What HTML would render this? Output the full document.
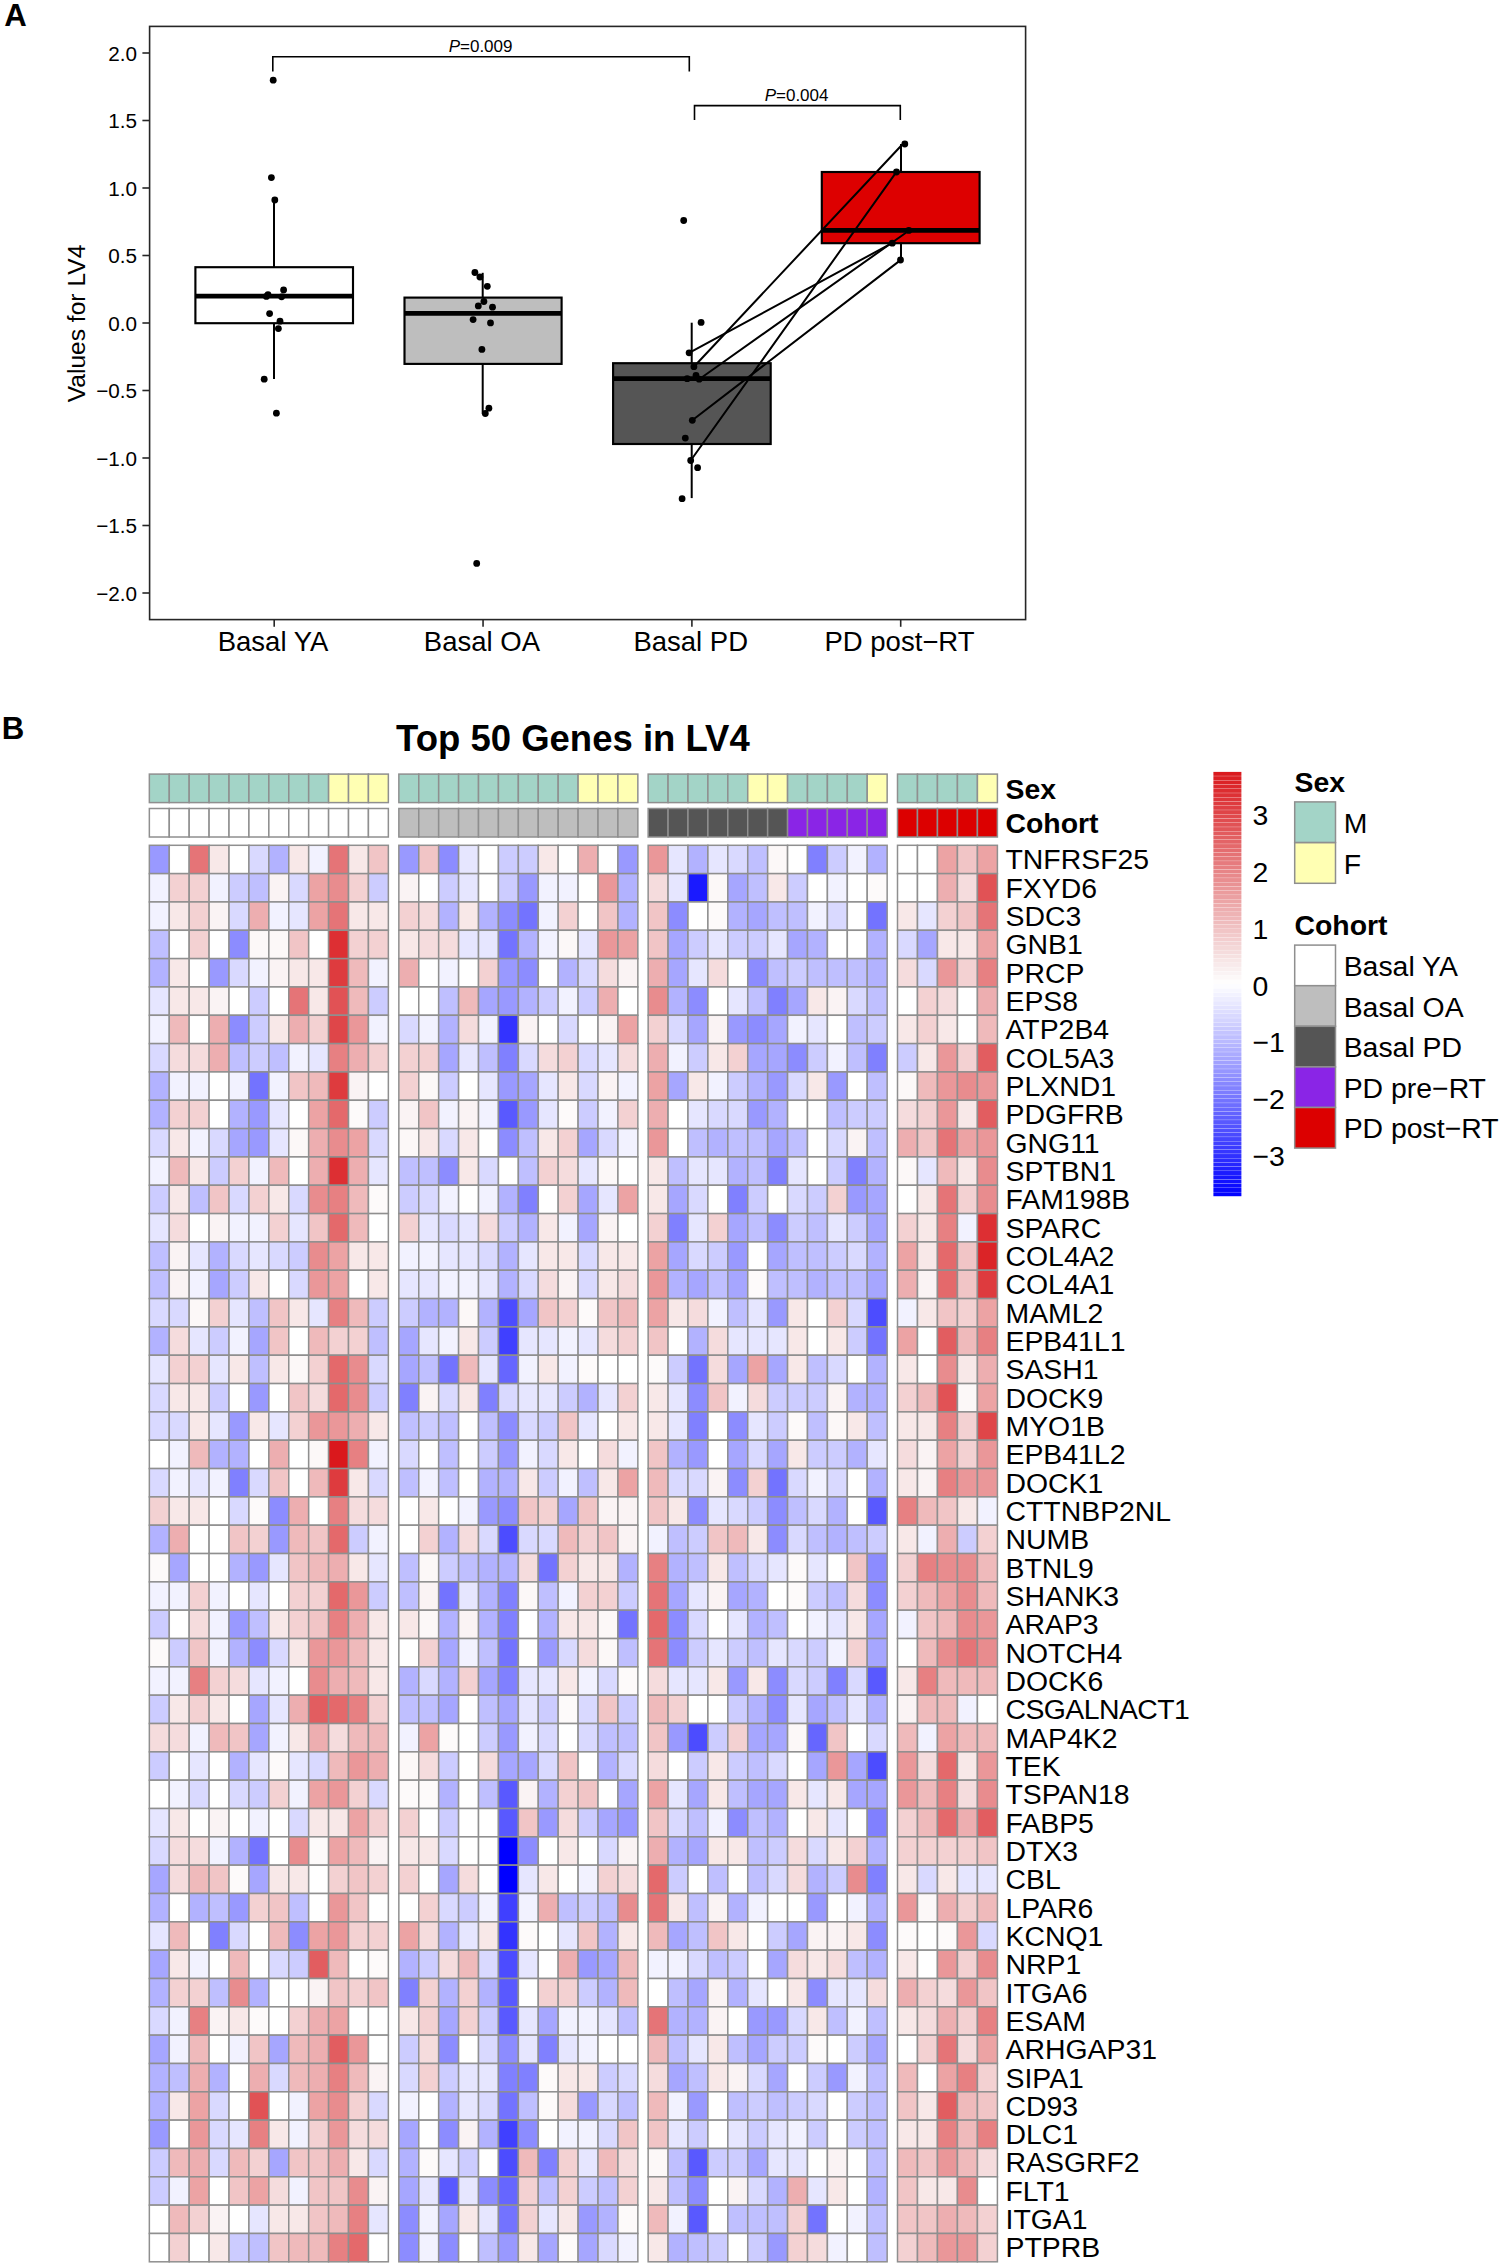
<!DOCTYPE html>
<html lang="en"><head><meta charset="utf-8"><title>Figure: LV4 values and top 50 genes</title>
<style>html,body{margin:0;padding:0;background:#fff}svg{display:block}text{font-family:"Liberation Sans",Arial,Helvetica,sans-serif;fill:#000}</style></head><body>
<svg width="1500" height="2266" viewBox="0 0 1500 2266">
<rect width="1500" height="2266" fill="#fff"/>
<g id="panelA">
<text x="4.3" y="26.2" font-size="31.2" font-weight="bold">A</text>
<line x1="142.4" x2="149.6" y1="53.0" y2="53.0" stroke="#262626" stroke-width="1.6"/>
<text x="137.1" y="60.6" font-size="20.7" text-anchor="end">2.0</text>
<line x1="142.4" x2="149.6" y1="120.5" y2="120.5" stroke="#262626" stroke-width="1.6"/>
<text x="137.1" y="128.1" font-size="20.7" text-anchor="end">1.5</text>
<line x1="142.4" x2="149.6" y1="188.0" y2="188.0" stroke="#262626" stroke-width="1.6"/>
<text x="137.1" y="195.6" font-size="20.7" text-anchor="end">1.0</text>
<line x1="142.4" x2="149.6" y1="255.5" y2="255.5" stroke="#262626" stroke-width="1.6"/>
<text x="137.1" y="263.1" font-size="20.7" text-anchor="end">0.5</text>
<line x1="142.4" x2="149.6" y1="323.0" y2="323.0" stroke="#262626" stroke-width="1.6"/>
<text x="137.1" y="330.6" font-size="20.7" text-anchor="end">0.0</text>
<line x1="142.4" x2="149.6" y1="390.5" y2="390.5" stroke="#262626" stroke-width="1.6"/>
<text x="137.1" y="398.1" font-size="20.7" text-anchor="end">−0.5</text>
<line x1="142.4" x2="149.6" y1="458.0" y2="458.0" stroke="#262626" stroke-width="1.6"/>
<text x="137.1" y="465.6" font-size="20.7" text-anchor="end">−1.0</text>
<line x1="142.4" x2="149.6" y1="525.5" y2="525.5" stroke="#262626" stroke-width="1.6"/>
<text x="137.1" y="533.1" font-size="20.7" text-anchor="end">−1.5</text>
<line x1="142.4" x2="149.6" y1="593.0" y2="593.0" stroke="#262626" stroke-width="1.6"/>
<text x="137.1" y="600.6" font-size="20.7" text-anchor="end">−2.0</text>
<line x1="274.2" x2="274.2" y1="619.6" y2="626.8000000000001" stroke="#262626" stroke-width="1.6"/>
<text x="273.0" y="651" font-size="27.5" text-anchor="middle">Basal YA</text>
<line x1="483.05" x2="483.05" y1="619.6" y2="626.8000000000001" stroke="#262626" stroke-width="1.6"/>
<text x="481.9" y="651" font-size="27.5" text-anchor="middle">Basal OA</text>
<line x1="691.9" x2="691.9" y1="619.6" y2="626.8000000000001" stroke="#262626" stroke-width="1.6"/>
<text x="690.7" y="651" font-size="27.5" text-anchor="middle">Basal PD</text>
<line x1="900.7" x2="900.7" y1="619.6" y2="626.8000000000001" stroke="#262626" stroke-width="1.6"/>
<text x="899.5" y="651" font-size="27.5" text-anchor="middle">PD post−RT</text>
<text transform="translate(85,323.5) rotate(-90)" font-size="24.6" text-anchor="middle">Values for LV4</text>
<line x1="274.0" x2="274.0" y1="200.0" y2="267.2" stroke="#000" stroke-width="2.0"/>
<line x1="274.0" x2="274.0" y1="323.2" y2="379.0" stroke="#000" stroke-width="2.0"/>
<rect x="195.4" y="267.2" width="157.6" height="56.0" fill="#ffffff" stroke="#000" stroke-width="2.15"/>
<line x1="195.4" x2="353.0" y1="296.2" y2="296.2" stroke="#000" stroke-width="4.8"/>
<line x1="482.7" x2="482.7" y1="272.8" y2="297.6" stroke="#000" stroke-width="2.0"/>
<line x1="482.7" x2="482.7" y1="363.9" y2="413.7" stroke="#000" stroke-width="2.0"/>
<rect x="404.5" y="297.6" width="157.1" height="66.3" fill="#bebebe" stroke="#000" stroke-width="2.15"/>
<line x1="404.5" x2="561.6" y1="313.3" y2="313.3" stroke="#000" stroke-width="4.8"/>
<line x1="691.7" x2="691.7" y1="322.7" y2="363.2" stroke="#000" stroke-width="2.0"/>
<line x1="691.7" x2="691.7" y1="444.0" y2="498.1" stroke="#000" stroke-width="2.0"/>
<rect x="613.1" y="363.2" width="157.6" height="80.8" fill="#555555" stroke="#000" stroke-width="2.15"/>
<line x1="613.1" x2="770.7" y1="378.7" y2="378.7" stroke="#000" stroke-width="4.8"/>
<line x1="901.0" x2="901.0" y1="144.0" y2="172.0" stroke="#000" stroke-width="2.0"/>
<line x1="901.0" x2="901.0" y1="243.2" y2="260.0" stroke="#000" stroke-width="2.0"/>
<rect x="821.8" y="172.0" width="157.8" height="71.2" fill="#dd0000" stroke="#000" stroke-width="2.15"/>
<line x1="821.8" x2="979.6" y1="230.4" y2="230.4" stroke="#000" stroke-width="4.8"/>
<line x1="693.9" y1="366.7" x2="900.9" y2="146.0" stroke="#000" stroke-width="2.0" stroke-linecap="round"/>
<line x1="690.7" y1="460.5" x2="896.3" y2="172.1" stroke="#000" stroke-width="2.0" stroke-linecap="round"/>
<line x1="699.2" y1="379.2" x2="909.1" y2="230.5" stroke="#000" stroke-width="2.0" stroke-linecap="round"/>
<line x1="689.1" y1="352.8" x2="892.0" y2="243.1" stroke="#000" stroke-width="2.0" stroke-linecap="round"/>
<line x1="692.3" y1="420.3" x2="900.5" y2="260.1" stroke="#000" stroke-width="2.0" stroke-linecap="round"/>
<circle cx="273.2" cy="80.2" r="3.4" fill="#000"/>
<circle cx="271.4" cy="177.6" r="3.4" fill="#000"/>
<circle cx="274.8" cy="200" r="3.4" fill="#000"/>
<circle cx="283.6" cy="290" r="3.4" fill="#000"/>
<circle cx="266.4" cy="296.4" r="3.4" fill="#000"/>
<circle cx="268.0" cy="294.6" r="3.4" fill="#000"/>
<circle cx="281.6" cy="296.8" r="3.4" fill="#000"/>
<circle cx="269.6" cy="313.6" r="3.4" fill="#000"/>
<circle cx="280" cy="321.2" r="3.4" fill="#000"/>
<circle cx="278.4" cy="328.6" r="3.4" fill="#000"/>
<circle cx="264.2" cy="379.2" r="3.4" fill="#000"/>
<circle cx="276.4" cy="413.2" r="3.4" fill="#000"/>
<circle cx="474.9" cy="272.5" r="3.4" fill="#000"/>
<circle cx="479.9" cy="277" r="3.4" fill="#000"/>
<circle cx="487.3" cy="286.3" r="3.4" fill="#000"/>
<circle cx="483.9" cy="301.5" r="3.4" fill="#000"/>
<circle cx="478.3" cy="305.9" r="3.4" fill="#000"/>
<circle cx="492.5" cy="307.2" r="3.4" fill="#000"/>
<circle cx="473.1" cy="319.6" r="3.4" fill="#000"/>
<circle cx="490.5" cy="322.9" r="3.4" fill="#000"/>
<circle cx="481.9" cy="349.4" r="3.4" fill="#000"/>
<circle cx="488.9" cy="408.2" r="3.4" fill="#000"/>
<circle cx="485.3" cy="413.5" r="3.4" fill="#000"/>
<circle cx="476.7" cy="563.4" r="3.4" fill="#000"/>
<circle cx="683.7" cy="220.5" r="3.4" fill="#000"/>
<circle cx="701.1" cy="322.4" r="3.4" fill="#000"/>
<circle cx="689.1" cy="352.8" r="3.4" fill="#000"/>
<circle cx="693.9" cy="366.7" r="3.4" fill="#000"/>
<circle cx="687.2" cy="378.7" r="3.4" fill="#000"/>
<circle cx="696" cy="375.5" r="3.4" fill="#000"/>
<circle cx="699.2" cy="379.2" r="3.4" fill="#000"/>
<circle cx="692.3" cy="420.3" r="3.4" fill="#000"/>
<circle cx="685.3" cy="438.1" r="3.4" fill="#000"/>
<circle cx="690.7" cy="460.5" r="3.4" fill="#000"/>
<circle cx="697.6" cy="467.7" r="3.4" fill="#000"/>
<circle cx="682.1" cy="498.7" r="3.4" fill="#000"/>
<circle cx="904.8" cy="144" r="3.4" fill="#000"/>
<circle cx="896.5" cy="172" r="3.4" fill="#000"/>
<circle cx="908.8" cy="230.4" r="3.4" fill="#000"/>
<circle cx="892.3" cy="243.2" r="3.4" fill="#000"/>
<circle cx="900.5" cy="260" r="3.4" fill="#000"/>
<path d="M272.8 71.6 V56.7 H689.3 V71.6" fill="none" stroke="#000" stroke-width="1.6"/>
<path d="M694.5 120 V105.6 H900.3 V120" fill="none" stroke="#000" stroke-width="1.6"/>
<text x="480.6" y="51.5" font-size="17" text-anchor="middle"><tspan font-style="italic">P</tspan>=0.009</text>
<text x="796.6" y="100.8" font-size="17" text-anchor="middle"><tspan font-style="italic">P</tspan>=0.004</text>
<rect x="149.6" y="26.4" width="876.0" height="593.2" fill="none" stroke="#262626" stroke-width="1.6"/>
</g>
<g id="panelB">
<text x="1.7" y="739" font-size="31.2" font-weight="bold">B</text>
<text x="572.9" y="751.3" font-size="36.5" font-weight="bold" text-anchor="middle">Top 50 Genes in LV4</text>
<g stroke="#8f8f8f" stroke-width="1.5">
<rect x="149.35" y="774.10" width="19.92" height="28.50" fill="#a3d4c7"/>
<rect x="169.27" y="774.10" width="19.92" height="28.50" fill="#a3d4c7"/>
<rect x="189.18" y="774.10" width="19.92" height="28.50" fill="#a3d4c7"/>
<rect x="209.10" y="774.10" width="19.92" height="28.50" fill="#a3d4c7"/>
<rect x="229.02" y="774.10" width="19.92" height="28.50" fill="#a3d4c7"/>
<rect x="248.93" y="774.10" width="19.92" height="28.50" fill="#a3d4c7"/>
<rect x="268.85" y="774.10" width="19.92" height="28.50" fill="#a3d4c7"/>
<rect x="288.77" y="774.10" width="19.92" height="28.50" fill="#a3d4c7"/>
<rect x="308.68" y="774.10" width="19.92" height="28.50" fill="#a3d4c7"/>
<rect x="328.60" y="774.10" width="19.92" height="28.50" fill="#ffffb3"/>
<rect x="348.52" y="774.10" width="19.92" height="28.50" fill="#ffffb3"/>
<rect x="368.43" y="774.10" width="19.92" height="28.50" fill="#ffffb3"/>
<rect x="398.85" y="774.10" width="19.92" height="28.50" fill="#a3d4c7"/>
<rect x="418.77" y="774.10" width="19.92" height="28.50" fill="#a3d4c7"/>
<rect x="438.68" y="774.10" width="19.92" height="28.50" fill="#a3d4c7"/>
<rect x="458.60" y="774.10" width="19.92" height="28.50" fill="#a3d4c7"/>
<rect x="478.52" y="774.10" width="19.92" height="28.50" fill="#a3d4c7"/>
<rect x="498.43" y="774.10" width="19.92" height="28.50" fill="#a3d4c7"/>
<rect x="518.35" y="774.10" width="19.92" height="28.50" fill="#a3d4c7"/>
<rect x="538.27" y="774.10" width="19.92" height="28.50" fill="#a3d4c7"/>
<rect x="558.18" y="774.10" width="19.92" height="28.50" fill="#a3d4c7"/>
<rect x="578.10" y="774.10" width="19.92" height="28.50" fill="#ffffb3"/>
<rect x="598.02" y="774.10" width="19.92" height="28.50" fill="#ffffb3"/>
<rect x="617.93" y="774.10" width="19.92" height="28.50" fill="#ffffb3"/>
<rect x="648.15" y="774.10" width="19.92" height="28.50" fill="#a3d4c7"/>
<rect x="668.07" y="774.10" width="19.92" height="28.50" fill="#a3d4c7"/>
<rect x="687.98" y="774.10" width="19.92" height="28.50" fill="#a3d4c7"/>
<rect x="707.90" y="774.10" width="19.92" height="28.50" fill="#a3d4c7"/>
<rect x="727.82" y="774.10" width="19.92" height="28.50" fill="#a3d4c7"/>
<rect x="747.73" y="774.10" width="19.92" height="28.50" fill="#ffffb3"/>
<rect x="767.65" y="774.10" width="19.92" height="28.50" fill="#ffffb3"/>
<rect x="787.57" y="774.10" width="19.92" height="28.50" fill="#a3d4c7"/>
<rect x="807.48" y="774.10" width="19.92" height="28.50" fill="#a3d4c7"/>
<rect x="827.40" y="774.10" width="19.92" height="28.50" fill="#a3d4c7"/>
<rect x="847.32" y="774.10" width="19.92" height="28.50" fill="#a3d4c7"/>
<rect x="867.23" y="774.10" width="19.92" height="28.50" fill="#ffffb3"/>
<rect x="897.50" y="774.10" width="19.98" height="28.50" fill="#a3d4c7"/>
<rect x="917.48" y="774.10" width="19.98" height="28.50" fill="#a3d4c7"/>
<rect x="937.46" y="774.10" width="19.98" height="28.50" fill="#a3d4c7"/>
<rect x="957.44" y="774.10" width="19.98" height="28.50" fill="#a3d4c7"/>
<rect x="977.42" y="774.10" width="19.98" height="28.50" fill="#ffffb3"/>
<rect x="149.35" y="808.50" width="19.92" height="28.50" fill="#ffffff"/>
<rect x="169.27" y="808.50" width="19.92" height="28.50" fill="#ffffff"/>
<rect x="189.18" y="808.50" width="19.92" height="28.50" fill="#ffffff"/>
<rect x="209.10" y="808.50" width="19.92" height="28.50" fill="#ffffff"/>
<rect x="229.02" y="808.50" width="19.92" height="28.50" fill="#ffffff"/>
<rect x="248.93" y="808.50" width="19.92" height="28.50" fill="#ffffff"/>
<rect x="268.85" y="808.50" width="19.92" height="28.50" fill="#ffffff"/>
<rect x="288.77" y="808.50" width="19.92" height="28.50" fill="#ffffff"/>
<rect x="308.68" y="808.50" width="19.92" height="28.50" fill="#ffffff"/>
<rect x="328.60" y="808.50" width="19.92" height="28.50" fill="#ffffff"/>
<rect x="348.52" y="808.50" width="19.92" height="28.50" fill="#ffffff"/>
<rect x="368.43" y="808.50" width="19.92" height="28.50" fill="#ffffff"/>
<rect x="398.85" y="808.50" width="19.92" height="28.50" fill="#bebebe"/>
<rect x="418.77" y="808.50" width="19.92" height="28.50" fill="#bebebe"/>
<rect x="438.68" y="808.50" width="19.92" height="28.50" fill="#bebebe"/>
<rect x="458.60" y="808.50" width="19.92" height="28.50" fill="#bebebe"/>
<rect x="478.52" y="808.50" width="19.92" height="28.50" fill="#bebebe"/>
<rect x="498.43" y="808.50" width="19.92" height="28.50" fill="#bebebe"/>
<rect x="518.35" y="808.50" width="19.92" height="28.50" fill="#bebebe"/>
<rect x="538.27" y="808.50" width="19.92" height="28.50" fill="#bebebe"/>
<rect x="558.18" y="808.50" width="19.92" height="28.50" fill="#bebebe"/>
<rect x="578.10" y="808.50" width="19.92" height="28.50" fill="#bebebe"/>
<rect x="598.02" y="808.50" width="19.92" height="28.50" fill="#bebebe"/>
<rect x="617.93" y="808.50" width="19.92" height="28.50" fill="#bebebe"/>
<rect x="648.15" y="808.50" width="19.92" height="28.50" fill="#555555"/>
<rect x="668.07" y="808.50" width="19.92" height="28.50" fill="#555555"/>
<rect x="687.98" y="808.50" width="19.92" height="28.50" fill="#555555"/>
<rect x="707.90" y="808.50" width="19.92" height="28.50" fill="#555555"/>
<rect x="727.82" y="808.50" width="19.92" height="28.50" fill="#555555"/>
<rect x="747.73" y="808.50" width="19.92" height="28.50" fill="#555555"/>
<rect x="767.65" y="808.50" width="19.92" height="28.50" fill="#555555"/>
<rect x="787.57" y="808.50" width="19.92" height="28.50" fill="#8a25e6"/>
<rect x="807.48" y="808.50" width="19.92" height="28.50" fill="#8a25e6"/>
<rect x="827.40" y="808.50" width="19.92" height="28.50" fill="#8a25e6"/>
<rect x="847.32" y="808.50" width="19.92" height="28.50" fill="#8a25e6"/>
<rect x="867.23" y="808.50" width="19.92" height="28.50" fill="#8a25e6"/>
<rect x="897.50" y="808.50" width="19.98" height="28.50" fill="#dc0000"/>
<rect x="917.48" y="808.50" width="19.98" height="28.50" fill="#dc0000"/>
<rect x="937.46" y="808.50" width="19.98" height="28.50" fill="#dc0000"/>
<rect x="957.44" y="808.50" width="19.98" height="28.50" fill="#dc0000"/>
<rect x="977.42" y="808.50" width="19.98" height="28.50" fill="#dc0000"/>
<rect x="149.35" y="845.30" width="19.92" height="28.33" fill="#9999ff"/>
<rect x="169.27" y="845.30" width="19.92" height="28.33" fill="#ffffff"/>
<rect x="189.18" y="845.30" width="19.92" height="28.33" fill="#e57477"/>
<rect x="209.10" y="845.30" width="19.92" height="28.33" fill="#f8e8e8"/>
<rect x="229.02" y="845.30" width="19.92" height="28.33" fill="#ffffff"/>
<rect x="248.93" y="845.30" width="19.92" height="28.33" fill="#d9d9ff"/>
<rect x="268.85" y="845.30" width="19.92" height="28.33" fill="#b2b2ff"/>
<rect x="288.77" y="845.30" width="19.92" height="28.33" fill="#f8e8e8"/>
<rect x="308.68" y="845.30" width="19.92" height="28.33" fill="#f2f2ff"/>
<rect x="328.60" y="845.30" width="19.92" height="28.33" fill="#e57477"/>
<rect x="348.52" y="845.30" width="19.92" height="28.33" fill="#f8e8e8"/>
<rect x="368.43" y="845.30" width="19.92" height="28.33" fill="#f1c5c6"/>
<rect x="398.85" y="845.30" width="19.92" height="28.33" fill="#9999ff"/>
<rect x="418.77" y="845.30" width="19.92" height="28.33" fill="#f1c5c6"/>
<rect x="438.68" y="845.30" width="19.92" height="28.33" fill="#8c8cff"/>
<rect x="458.60" y="845.30" width="19.92" height="28.33" fill="#e6e6ff"/>
<rect x="478.52" y="845.30" width="19.92" height="28.33" fill="#ffffff"/>
<rect x="498.43" y="845.30" width="19.92" height="28.33" fill="#ccccff"/>
<rect x="518.35" y="845.30" width="19.92" height="28.33" fill="#ccccff"/>
<rect x="538.27" y="845.30" width="19.92" height="28.33" fill="#f8e8e8"/>
<rect x="558.18" y="845.30" width="19.92" height="28.33" fill="#ffffff"/>
<rect x="578.10" y="845.30" width="19.92" height="28.33" fill="#edaeb0"/>
<rect x="598.02" y="845.30" width="19.92" height="28.33" fill="#ffffff"/>
<rect x="617.93" y="845.30" width="19.92" height="28.33" fill="#9999ff"/>
<rect x="648.15" y="845.30" width="19.92" height="28.33" fill="#ea9799"/>
<rect x="668.07" y="845.30" width="19.92" height="28.33" fill="#e6e6ff"/>
<rect x="687.98" y="845.30" width="19.92" height="28.33" fill="#b2b2ff"/>
<rect x="707.90" y="845.30" width="19.92" height="28.33" fill="#e6e6ff"/>
<rect x="727.82" y="845.30" width="19.92" height="28.33" fill="#d9d9ff"/>
<rect x="747.73" y="845.30" width="19.92" height="28.33" fill="#bfbfff"/>
<rect x="767.65" y="845.30" width="19.92" height="28.33" fill="#fcf8f8"/>
<rect x="787.57" y="845.30" width="19.92" height="28.33" fill="#ffffff"/>
<rect x="807.48" y="845.30" width="19.92" height="28.33" fill="#8080ff"/>
<rect x="827.40" y="845.30" width="19.92" height="28.33" fill="#ccccff"/>
<rect x="847.32" y="845.30" width="19.92" height="28.33" fill="#f2f2ff"/>
<rect x="867.23" y="845.30" width="19.92" height="28.33" fill="#b2b2ff"/>
<rect x="897.50" y="845.30" width="19.98" height="28.33" fill="#ffffff"/>
<rect x="917.48" y="845.30" width="19.98" height="28.33" fill="#ffffff"/>
<rect x="937.46" y="845.30" width="19.98" height="28.33" fill="#eca3a4"/>
<rect x="957.44" y="845.30" width="19.98" height="28.33" fill="#f1c5c6"/>
<rect x="977.42" y="845.30" width="19.98" height="28.33" fill="#eca3a4"/>
<rect x="149.35" y="873.63" width="19.92" height="28.33" fill="#f2f2ff"/>
<rect x="169.27" y="873.63" width="19.92" height="28.33" fill="#f3d1d2"/>
<rect x="189.18" y="873.63" width="19.92" height="28.33" fill="#f3d1d2"/>
<rect x="209.10" y="873.63" width="19.92" height="28.33" fill="#f2f2ff"/>
<rect x="229.02" y="873.63" width="19.92" height="28.33" fill="#ccccff"/>
<rect x="248.93" y="873.63" width="19.92" height="28.33" fill="#bfbfff"/>
<rect x="268.85" y="873.63" width="19.92" height="28.33" fill="#faf3f4"/>
<rect x="288.77" y="873.63" width="19.92" height="28.33" fill="#d9d9ff"/>
<rect x="308.68" y="873.63" width="19.92" height="28.33" fill="#eca3a4"/>
<rect x="328.60" y="873.63" width="19.92" height="28.33" fill="#e88c8e"/>
<rect x="348.52" y="873.63" width="19.92" height="28.33" fill="#f3d1d2"/>
<rect x="368.43" y="873.63" width="19.92" height="28.33" fill="#ccccff"/>
<rect x="398.85" y="873.63" width="19.92" height="28.33" fill="#faf3f4"/>
<rect x="418.77" y="873.63" width="19.92" height="28.33" fill="#ffffff"/>
<rect x="438.68" y="873.63" width="19.92" height="28.33" fill="#ccccff"/>
<rect x="458.60" y="873.63" width="19.92" height="28.33" fill="#e6e6ff"/>
<rect x="478.52" y="873.63" width="19.92" height="28.33" fill="#ffffff"/>
<rect x="498.43" y="873.63" width="19.92" height="28.33" fill="#ccccff"/>
<rect x="518.35" y="873.63" width="19.92" height="28.33" fill="#9999ff"/>
<rect x="538.27" y="873.63" width="19.92" height="28.33" fill="#f2f2ff"/>
<rect x="558.18" y="873.63" width="19.92" height="28.33" fill="#f2f2ff"/>
<rect x="578.10" y="873.63" width="19.92" height="28.33" fill="#ffffff"/>
<rect x="598.02" y="873.63" width="19.92" height="28.33" fill="#ea9799"/>
<rect x="617.93" y="873.63" width="19.92" height="28.33" fill="#b2b2ff"/>
<rect x="648.15" y="873.63" width="19.92" height="28.33" fill="#f5dcdd"/>
<rect x="668.07" y="873.63" width="19.92" height="28.33" fill="#e6e6ff"/>
<rect x="687.98" y="873.63" width="19.92" height="28.33" fill="#1a1aff"/>
<rect x="707.90" y="873.63" width="19.92" height="28.33" fill="#fcf8f8"/>
<rect x="727.82" y="873.63" width="19.92" height="28.33" fill="#a6a6ff"/>
<rect x="747.73" y="873.63" width="19.92" height="28.33" fill="#bfbfff"/>
<rect x="767.65" y="873.63" width="19.92" height="28.33" fill="#f8e8e8"/>
<rect x="787.57" y="873.63" width="19.92" height="28.33" fill="#ccccff"/>
<rect x="807.48" y="873.63" width="19.92" height="28.33" fill="#ffffff"/>
<rect x="827.40" y="873.63" width="19.92" height="28.33" fill="#f2f2ff"/>
<rect x="847.32" y="873.63" width="19.92" height="28.33" fill="#ffffff"/>
<rect x="867.23" y="873.63" width="19.92" height="28.33" fill="#fdfafa"/>
<rect x="897.50" y="873.63" width="19.98" height="28.33" fill="#ffffff"/>
<rect x="917.48" y="873.63" width="19.98" height="28.33" fill="#ffffff"/>
<rect x="937.46" y="873.63" width="19.98" height="28.33" fill="#edaeb0"/>
<rect x="957.44" y="873.63" width="19.98" height="28.33" fill="#f5dcdd"/>
<rect x="977.42" y="873.63" width="19.98" height="28.33" fill="#e15255"/>
<rect x="149.35" y="901.96" width="19.92" height="28.33" fill="#f2f2ff"/>
<rect x="169.27" y="901.96" width="19.92" height="28.33" fill="#f8e8e8"/>
<rect x="189.18" y="901.96" width="19.92" height="28.33" fill="#f3d1d2"/>
<rect x="209.10" y="901.96" width="19.92" height="28.33" fill="#faf3f4"/>
<rect x="229.02" y="901.96" width="19.92" height="28.33" fill="#d9d9ff"/>
<rect x="248.93" y="901.96" width="19.92" height="28.33" fill="#edaeb0"/>
<rect x="268.85" y="901.96" width="19.92" height="28.33" fill="#f2f2ff"/>
<rect x="288.77" y="901.96" width="19.92" height="28.33" fill="#e6e6ff"/>
<rect x="308.68" y="901.96" width="19.92" height="28.33" fill="#eca3a4"/>
<rect x="328.60" y="901.96" width="19.92" height="28.33" fill="#e57477"/>
<rect x="348.52" y="901.96" width="19.92" height="28.33" fill="#f8e8e8"/>
<rect x="368.43" y="901.96" width="19.92" height="28.33" fill="#f8e8e8"/>
<rect x="398.85" y="901.96" width="19.92" height="28.33" fill="#f3d1d2"/>
<rect x="418.77" y="901.96" width="19.92" height="28.33" fill="#f5dcdd"/>
<rect x="438.68" y="901.96" width="19.92" height="28.33" fill="#b2b2ff"/>
<rect x="458.60" y="901.96" width="19.92" height="28.33" fill="#f8e8e8"/>
<rect x="478.52" y="901.96" width="19.92" height="28.33" fill="#b2b2ff"/>
<rect x="498.43" y="901.96" width="19.92" height="28.33" fill="#8c8cff"/>
<rect x="518.35" y="901.96" width="19.92" height="28.33" fill="#7373ff"/>
<rect x="538.27" y="901.96" width="19.92" height="28.33" fill="#f2f2ff"/>
<rect x="558.18" y="901.96" width="19.92" height="28.33" fill="#f3d1d2"/>
<rect x="578.10" y="901.96" width="19.92" height="28.33" fill="#ffffff"/>
<rect x="598.02" y="901.96" width="19.92" height="28.33" fill="#f1c5c6"/>
<rect x="617.93" y="901.96" width="19.92" height="28.33" fill="#b2b2ff"/>
<rect x="648.15" y="901.96" width="19.92" height="28.33" fill="#f1c5c6"/>
<rect x="668.07" y="901.96" width="19.92" height="28.33" fill="#8c8cff"/>
<rect x="687.98" y="901.96" width="19.92" height="28.33" fill="#ffffff"/>
<rect x="707.90" y="901.96" width="19.92" height="28.33" fill="#fdfafa"/>
<rect x="727.82" y="901.96" width="19.92" height="28.33" fill="#b2b2ff"/>
<rect x="747.73" y="901.96" width="19.92" height="28.33" fill="#a6a6ff"/>
<rect x="767.65" y="901.96" width="19.92" height="28.33" fill="#bfbfff"/>
<rect x="787.57" y="901.96" width="19.92" height="28.33" fill="#bfbfff"/>
<rect x="807.48" y="901.96" width="19.92" height="28.33" fill="#f2f2ff"/>
<rect x="827.40" y="901.96" width="19.92" height="28.33" fill="#d9d9ff"/>
<rect x="847.32" y="901.96" width="19.92" height="28.33" fill="#ffffff"/>
<rect x="867.23" y="901.96" width="19.92" height="28.33" fill="#7373ff"/>
<rect x="897.50" y="901.96" width="19.98" height="28.33" fill="#f8e8e8"/>
<rect x="917.48" y="901.96" width="19.98" height="28.33" fill="#e6e6ff"/>
<rect x="937.46" y="901.96" width="19.98" height="28.33" fill="#f3d1d2"/>
<rect x="957.44" y="901.96" width="19.98" height="28.33" fill="#f1c5c6"/>
<rect x="977.42" y="901.96" width="19.98" height="28.33" fill="#e57477"/>
<rect x="149.35" y="930.29" width="19.92" height="28.33" fill="#bfbfff"/>
<rect x="169.27" y="930.29" width="19.92" height="28.33" fill="#ffffff"/>
<rect x="189.18" y="930.29" width="19.92" height="28.33" fill="#f3d1d2"/>
<rect x="209.10" y="930.29" width="19.92" height="28.33" fill="#ffffff"/>
<rect x="229.02" y="930.29" width="19.92" height="28.33" fill="#8c8cff"/>
<rect x="248.93" y="930.29" width="19.92" height="28.33" fill="#fcf8f8"/>
<rect x="268.85" y="930.29" width="19.92" height="28.33" fill="#fcf8f8"/>
<rect x="288.77" y="930.29" width="19.92" height="28.33" fill="#f1c5c6"/>
<rect x="308.68" y="930.29" width="19.92" height="28.33" fill="#ffffff"/>
<rect x="328.60" y="930.29" width="19.92" height="28.33" fill="#dd2f33"/>
<rect x="348.52" y="930.29" width="19.92" height="28.33" fill="#f3d1d2"/>
<rect x="368.43" y="930.29" width="19.92" height="28.33" fill="#f3d1d2"/>
<rect x="398.85" y="930.29" width="19.92" height="28.33" fill="#f8e8e8"/>
<rect x="418.77" y="930.29" width="19.92" height="28.33" fill="#f5dcdd"/>
<rect x="438.68" y="930.29" width="19.92" height="28.33" fill="#f5dcdd"/>
<rect x="458.60" y="930.29" width="19.92" height="28.33" fill="#e6e6ff"/>
<rect x="478.52" y="930.29" width="19.92" height="28.33" fill="#e6e6ff"/>
<rect x="498.43" y="930.29" width="19.92" height="28.33" fill="#7373ff"/>
<rect x="518.35" y="930.29" width="19.92" height="28.33" fill="#b2b2ff"/>
<rect x="538.27" y="930.29" width="19.92" height="28.33" fill="#f2f2ff"/>
<rect x="558.18" y="930.29" width="19.92" height="28.33" fill="#fcf8f8"/>
<rect x="578.10" y="930.29" width="19.92" height="28.33" fill="#e6e6ff"/>
<rect x="598.02" y="930.29" width="19.92" height="28.33" fill="#ea9799"/>
<rect x="617.93" y="930.29" width="19.92" height="28.33" fill="#eca3a4"/>
<rect x="648.15" y="930.29" width="19.92" height="28.33" fill="#f1c5c6"/>
<rect x="668.07" y="930.29" width="19.92" height="28.33" fill="#a6a6ff"/>
<rect x="687.98" y="930.29" width="19.92" height="28.33" fill="#ccccff"/>
<rect x="707.90" y="930.29" width="19.92" height="28.33" fill="#e6e6ff"/>
<rect x="727.82" y="930.29" width="19.92" height="28.33" fill="#ccccff"/>
<rect x="747.73" y="930.29" width="19.92" height="28.33" fill="#ccccff"/>
<rect x="767.65" y="930.29" width="19.92" height="28.33" fill="#e6e6ff"/>
<rect x="787.57" y="930.29" width="19.92" height="28.33" fill="#a6a6ff"/>
<rect x="807.48" y="930.29" width="19.92" height="28.33" fill="#b2b2ff"/>
<rect x="827.40" y="930.29" width="19.92" height="28.33" fill="#ffffff"/>
<rect x="847.32" y="930.29" width="19.92" height="28.33" fill="#ffffff"/>
<rect x="867.23" y="930.29" width="19.92" height="28.33" fill="#b2b2ff"/>
<rect x="897.50" y="930.29" width="19.98" height="28.33" fill="#d9d9ff"/>
<rect x="917.48" y="930.29" width="19.98" height="28.33" fill="#a6a6ff"/>
<rect x="937.46" y="930.29" width="19.98" height="28.33" fill="#f8e8e8"/>
<rect x="957.44" y="930.29" width="19.98" height="28.33" fill="#f8e8e8"/>
<rect x="977.42" y="930.29" width="19.98" height="28.33" fill="#eca3a4"/>
<rect x="149.35" y="958.62" width="19.92" height="28.33" fill="#b2b2ff"/>
<rect x="169.27" y="958.62" width="19.92" height="28.33" fill="#f8e8e8"/>
<rect x="189.18" y="958.62" width="19.92" height="28.33" fill="#ffffff"/>
<rect x="209.10" y="958.62" width="19.92" height="28.33" fill="#9999ff"/>
<rect x="229.02" y="958.62" width="19.92" height="28.33" fill="#d9d9ff"/>
<rect x="248.93" y="958.62" width="19.92" height="28.33" fill="#f2f2ff"/>
<rect x="268.85" y="958.62" width="19.92" height="28.33" fill="#faf3f4"/>
<rect x="288.77" y="958.62" width="19.92" height="28.33" fill="#f8e8e8"/>
<rect x="308.68" y="958.62" width="19.92" height="28.33" fill="#f8e8e8"/>
<rect x="328.60" y="958.62" width="19.92" height="28.33" fill="#de3b3e"/>
<rect x="348.52" y="958.62" width="19.92" height="28.33" fill="#efbabb"/>
<rect x="368.43" y="958.62" width="19.92" height="28.33" fill="#f2f2ff"/>
<rect x="398.85" y="958.62" width="19.92" height="28.33" fill="#edaeb0"/>
<rect x="418.77" y="958.62" width="19.92" height="28.33" fill="#ffffff"/>
<rect x="438.68" y="958.62" width="19.92" height="28.33" fill="#f2f2ff"/>
<rect x="458.60" y="958.62" width="19.92" height="28.33" fill="#ffffff"/>
<rect x="478.52" y="958.62" width="19.92" height="28.33" fill="#f3d1d2"/>
<rect x="498.43" y="958.62" width="19.92" height="28.33" fill="#9999ff"/>
<rect x="518.35" y="958.62" width="19.92" height="28.33" fill="#8c8cff"/>
<rect x="538.27" y="958.62" width="19.92" height="28.33" fill="#ffffff"/>
<rect x="558.18" y="958.62" width="19.92" height="28.33" fill="#b2b2ff"/>
<rect x="578.10" y="958.62" width="19.92" height="28.33" fill="#d9d9ff"/>
<rect x="598.02" y="958.62" width="19.92" height="28.33" fill="#f5dcdd"/>
<rect x="617.93" y="958.62" width="19.92" height="28.33" fill="#faf3f4"/>
<rect x="648.15" y="958.62" width="19.92" height="28.33" fill="#edaeb0"/>
<rect x="668.07" y="958.62" width="19.92" height="28.33" fill="#a6a6ff"/>
<rect x="687.98" y="958.62" width="19.92" height="28.33" fill="#e6e6ff"/>
<rect x="707.90" y="958.62" width="19.92" height="28.33" fill="#f5dcdd"/>
<rect x="727.82" y="958.62" width="19.92" height="28.33" fill="#ffffff"/>
<rect x="747.73" y="958.62" width="19.92" height="28.33" fill="#8c8cff"/>
<rect x="767.65" y="958.62" width="19.92" height="28.33" fill="#bfbfff"/>
<rect x="787.57" y="958.62" width="19.92" height="28.33" fill="#ccccff"/>
<rect x="807.48" y="958.62" width="19.92" height="28.33" fill="#bfbfff"/>
<rect x="827.40" y="958.62" width="19.92" height="28.33" fill="#bfbfff"/>
<rect x="847.32" y="958.62" width="19.92" height="28.33" fill="#bfbfff"/>
<rect x="867.23" y="958.62" width="19.92" height="28.33" fill="#b2b2ff"/>
<rect x="897.50" y="958.62" width="19.98" height="28.33" fill="#f5dcdd"/>
<rect x="917.48" y="958.62" width="19.98" height="28.33" fill="#d9d9ff"/>
<rect x="937.46" y="958.62" width="19.98" height="28.33" fill="#ea9799"/>
<rect x="957.44" y="958.62" width="19.98" height="28.33" fill="#f3d1d2"/>
<rect x="977.42" y="958.62" width="19.98" height="28.33" fill="#e78082"/>
<rect x="149.35" y="986.95" width="19.92" height="28.33" fill="#e6e6ff"/>
<rect x="169.27" y="986.95" width="19.92" height="28.33" fill="#f8e8e8"/>
<rect x="189.18" y="986.95" width="19.92" height="28.33" fill="#f8e8e8"/>
<rect x="209.10" y="986.95" width="19.92" height="28.33" fill="#faf3f4"/>
<rect x="229.02" y="986.95" width="19.92" height="28.33" fill="#ffffff"/>
<rect x="248.93" y="986.95" width="19.92" height="28.33" fill="#ccccff"/>
<rect x="268.85" y="986.95" width="19.92" height="28.33" fill="#ffffff"/>
<rect x="288.77" y="986.95" width="19.92" height="28.33" fill="#e57477"/>
<rect x="308.68" y="986.95" width="19.92" height="28.33" fill="#f8e8e8"/>
<rect x="328.60" y="986.95" width="19.92" height="28.33" fill="#e15255"/>
<rect x="348.52" y="986.95" width="19.92" height="28.33" fill="#efbabb"/>
<rect x="368.43" y="986.95" width="19.92" height="28.33" fill="#ccccff"/>
<rect x="398.85" y="986.95" width="19.92" height="28.33" fill="#ffffff"/>
<rect x="418.77" y="986.95" width="19.92" height="28.33" fill="#ffffff"/>
<rect x="438.68" y="986.95" width="19.92" height="28.33" fill="#bfbfff"/>
<rect x="458.60" y="986.95" width="19.92" height="28.33" fill="#efbabb"/>
<rect x="478.52" y="986.95" width="19.92" height="28.33" fill="#a6a6ff"/>
<rect x="498.43" y="986.95" width="19.92" height="28.33" fill="#9999ff"/>
<rect x="518.35" y="986.95" width="19.92" height="28.33" fill="#b2b2ff"/>
<rect x="538.27" y="986.95" width="19.92" height="28.33" fill="#ccccff"/>
<rect x="558.18" y="986.95" width="19.92" height="28.33" fill="#f2f2ff"/>
<rect x="578.10" y="986.95" width="19.92" height="28.33" fill="#ccccff"/>
<rect x="598.02" y="986.95" width="19.92" height="28.33" fill="#edaeb0"/>
<rect x="617.93" y="986.95" width="19.92" height="28.33" fill="#ffffff"/>
<rect x="648.15" y="986.95" width="19.92" height="28.33" fill="#e88c8e"/>
<rect x="668.07" y="986.95" width="19.92" height="28.33" fill="#b2b2ff"/>
<rect x="687.98" y="986.95" width="19.92" height="28.33" fill="#8c8cff"/>
<rect x="707.90" y="986.95" width="19.92" height="28.33" fill="#ffffff"/>
<rect x="727.82" y="986.95" width="19.92" height="28.33" fill="#e6e6ff"/>
<rect x="747.73" y="986.95" width="19.92" height="28.33" fill="#bfbfff"/>
<rect x="767.65" y="986.95" width="19.92" height="28.33" fill="#8080ff"/>
<rect x="787.57" y="986.95" width="19.92" height="28.33" fill="#a6a6ff"/>
<rect x="807.48" y="986.95" width="19.92" height="28.33" fill="#f8e8e8"/>
<rect x="827.40" y="986.95" width="19.92" height="28.33" fill="#faf3f4"/>
<rect x="847.32" y="986.95" width="19.92" height="28.33" fill="#d9d9ff"/>
<rect x="867.23" y="986.95" width="19.92" height="28.33" fill="#bfbfff"/>
<rect x="897.50" y="986.95" width="19.98" height="28.33" fill="#ffffff"/>
<rect x="917.48" y="986.95" width="19.98" height="28.33" fill="#f3d1d2"/>
<rect x="937.46" y="986.95" width="19.98" height="28.33" fill="#f5dcdd"/>
<rect x="957.44" y="986.95" width="19.98" height="28.33" fill="#ffffff"/>
<rect x="977.42" y="986.95" width="19.98" height="28.33" fill="#edaeb0"/>
<rect x="149.35" y="1015.28" width="19.92" height="28.33" fill="#f2f2ff"/>
<rect x="169.27" y="1015.28" width="19.92" height="28.33" fill="#efbabb"/>
<rect x="189.18" y="1015.28" width="19.92" height="28.33" fill="#ffffff"/>
<rect x="209.10" y="1015.28" width="19.92" height="28.33" fill="#edaeb0"/>
<rect x="229.02" y="1015.28" width="19.92" height="28.33" fill="#8c8cff"/>
<rect x="248.93" y="1015.28" width="19.92" height="28.33" fill="#ccccff"/>
<rect x="268.85" y="1015.28" width="19.92" height="28.33" fill="#f8e8e8"/>
<rect x="288.77" y="1015.28" width="19.92" height="28.33" fill="#edaeb0"/>
<rect x="308.68" y="1015.28" width="19.92" height="28.33" fill="#f3d1d2"/>
<rect x="328.60" y="1015.28" width="19.92" height="28.33" fill="#df4649"/>
<rect x="348.52" y="1015.28" width="19.92" height="28.33" fill="#ea9799"/>
<rect x="368.43" y="1015.28" width="19.92" height="28.33" fill="#f2f2ff"/>
<rect x="398.85" y="1015.28" width="19.92" height="28.33" fill="#d9d9ff"/>
<rect x="418.77" y="1015.28" width="19.92" height="28.33" fill="#f2f2ff"/>
<rect x="438.68" y="1015.28" width="19.92" height="28.33" fill="#b2b2ff"/>
<rect x="458.60" y="1015.28" width="19.92" height="28.33" fill="#f5dcdd"/>
<rect x="478.52" y="1015.28" width="19.92" height="28.33" fill="#f2f2ff"/>
<rect x="498.43" y="1015.28" width="19.92" height="28.33" fill="#3333ff"/>
<rect x="518.35" y="1015.28" width="19.92" height="28.33" fill="#faf3f4"/>
<rect x="538.27" y="1015.28" width="19.92" height="28.33" fill="#ffffff"/>
<rect x="558.18" y="1015.28" width="19.92" height="28.33" fill="#d9d9ff"/>
<rect x="578.10" y="1015.28" width="19.92" height="28.33" fill="#ffffff"/>
<rect x="598.02" y="1015.28" width="19.92" height="28.33" fill="#faf3f4"/>
<rect x="617.93" y="1015.28" width="19.92" height="28.33" fill="#eca3a4"/>
<rect x="648.15" y="1015.28" width="19.92" height="28.33" fill="#f3d1d2"/>
<rect x="668.07" y="1015.28" width="19.92" height="28.33" fill="#d9d9ff"/>
<rect x="687.98" y="1015.28" width="19.92" height="28.33" fill="#a6a6ff"/>
<rect x="707.90" y="1015.28" width="19.92" height="28.33" fill="#faf3f4"/>
<rect x="727.82" y="1015.28" width="19.92" height="28.33" fill="#9999ff"/>
<rect x="747.73" y="1015.28" width="19.92" height="28.33" fill="#8c8cff"/>
<rect x="767.65" y="1015.28" width="19.92" height="28.33" fill="#a6a6ff"/>
<rect x="787.57" y="1015.28" width="19.92" height="28.33" fill="#f2f2ff"/>
<rect x="807.48" y="1015.28" width="19.92" height="28.33" fill="#e6e6ff"/>
<rect x="827.40" y="1015.28" width="19.92" height="28.33" fill="#ffffff"/>
<rect x="847.32" y="1015.28" width="19.92" height="28.33" fill="#bfbfff"/>
<rect x="867.23" y="1015.28" width="19.92" height="28.33" fill="#ccccff"/>
<rect x="897.50" y="1015.28" width="19.98" height="28.33" fill="#f8e8e8"/>
<rect x="917.48" y="1015.28" width="19.98" height="28.33" fill="#f3d1d2"/>
<rect x="937.46" y="1015.28" width="19.98" height="28.33" fill="#f8e8e8"/>
<rect x="957.44" y="1015.28" width="19.98" height="28.33" fill="#ffffff"/>
<rect x="977.42" y="1015.28" width="19.98" height="28.33" fill="#efbabb"/>
<rect x="149.35" y="1043.61" width="19.92" height="28.33" fill="#d9d9ff"/>
<rect x="169.27" y="1043.61" width="19.92" height="28.33" fill="#f5dcdd"/>
<rect x="189.18" y="1043.61" width="19.92" height="28.33" fill="#f5dcdd"/>
<rect x="209.10" y="1043.61" width="19.92" height="28.33" fill="#edaeb0"/>
<rect x="229.02" y="1043.61" width="19.92" height="28.33" fill="#bfbfff"/>
<rect x="248.93" y="1043.61" width="19.92" height="28.33" fill="#ccccff"/>
<rect x="268.85" y="1043.61" width="19.92" height="28.33" fill="#bfbfff"/>
<rect x="288.77" y="1043.61" width="19.92" height="28.33" fill="#f2f2ff"/>
<rect x="308.68" y="1043.61" width="19.92" height="28.33" fill="#e6e6ff"/>
<rect x="328.60" y="1043.61" width="19.92" height="28.33" fill="#e78082"/>
<rect x="348.52" y="1043.61" width="19.92" height="28.33" fill="#edaeb0"/>
<rect x="368.43" y="1043.61" width="19.92" height="28.33" fill="#f3d1d2"/>
<rect x="398.85" y="1043.61" width="19.92" height="28.33" fill="#f3d1d2"/>
<rect x="418.77" y="1043.61" width="19.92" height="28.33" fill="#f3d1d2"/>
<rect x="438.68" y="1043.61" width="19.92" height="28.33" fill="#a6a6ff"/>
<rect x="458.60" y="1043.61" width="19.92" height="28.33" fill="#e6e6ff"/>
<rect x="478.52" y="1043.61" width="19.92" height="28.33" fill="#bfbfff"/>
<rect x="498.43" y="1043.61" width="19.92" height="28.33" fill="#8080ff"/>
<rect x="518.35" y="1043.61" width="19.92" height="28.33" fill="#d9d9ff"/>
<rect x="538.27" y="1043.61" width="19.92" height="28.33" fill="#f5dcdd"/>
<rect x="558.18" y="1043.61" width="19.92" height="28.33" fill="#f3d1d2"/>
<rect x="578.10" y="1043.61" width="19.92" height="28.33" fill="#d9d9ff"/>
<rect x="598.02" y="1043.61" width="19.92" height="28.33" fill="#e6e6ff"/>
<rect x="617.93" y="1043.61" width="19.92" height="28.33" fill="#f5dcdd"/>
<rect x="648.15" y="1043.61" width="19.92" height="28.33" fill="#edaeb0"/>
<rect x="668.07" y="1043.61" width="19.92" height="28.33" fill="#f2f2ff"/>
<rect x="687.98" y="1043.61" width="19.92" height="28.33" fill="#ccccff"/>
<rect x="707.90" y="1043.61" width="19.92" height="28.33" fill="#f8e8e8"/>
<rect x="727.82" y="1043.61" width="19.92" height="28.33" fill="#f3d1d2"/>
<rect x="747.73" y="1043.61" width="19.92" height="28.33" fill="#a6a6ff"/>
<rect x="767.65" y="1043.61" width="19.92" height="28.33" fill="#a6a6ff"/>
<rect x="787.57" y="1043.61" width="19.92" height="28.33" fill="#8c8cff"/>
<rect x="807.48" y="1043.61" width="19.92" height="28.33" fill="#ccccff"/>
<rect x="827.40" y="1043.61" width="19.92" height="28.33" fill="#f2f2ff"/>
<rect x="847.32" y="1043.61" width="19.92" height="28.33" fill="#bfbfff"/>
<rect x="867.23" y="1043.61" width="19.92" height="28.33" fill="#8080ff"/>
<rect x="897.50" y="1043.61" width="19.98" height="28.33" fill="#ccccff"/>
<rect x="917.48" y="1043.61" width="19.98" height="28.33" fill="#f8e8e8"/>
<rect x="937.46" y="1043.61" width="19.98" height="28.33" fill="#ea9799"/>
<rect x="957.44" y="1043.61" width="19.98" height="28.33" fill="#f3d1d2"/>
<rect x="977.42" y="1043.61" width="19.98" height="28.33" fill="#e25d60"/>
<rect x="149.35" y="1071.94" width="19.92" height="28.33" fill="#b2b2ff"/>
<rect x="169.27" y="1071.94" width="19.92" height="28.33" fill="#f2f2ff"/>
<rect x="189.18" y="1071.94" width="19.92" height="28.33" fill="#f2f2ff"/>
<rect x="209.10" y="1071.94" width="19.92" height="28.33" fill="#ffffff"/>
<rect x="229.02" y="1071.94" width="19.92" height="28.33" fill="#f2f2ff"/>
<rect x="248.93" y="1071.94" width="19.92" height="28.33" fill="#7373ff"/>
<rect x="268.85" y="1071.94" width="19.92" height="28.33" fill="#f2f2ff"/>
<rect x="288.77" y="1071.94" width="19.92" height="28.33" fill="#f1c5c6"/>
<rect x="308.68" y="1071.94" width="19.92" height="28.33" fill="#efbabb"/>
<rect x="328.60" y="1071.94" width="19.92" height="28.33" fill="#de3b3e"/>
<rect x="348.52" y="1071.94" width="19.92" height="28.33" fill="#faf3f4"/>
<rect x="368.43" y="1071.94" width="19.92" height="28.33" fill="#ffffff"/>
<rect x="398.85" y="1071.94" width="19.92" height="28.33" fill="#f3d1d2"/>
<rect x="418.77" y="1071.94" width="19.92" height="28.33" fill="#fcf8f8"/>
<rect x="438.68" y="1071.94" width="19.92" height="28.33" fill="#ccccff"/>
<rect x="458.60" y="1071.94" width="19.92" height="28.33" fill="#ffffff"/>
<rect x="478.52" y="1071.94" width="19.92" height="28.33" fill="#e6e6ff"/>
<rect x="498.43" y="1071.94" width="19.92" height="28.33" fill="#9999ff"/>
<rect x="518.35" y="1071.94" width="19.92" height="28.33" fill="#a6a6ff"/>
<rect x="538.27" y="1071.94" width="19.92" height="28.33" fill="#e6e6ff"/>
<rect x="558.18" y="1071.94" width="19.92" height="28.33" fill="#f8e8e8"/>
<rect x="578.10" y="1071.94" width="19.92" height="28.33" fill="#d9d9ff"/>
<rect x="598.02" y="1071.94" width="19.92" height="28.33" fill="#faf3f4"/>
<rect x="617.93" y="1071.94" width="19.92" height="28.33" fill="#f2f2ff"/>
<rect x="648.15" y="1071.94" width="19.92" height="28.33" fill="#eca3a4"/>
<rect x="668.07" y="1071.94" width="19.92" height="28.33" fill="#a6a6ff"/>
<rect x="687.98" y="1071.94" width="19.92" height="28.33" fill="#f8e8e8"/>
<rect x="707.90" y="1071.94" width="19.92" height="28.33" fill="#f2f2ff"/>
<rect x="727.82" y="1071.94" width="19.92" height="28.33" fill="#ccccff"/>
<rect x="747.73" y="1071.94" width="19.92" height="28.33" fill="#b2b2ff"/>
<rect x="767.65" y="1071.94" width="19.92" height="28.33" fill="#9999ff"/>
<rect x="787.57" y="1071.94" width="19.92" height="28.33" fill="#d9d9ff"/>
<rect x="807.48" y="1071.94" width="19.92" height="28.33" fill="#f8e8e8"/>
<rect x="827.40" y="1071.94" width="19.92" height="28.33" fill="#9999ff"/>
<rect x="847.32" y="1071.94" width="19.92" height="28.33" fill="#ffffff"/>
<rect x="867.23" y="1071.94" width="19.92" height="28.33" fill="#bfbfff"/>
<rect x="897.50" y="1071.94" width="19.98" height="28.33" fill="#fcf8f8"/>
<rect x="917.48" y="1071.94" width="19.98" height="28.33" fill="#efbabb"/>
<rect x="937.46" y="1071.94" width="19.98" height="28.33" fill="#ea9799"/>
<rect x="957.44" y="1071.94" width="19.98" height="28.33" fill="#e88c8e"/>
<rect x="977.42" y="1071.94" width="19.98" height="28.33" fill="#ea9799"/>
<rect x="149.35" y="1100.27" width="19.92" height="28.33" fill="#b2b2ff"/>
<rect x="169.27" y="1100.27" width="19.92" height="28.33" fill="#f3d1d2"/>
<rect x="189.18" y="1100.27" width="19.92" height="28.33" fill="#f3d1d2"/>
<rect x="209.10" y="1100.27" width="19.92" height="28.33" fill="#ffffff"/>
<rect x="229.02" y="1100.27" width="19.92" height="28.33" fill="#b2b2ff"/>
<rect x="248.93" y="1100.27" width="19.92" height="28.33" fill="#9999ff"/>
<rect x="268.85" y="1100.27" width="19.92" height="28.33" fill="#e6e6ff"/>
<rect x="288.77" y="1100.27" width="19.92" height="28.33" fill="#ffffff"/>
<rect x="308.68" y="1100.27" width="19.92" height="28.33" fill="#eca3a4"/>
<rect x="328.60" y="1100.27" width="19.92" height="28.33" fill="#e4696b"/>
<rect x="348.52" y="1100.27" width="19.92" height="28.33" fill="#fdfafa"/>
<rect x="368.43" y="1100.27" width="19.92" height="28.33" fill="#ccccff"/>
<rect x="398.85" y="1100.27" width="19.92" height="28.33" fill="#faf3f4"/>
<rect x="418.77" y="1100.27" width="19.92" height="28.33" fill="#f1c5c6"/>
<rect x="438.68" y="1100.27" width="19.92" height="28.33" fill="#f2f2ff"/>
<rect x="458.60" y="1100.27" width="19.92" height="28.33" fill="#faf3f4"/>
<rect x="478.52" y="1100.27" width="19.92" height="28.33" fill="#f2f2ff"/>
<rect x="498.43" y="1100.27" width="19.92" height="28.33" fill="#5959ff"/>
<rect x="518.35" y="1100.27" width="19.92" height="28.33" fill="#9999ff"/>
<rect x="538.27" y="1100.27" width="19.92" height="28.33" fill="#e6e6ff"/>
<rect x="558.18" y="1100.27" width="19.92" height="28.33" fill="#fdfafa"/>
<rect x="578.10" y="1100.27" width="19.92" height="28.33" fill="#ccccff"/>
<rect x="598.02" y="1100.27" width="19.92" height="28.33" fill="#f2f2ff"/>
<rect x="617.93" y="1100.27" width="19.92" height="28.33" fill="#f3d1d2"/>
<rect x="648.15" y="1100.27" width="19.92" height="28.33" fill="#edaeb0"/>
<rect x="668.07" y="1100.27" width="19.92" height="28.33" fill="#ffffff"/>
<rect x="687.98" y="1100.27" width="19.92" height="28.33" fill="#e6e6ff"/>
<rect x="707.90" y="1100.27" width="19.92" height="28.33" fill="#d9d9ff"/>
<rect x="727.82" y="1100.27" width="19.92" height="28.33" fill="#d9d9ff"/>
<rect x="747.73" y="1100.27" width="19.92" height="28.33" fill="#9999ff"/>
<rect x="767.65" y="1100.27" width="19.92" height="28.33" fill="#b2b2ff"/>
<rect x="787.57" y="1100.27" width="19.92" height="28.33" fill="#ffffff"/>
<rect x="807.48" y="1100.27" width="19.92" height="28.33" fill="#ffffff"/>
<rect x="827.40" y="1100.27" width="19.92" height="28.33" fill="#bfbfff"/>
<rect x="847.32" y="1100.27" width="19.92" height="28.33" fill="#ccccff"/>
<rect x="867.23" y="1100.27" width="19.92" height="28.33" fill="#ccccff"/>
<rect x="897.50" y="1100.27" width="19.98" height="28.33" fill="#f5dcdd"/>
<rect x="917.48" y="1100.27" width="19.98" height="28.33" fill="#f3d1d2"/>
<rect x="937.46" y="1100.27" width="19.98" height="28.33" fill="#ea9799"/>
<rect x="957.44" y="1100.27" width="19.98" height="28.33" fill="#f8e8e8"/>
<rect x="977.42" y="1100.27" width="19.98" height="28.33" fill="#e25d60"/>
<rect x="149.35" y="1128.60" width="19.92" height="28.33" fill="#d9d9ff"/>
<rect x="169.27" y="1128.60" width="19.92" height="28.33" fill="#f8e8e8"/>
<rect x="189.18" y="1128.60" width="19.92" height="28.33" fill="#f2f2ff"/>
<rect x="209.10" y="1128.60" width="19.92" height="28.33" fill="#d9d9ff"/>
<rect x="229.02" y="1128.60" width="19.92" height="28.33" fill="#a6a6ff"/>
<rect x="248.93" y="1128.60" width="19.92" height="28.33" fill="#9999ff"/>
<rect x="268.85" y="1128.60" width="19.92" height="28.33" fill="#e6e6ff"/>
<rect x="288.77" y="1128.60" width="19.92" height="28.33" fill="#fcf8f8"/>
<rect x="308.68" y="1128.60" width="19.92" height="28.33" fill="#edaeb0"/>
<rect x="328.60" y="1128.60" width="19.92" height="28.33" fill="#e88c8e"/>
<rect x="348.52" y="1128.60" width="19.92" height="28.33" fill="#eca3a4"/>
<rect x="368.43" y="1128.60" width="19.92" height="28.33" fill="#d9d9ff"/>
<rect x="398.85" y="1128.60" width="19.92" height="28.33" fill="#fcf8f8"/>
<rect x="418.77" y="1128.60" width="19.92" height="28.33" fill="#f8e8e8"/>
<rect x="438.68" y="1128.60" width="19.92" height="28.33" fill="#d9d9ff"/>
<rect x="458.60" y="1128.60" width="19.92" height="28.33" fill="#f8e8e8"/>
<rect x="478.52" y="1128.60" width="19.92" height="28.33" fill="#ffffff"/>
<rect x="498.43" y="1128.60" width="19.92" height="28.33" fill="#8c8cff"/>
<rect x="518.35" y="1128.60" width="19.92" height="28.33" fill="#bfbfff"/>
<rect x="538.27" y="1128.60" width="19.92" height="28.33" fill="#f8e8e8"/>
<rect x="558.18" y="1128.60" width="19.92" height="28.33" fill="#f3d1d2"/>
<rect x="578.10" y="1128.60" width="19.92" height="28.33" fill="#a6a6ff"/>
<rect x="598.02" y="1128.60" width="19.92" height="28.33" fill="#d9d9ff"/>
<rect x="617.93" y="1128.60" width="19.92" height="28.33" fill="#f2f2ff"/>
<rect x="648.15" y="1128.60" width="19.92" height="28.33" fill="#ea9799"/>
<rect x="668.07" y="1128.60" width="19.92" height="28.33" fill="#ffffff"/>
<rect x="687.98" y="1128.60" width="19.92" height="28.33" fill="#bfbfff"/>
<rect x="707.90" y="1128.60" width="19.92" height="28.33" fill="#b2b2ff"/>
<rect x="727.82" y="1128.60" width="19.92" height="28.33" fill="#bfbfff"/>
<rect x="747.73" y="1128.60" width="19.92" height="28.33" fill="#bfbfff"/>
<rect x="767.65" y="1128.60" width="19.92" height="28.33" fill="#a6a6ff"/>
<rect x="787.57" y="1128.60" width="19.92" height="28.33" fill="#bfbfff"/>
<rect x="807.48" y="1128.60" width="19.92" height="28.33" fill="#ffffff"/>
<rect x="827.40" y="1128.60" width="19.92" height="28.33" fill="#d9d9ff"/>
<rect x="847.32" y="1128.60" width="19.92" height="28.33" fill="#faf3f4"/>
<rect x="867.23" y="1128.60" width="19.92" height="28.33" fill="#bfbfff"/>
<rect x="897.50" y="1128.60" width="19.98" height="28.33" fill="#edaeb0"/>
<rect x="917.48" y="1128.60" width="19.98" height="28.33" fill="#f1c5c6"/>
<rect x="937.46" y="1128.60" width="19.98" height="28.33" fill="#e57477"/>
<rect x="957.44" y="1128.60" width="19.98" height="28.33" fill="#eca3a4"/>
<rect x="977.42" y="1128.60" width="19.98" height="28.33" fill="#ea9799"/>
<rect x="149.35" y="1156.93" width="19.92" height="28.33" fill="#f2f2ff"/>
<rect x="169.27" y="1156.93" width="19.92" height="28.33" fill="#efbabb"/>
<rect x="189.18" y="1156.93" width="19.92" height="28.33" fill="#f8e8e8"/>
<rect x="209.10" y="1156.93" width="19.92" height="28.33" fill="#ccccff"/>
<rect x="229.02" y="1156.93" width="19.92" height="28.33" fill="#f3d1d2"/>
<rect x="248.93" y="1156.93" width="19.92" height="28.33" fill="#f2f2ff"/>
<rect x="268.85" y="1156.93" width="19.92" height="28.33" fill="#efbabb"/>
<rect x="288.77" y="1156.93" width="19.92" height="28.33" fill="#ffffff"/>
<rect x="308.68" y="1156.93" width="19.92" height="28.33" fill="#edaeb0"/>
<rect x="328.60" y="1156.93" width="19.92" height="28.33" fill="#dd2f33"/>
<rect x="348.52" y="1156.93" width="19.92" height="28.33" fill="#edaeb0"/>
<rect x="368.43" y="1156.93" width="19.92" height="28.33" fill="#e6e6ff"/>
<rect x="398.85" y="1156.93" width="19.92" height="28.33" fill="#bfbfff"/>
<rect x="418.77" y="1156.93" width="19.92" height="28.33" fill="#bfbfff"/>
<rect x="438.68" y="1156.93" width="19.92" height="28.33" fill="#8c8cff"/>
<rect x="458.60" y="1156.93" width="19.92" height="28.33" fill="#f8e8e8"/>
<rect x="478.52" y="1156.93" width="19.92" height="28.33" fill="#d9d9ff"/>
<rect x="498.43" y="1156.93" width="19.92" height="28.33" fill="#ffffff"/>
<rect x="518.35" y="1156.93" width="19.92" height="28.33" fill="#bfbfff"/>
<rect x="538.27" y="1156.93" width="19.92" height="28.33" fill="#f3d1d2"/>
<rect x="558.18" y="1156.93" width="19.92" height="28.33" fill="#f5dcdd"/>
<rect x="578.10" y="1156.93" width="19.92" height="28.33" fill="#e6e6ff"/>
<rect x="598.02" y="1156.93" width="19.92" height="28.33" fill="#fcf8f8"/>
<rect x="617.93" y="1156.93" width="19.92" height="28.33" fill="#ffffff"/>
<rect x="648.15" y="1156.93" width="19.92" height="28.33" fill="#f8e8e8"/>
<rect x="668.07" y="1156.93" width="19.92" height="28.33" fill="#bfbfff"/>
<rect x="687.98" y="1156.93" width="19.92" height="28.33" fill="#e6e6ff"/>
<rect x="707.90" y="1156.93" width="19.92" height="28.33" fill="#e6e6ff"/>
<rect x="727.82" y="1156.93" width="19.92" height="28.33" fill="#b2b2ff"/>
<rect x="747.73" y="1156.93" width="19.92" height="28.33" fill="#bfbfff"/>
<rect x="767.65" y="1156.93" width="19.92" height="28.33" fill="#8080ff"/>
<rect x="787.57" y="1156.93" width="19.92" height="28.33" fill="#e6e6ff"/>
<rect x="807.48" y="1156.93" width="19.92" height="28.33" fill="#ffffff"/>
<rect x="827.40" y="1156.93" width="19.92" height="28.33" fill="#ccccff"/>
<rect x="847.32" y="1156.93" width="19.92" height="28.33" fill="#8080ff"/>
<rect x="867.23" y="1156.93" width="19.92" height="28.33" fill="#b2b2ff"/>
<rect x="897.50" y="1156.93" width="19.98" height="28.33" fill="#fcf8f8"/>
<rect x="917.48" y="1156.93" width="19.98" height="28.33" fill="#e6e6ff"/>
<rect x="937.46" y="1156.93" width="19.98" height="28.33" fill="#efbabb"/>
<rect x="957.44" y="1156.93" width="19.98" height="28.33" fill="#f8e8e8"/>
<rect x="977.42" y="1156.93" width="19.98" height="28.33" fill="#e88c8e"/>
<rect x="149.35" y="1185.26" width="19.92" height="28.33" fill="#ccccff"/>
<rect x="169.27" y="1185.26" width="19.92" height="28.33" fill="#f8e8e8"/>
<rect x="189.18" y="1185.26" width="19.92" height="28.33" fill="#bfbfff"/>
<rect x="209.10" y="1185.26" width="19.92" height="28.33" fill="#f1c5c6"/>
<rect x="229.02" y="1185.26" width="19.92" height="28.33" fill="#d9d9ff"/>
<rect x="248.93" y="1185.26" width="19.92" height="28.33" fill="#f3d1d2"/>
<rect x="268.85" y="1185.26" width="19.92" height="28.33" fill="#f8e8e8"/>
<rect x="288.77" y="1185.26" width="19.92" height="28.33" fill="#d9d9ff"/>
<rect x="308.68" y="1185.26" width="19.92" height="28.33" fill="#e88c8e"/>
<rect x="328.60" y="1185.26" width="19.92" height="28.33" fill="#e78082"/>
<rect x="348.52" y="1185.26" width="19.92" height="28.33" fill="#efbabb"/>
<rect x="368.43" y="1185.26" width="19.92" height="28.33" fill="#fdfafa"/>
<rect x="398.85" y="1185.26" width="19.92" height="28.33" fill="#ccccff"/>
<rect x="418.77" y="1185.26" width="19.92" height="28.33" fill="#d9d9ff"/>
<rect x="438.68" y="1185.26" width="19.92" height="28.33" fill="#f2f2ff"/>
<rect x="458.60" y="1185.26" width="19.92" height="28.33" fill="#ffffff"/>
<rect x="478.52" y="1185.26" width="19.92" height="28.33" fill="#f2f2ff"/>
<rect x="498.43" y="1185.26" width="19.92" height="28.33" fill="#b2b2ff"/>
<rect x="518.35" y="1185.26" width="19.92" height="28.33" fill="#8080ff"/>
<rect x="538.27" y="1185.26" width="19.92" height="28.33" fill="#ffffff"/>
<rect x="558.18" y="1185.26" width="19.92" height="28.33" fill="#f3d1d2"/>
<rect x="578.10" y="1185.26" width="19.92" height="28.33" fill="#a6a6ff"/>
<rect x="598.02" y="1185.26" width="19.92" height="28.33" fill="#e6e6ff"/>
<rect x="617.93" y="1185.26" width="19.92" height="28.33" fill="#eca3a4"/>
<rect x="648.15" y="1185.26" width="19.92" height="28.33" fill="#f8e8e8"/>
<rect x="668.07" y="1185.26" width="19.92" height="28.33" fill="#a6a6ff"/>
<rect x="687.98" y="1185.26" width="19.92" height="28.33" fill="#d9d9ff"/>
<rect x="707.90" y="1185.26" width="19.92" height="28.33" fill="#ffffff"/>
<rect x="727.82" y="1185.26" width="19.92" height="28.33" fill="#8080ff"/>
<rect x="747.73" y="1185.26" width="19.92" height="28.33" fill="#ccccff"/>
<rect x="767.65" y="1185.26" width="19.92" height="28.33" fill="#ffffff"/>
<rect x="787.57" y="1185.26" width="19.92" height="28.33" fill="#d9d9ff"/>
<rect x="807.48" y="1185.26" width="19.92" height="28.33" fill="#ccccff"/>
<rect x="827.40" y="1185.26" width="19.92" height="28.33" fill="#f3d1d2"/>
<rect x="847.32" y="1185.26" width="19.92" height="28.33" fill="#9999ff"/>
<rect x="867.23" y="1185.26" width="19.92" height="28.33" fill="#a6a6ff"/>
<rect x="897.50" y="1185.26" width="19.98" height="28.33" fill="#ffffff"/>
<rect x="917.48" y="1185.26" width="19.98" height="28.33" fill="#f8e8e8"/>
<rect x="937.46" y="1185.26" width="19.98" height="28.33" fill="#e57477"/>
<rect x="957.44" y="1185.26" width="19.98" height="28.33" fill="#f3d1d2"/>
<rect x="977.42" y="1185.26" width="19.98" height="28.33" fill="#e88c8e"/>
<rect x="149.35" y="1213.59" width="19.92" height="28.33" fill="#e6e6ff"/>
<rect x="169.27" y="1213.59" width="19.92" height="28.33" fill="#f5dcdd"/>
<rect x="189.18" y="1213.59" width="19.92" height="28.33" fill="#ffffff"/>
<rect x="209.10" y="1213.59" width="19.92" height="28.33" fill="#faf3f4"/>
<rect x="229.02" y="1213.59" width="19.92" height="28.33" fill="#f2f2ff"/>
<rect x="248.93" y="1213.59" width="19.92" height="28.33" fill="#f2f2ff"/>
<rect x="268.85" y="1213.59" width="19.92" height="28.33" fill="#f3d1d2"/>
<rect x="288.77" y="1213.59" width="19.92" height="28.33" fill="#e6e6ff"/>
<rect x="308.68" y="1213.59" width="19.92" height="28.33" fill="#f1c5c6"/>
<rect x="328.60" y="1213.59" width="19.92" height="28.33" fill="#e4696b"/>
<rect x="348.52" y="1213.59" width="19.92" height="28.33" fill="#efbabb"/>
<rect x="368.43" y="1213.59" width="19.92" height="28.33" fill="#ffffff"/>
<rect x="398.85" y="1213.59" width="19.92" height="28.33" fill="#f3d1d2"/>
<rect x="418.77" y="1213.59" width="19.92" height="28.33" fill="#e6e6ff"/>
<rect x="438.68" y="1213.59" width="19.92" height="28.33" fill="#d9d9ff"/>
<rect x="458.60" y="1213.59" width="19.92" height="28.33" fill="#e6e6ff"/>
<rect x="478.52" y="1213.59" width="19.92" height="28.33" fill="#f5dcdd"/>
<rect x="498.43" y="1213.59" width="19.92" height="28.33" fill="#ccccff"/>
<rect x="518.35" y="1213.59" width="19.92" height="28.33" fill="#b2b2ff"/>
<rect x="538.27" y="1213.59" width="19.92" height="28.33" fill="#f8e8e8"/>
<rect x="558.18" y="1213.59" width="19.92" height="28.33" fill="#f2f2ff"/>
<rect x="578.10" y="1213.59" width="19.92" height="28.33" fill="#a6a6ff"/>
<rect x="598.02" y="1213.59" width="19.92" height="28.33" fill="#faf3f4"/>
<rect x="617.93" y="1213.59" width="19.92" height="28.33" fill="#ffffff"/>
<rect x="648.15" y="1213.59" width="19.92" height="28.33" fill="#f3d1d2"/>
<rect x="668.07" y="1213.59" width="19.92" height="28.33" fill="#8080ff"/>
<rect x="687.98" y="1213.59" width="19.92" height="28.33" fill="#e6e6ff"/>
<rect x="707.90" y="1213.59" width="19.92" height="28.33" fill="#f3d1d2"/>
<rect x="727.82" y="1213.59" width="19.92" height="28.33" fill="#a6a6ff"/>
<rect x="747.73" y="1213.59" width="19.92" height="28.33" fill="#bfbfff"/>
<rect x="767.65" y="1213.59" width="19.92" height="28.33" fill="#8c8cff"/>
<rect x="787.57" y="1213.59" width="19.92" height="28.33" fill="#ccccff"/>
<rect x="807.48" y="1213.59" width="19.92" height="28.33" fill="#bfbfff"/>
<rect x="827.40" y="1213.59" width="19.92" height="28.33" fill="#e6e6ff"/>
<rect x="847.32" y="1213.59" width="19.92" height="28.33" fill="#ccccff"/>
<rect x="867.23" y="1213.59" width="19.92" height="28.33" fill="#a6a6ff"/>
<rect x="897.50" y="1213.59" width="19.98" height="28.33" fill="#f3d1d2"/>
<rect x="917.48" y="1213.59" width="19.98" height="28.33" fill="#f8e8e8"/>
<rect x="937.46" y="1213.59" width="19.98" height="28.33" fill="#e78082"/>
<rect x="957.44" y="1213.59" width="19.98" height="28.33" fill="#f2f2ff"/>
<rect x="977.42" y="1213.59" width="19.98" height="28.33" fill="#dd2f33"/>
<rect x="149.35" y="1241.92" width="19.92" height="28.33" fill="#bfbfff"/>
<rect x="169.27" y="1241.92" width="19.92" height="28.33" fill="#faf3f4"/>
<rect x="189.18" y="1241.92" width="19.92" height="28.33" fill="#e6e6ff"/>
<rect x="209.10" y="1241.92" width="19.92" height="28.33" fill="#b2b2ff"/>
<rect x="229.02" y="1241.92" width="19.92" height="28.33" fill="#d9d9ff"/>
<rect x="248.93" y="1241.92" width="19.92" height="28.33" fill="#e6e6ff"/>
<rect x="268.85" y="1241.92" width="19.92" height="28.33" fill="#d9d9ff"/>
<rect x="288.77" y="1241.92" width="19.92" height="28.33" fill="#ccccff"/>
<rect x="308.68" y="1241.92" width="19.92" height="28.33" fill="#e88c8e"/>
<rect x="328.60" y="1241.92" width="19.92" height="28.33" fill="#eca3a4"/>
<rect x="348.52" y="1241.92" width="19.92" height="28.33" fill="#f8e8e8"/>
<rect x="368.43" y="1241.92" width="19.92" height="28.33" fill="#f8e8e8"/>
<rect x="398.85" y="1241.92" width="19.92" height="28.33" fill="#f2f2ff"/>
<rect x="418.77" y="1241.92" width="19.92" height="28.33" fill="#f2f2ff"/>
<rect x="438.68" y="1241.92" width="19.92" height="28.33" fill="#e6e6ff"/>
<rect x="458.60" y="1241.92" width="19.92" height="28.33" fill="#e6e6ff"/>
<rect x="478.52" y="1241.92" width="19.92" height="28.33" fill="#d9d9ff"/>
<rect x="498.43" y="1241.92" width="19.92" height="28.33" fill="#b2b2ff"/>
<rect x="518.35" y="1241.92" width="19.92" height="28.33" fill="#e6e6ff"/>
<rect x="538.27" y="1241.92" width="19.92" height="28.33" fill="#f8e8e8"/>
<rect x="558.18" y="1241.92" width="19.92" height="28.33" fill="#f8e8e8"/>
<rect x="578.10" y="1241.92" width="19.92" height="28.33" fill="#d9d9ff"/>
<rect x="598.02" y="1241.92" width="19.92" height="28.33" fill="#f8e8e8"/>
<rect x="617.93" y="1241.92" width="19.92" height="28.33" fill="#f8e8e8"/>
<rect x="648.15" y="1241.92" width="19.92" height="28.33" fill="#eca3a4"/>
<rect x="668.07" y="1241.92" width="19.92" height="28.33" fill="#a6a6ff"/>
<rect x="687.98" y="1241.92" width="19.92" height="28.33" fill="#d9d9ff"/>
<rect x="707.90" y="1241.92" width="19.92" height="28.33" fill="#ccccff"/>
<rect x="727.82" y="1241.92" width="19.92" height="28.33" fill="#9999ff"/>
<rect x="747.73" y="1241.92" width="19.92" height="28.33" fill="#ffffff"/>
<rect x="767.65" y="1241.92" width="19.92" height="28.33" fill="#a6a6ff"/>
<rect x="787.57" y="1241.92" width="19.92" height="28.33" fill="#bfbfff"/>
<rect x="807.48" y="1241.92" width="19.92" height="28.33" fill="#bfbfff"/>
<rect x="827.40" y="1241.92" width="19.92" height="28.33" fill="#ccccff"/>
<rect x="847.32" y="1241.92" width="19.92" height="28.33" fill="#d9d9ff"/>
<rect x="867.23" y="1241.92" width="19.92" height="28.33" fill="#b2b2ff"/>
<rect x="897.50" y="1241.92" width="19.98" height="28.33" fill="#eca3a4"/>
<rect x="917.48" y="1241.92" width="19.98" height="28.33" fill="#f8e8e8"/>
<rect x="937.46" y="1241.92" width="19.98" height="28.33" fill="#e4696b"/>
<rect x="957.44" y="1241.92" width="19.98" height="28.33" fill="#f1c5c6"/>
<rect x="977.42" y="1241.92" width="19.98" height="28.33" fill="#db2427"/>
<rect x="149.35" y="1270.25" width="19.92" height="28.33" fill="#bfbfff"/>
<rect x="169.27" y="1270.25" width="19.92" height="28.33" fill="#faf3f4"/>
<rect x="189.18" y="1270.25" width="19.92" height="28.33" fill="#f2f2ff"/>
<rect x="209.10" y="1270.25" width="19.92" height="28.33" fill="#a6a6ff"/>
<rect x="229.02" y="1270.25" width="19.92" height="28.33" fill="#ccccff"/>
<rect x="248.93" y="1270.25" width="19.92" height="28.33" fill="#f8e8e8"/>
<rect x="268.85" y="1270.25" width="19.92" height="28.33" fill="#ffffff"/>
<rect x="288.77" y="1270.25" width="19.92" height="28.33" fill="#d9d9ff"/>
<rect x="308.68" y="1270.25" width="19.92" height="28.33" fill="#ea9799"/>
<rect x="328.60" y="1270.25" width="19.92" height="28.33" fill="#eca3a4"/>
<rect x="348.52" y="1270.25" width="19.92" height="28.33" fill="#ffffff"/>
<rect x="368.43" y="1270.25" width="19.92" height="28.33" fill="#f8e8e8"/>
<rect x="398.85" y="1270.25" width="19.92" height="28.33" fill="#e6e6ff"/>
<rect x="418.77" y="1270.25" width="19.92" height="28.33" fill="#e6e6ff"/>
<rect x="438.68" y="1270.25" width="19.92" height="28.33" fill="#f2f2ff"/>
<rect x="458.60" y="1270.25" width="19.92" height="28.33" fill="#f2f2ff"/>
<rect x="478.52" y="1270.25" width="19.92" height="28.33" fill="#e6e6ff"/>
<rect x="498.43" y="1270.25" width="19.92" height="28.33" fill="#b2b2ff"/>
<rect x="518.35" y="1270.25" width="19.92" height="28.33" fill="#d9d9ff"/>
<rect x="538.27" y="1270.25" width="19.92" height="28.33" fill="#f5dcdd"/>
<rect x="558.18" y="1270.25" width="19.92" height="28.33" fill="#faf3f4"/>
<rect x="578.10" y="1270.25" width="19.92" height="28.33" fill="#d9d9ff"/>
<rect x="598.02" y="1270.25" width="19.92" height="28.33" fill="#f8e8e8"/>
<rect x="617.93" y="1270.25" width="19.92" height="28.33" fill="#f5dcdd"/>
<rect x="648.15" y="1270.25" width="19.92" height="28.33" fill="#ea9799"/>
<rect x="668.07" y="1270.25" width="19.92" height="28.33" fill="#b2b2ff"/>
<rect x="687.98" y="1270.25" width="19.92" height="28.33" fill="#a6a6ff"/>
<rect x="707.90" y="1270.25" width="19.92" height="28.33" fill="#bfbfff"/>
<rect x="727.82" y="1270.25" width="19.92" height="28.33" fill="#a6a6ff"/>
<rect x="747.73" y="1270.25" width="19.92" height="28.33" fill="#fdfafa"/>
<rect x="767.65" y="1270.25" width="19.92" height="28.33" fill="#bfbfff"/>
<rect x="787.57" y="1270.25" width="19.92" height="28.33" fill="#bfbfff"/>
<rect x="807.48" y="1270.25" width="19.92" height="28.33" fill="#b2b2ff"/>
<rect x="827.40" y="1270.25" width="19.92" height="28.33" fill="#bfbfff"/>
<rect x="847.32" y="1270.25" width="19.92" height="28.33" fill="#bfbfff"/>
<rect x="867.23" y="1270.25" width="19.92" height="28.33" fill="#a6a6ff"/>
<rect x="897.50" y="1270.25" width="19.98" height="28.33" fill="#edaeb0"/>
<rect x="917.48" y="1270.25" width="19.98" height="28.33" fill="#faf3f4"/>
<rect x="937.46" y="1270.25" width="19.98" height="28.33" fill="#e4696b"/>
<rect x="957.44" y="1270.25" width="19.98" height="28.33" fill="#f1c5c6"/>
<rect x="977.42" y="1270.25" width="19.98" height="28.33" fill="#de3b3e"/>
<rect x="149.35" y="1298.58" width="19.92" height="28.33" fill="#d9d9ff"/>
<rect x="169.27" y="1298.58" width="19.92" height="28.33" fill="#d9d9ff"/>
<rect x="189.18" y="1298.58" width="19.92" height="28.33" fill="#fcf8f8"/>
<rect x="209.10" y="1298.58" width="19.92" height="28.33" fill="#f3d1d2"/>
<rect x="229.02" y="1298.58" width="19.92" height="28.33" fill="#e6e6ff"/>
<rect x="248.93" y="1298.58" width="19.92" height="28.33" fill="#bfbfff"/>
<rect x="268.85" y="1298.58" width="19.92" height="28.33" fill="#f1c5c6"/>
<rect x="288.77" y="1298.58" width="19.92" height="28.33" fill="#f8e8e8"/>
<rect x="308.68" y="1298.58" width="19.92" height="28.33" fill="#e6e6ff"/>
<rect x="328.60" y="1298.58" width="19.92" height="28.33" fill="#e78082"/>
<rect x="348.52" y="1298.58" width="19.92" height="28.33" fill="#efbabb"/>
<rect x="368.43" y="1298.58" width="19.92" height="28.33" fill="#ccccff"/>
<rect x="398.85" y="1298.58" width="19.92" height="28.33" fill="#ccccff"/>
<rect x="418.77" y="1298.58" width="19.92" height="28.33" fill="#b2b2ff"/>
<rect x="438.68" y="1298.58" width="19.92" height="28.33" fill="#b2b2ff"/>
<rect x="458.60" y="1298.58" width="19.92" height="28.33" fill="#fcf8f8"/>
<rect x="478.52" y="1298.58" width="19.92" height="28.33" fill="#b2b2ff"/>
<rect x="498.43" y="1298.58" width="19.92" height="28.33" fill="#4c4cff"/>
<rect x="518.35" y="1298.58" width="19.92" height="28.33" fill="#a6a6ff"/>
<rect x="538.27" y="1298.58" width="19.92" height="28.33" fill="#f1c5c6"/>
<rect x="558.18" y="1298.58" width="19.92" height="28.33" fill="#f3d1d2"/>
<rect x="578.10" y="1298.58" width="19.92" height="28.33" fill="#fdfafa"/>
<rect x="598.02" y="1298.58" width="19.92" height="28.33" fill="#f1c5c6"/>
<rect x="617.93" y="1298.58" width="19.92" height="28.33" fill="#efbabb"/>
<rect x="648.15" y="1298.58" width="19.92" height="28.33" fill="#eca3a4"/>
<rect x="668.07" y="1298.58" width="19.92" height="28.33" fill="#f8e8e8"/>
<rect x="687.98" y="1298.58" width="19.92" height="28.33" fill="#f5dcdd"/>
<rect x="707.90" y="1298.58" width="19.92" height="28.33" fill="#f2f2ff"/>
<rect x="727.82" y="1298.58" width="19.92" height="28.33" fill="#bfbfff"/>
<rect x="747.73" y="1298.58" width="19.92" height="28.33" fill="#e6e6ff"/>
<rect x="767.65" y="1298.58" width="19.92" height="28.33" fill="#9999ff"/>
<rect x="787.57" y="1298.58" width="19.92" height="28.33" fill="#f8e8e8"/>
<rect x="807.48" y="1298.58" width="19.92" height="28.33" fill="#ffffff"/>
<rect x="827.40" y="1298.58" width="19.92" height="28.33" fill="#f3d1d2"/>
<rect x="847.32" y="1298.58" width="19.92" height="28.33" fill="#d9d9ff"/>
<rect x="867.23" y="1298.58" width="19.92" height="28.33" fill="#4c4cff"/>
<rect x="897.50" y="1298.58" width="19.98" height="28.33" fill="#f2f2ff"/>
<rect x="917.48" y="1298.58" width="19.98" height="28.33" fill="#f8e8e8"/>
<rect x="937.46" y="1298.58" width="19.98" height="28.33" fill="#f1c5c6"/>
<rect x="957.44" y="1298.58" width="19.98" height="28.33" fill="#f3d1d2"/>
<rect x="977.42" y="1298.58" width="19.98" height="28.33" fill="#eca3a4"/>
<rect x="149.35" y="1326.91" width="19.92" height="28.33" fill="#b2b2ff"/>
<rect x="169.27" y="1326.91" width="19.92" height="28.33" fill="#f5dcdd"/>
<rect x="189.18" y="1326.91" width="19.92" height="28.33" fill="#e6e6ff"/>
<rect x="209.10" y="1326.91" width="19.92" height="28.33" fill="#ccccff"/>
<rect x="229.02" y="1326.91" width="19.92" height="28.33" fill="#f2f2ff"/>
<rect x="248.93" y="1326.91" width="19.92" height="28.33" fill="#a6a6ff"/>
<rect x="268.85" y="1326.91" width="19.92" height="28.33" fill="#f1c5c6"/>
<rect x="288.77" y="1326.91" width="19.92" height="28.33" fill="#ffffff"/>
<rect x="308.68" y="1326.91" width="19.92" height="28.33" fill="#efbabb"/>
<rect x="328.60" y="1326.91" width="19.92" height="28.33" fill="#f3d1d2"/>
<rect x="348.52" y="1326.91" width="19.92" height="28.33" fill="#f3d1d2"/>
<rect x="368.43" y="1326.91" width="19.92" height="28.33" fill="#bfbfff"/>
<rect x="398.85" y="1326.91" width="19.92" height="28.33" fill="#a6a6ff"/>
<rect x="418.77" y="1326.91" width="19.92" height="28.33" fill="#e6e6ff"/>
<rect x="438.68" y="1326.91" width="19.92" height="28.33" fill="#f2f2ff"/>
<rect x="458.60" y="1326.91" width="19.92" height="28.33" fill="#f8e8e8"/>
<rect x="478.52" y="1326.91" width="19.92" height="28.33" fill="#ccccff"/>
<rect x="498.43" y="1326.91" width="19.92" height="28.33" fill="#4040ff"/>
<rect x="518.35" y="1326.91" width="19.92" height="28.33" fill="#e6e6ff"/>
<rect x="538.27" y="1326.91" width="19.92" height="28.33" fill="#e6e6ff"/>
<rect x="558.18" y="1326.91" width="19.92" height="28.33" fill="#f2f2ff"/>
<rect x="578.10" y="1326.91" width="19.92" height="28.33" fill="#e6e6ff"/>
<rect x="598.02" y="1326.91" width="19.92" height="28.33" fill="#f5dcdd"/>
<rect x="617.93" y="1326.91" width="19.92" height="28.33" fill="#f3d1d2"/>
<rect x="648.15" y="1326.91" width="19.92" height="28.33" fill="#f1c5c6"/>
<rect x="668.07" y="1326.91" width="19.92" height="28.33" fill="#ffffff"/>
<rect x="687.98" y="1326.91" width="19.92" height="28.33" fill="#b2b2ff"/>
<rect x="707.90" y="1326.91" width="19.92" height="28.33" fill="#f5dcdd"/>
<rect x="727.82" y="1326.91" width="19.92" height="28.33" fill="#e6e6ff"/>
<rect x="747.73" y="1326.91" width="19.92" height="28.33" fill="#e6e6ff"/>
<rect x="767.65" y="1326.91" width="19.92" height="28.33" fill="#e6e6ff"/>
<rect x="787.57" y="1326.91" width="19.92" height="28.33" fill="#f8e8e8"/>
<rect x="807.48" y="1326.91" width="19.92" height="28.33" fill="#ffffff"/>
<rect x="827.40" y="1326.91" width="19.92" height="28.33" fill="#f8e8e8"/>
<rect x="847.32" y="1326.91" width="19.92" height="28.33" fill="#ccccff"/>
<rect x="867.23" y="1326.91" width="19.92" height="28.33" fill="#7373ff"/>
<rect x="897.50" y="1326.91" width="19.98" height="28.33" fill="#eca3a4"/>
<rect x="917.48" y="1326.91" width="19.98" height="28.33" fill="#ffffff"/>
<rect x="937.46" y="1326.91" width="19.98" height="28.33" fill="#e25d60"/>
<rect x="957.44" y="1326.91" width="19.98" height="28.33" fill="#efbabb"/>
<rect x="977.42" y="1326.91" width="19.98" height="28.33" fill="#e78082"/>
<rect x="149.35" y="1355.24" width="19.92" height="28.33" fill="#e6e6ff"/>
<rect x="169.27" y="1355.24" width="19.92" height="28.33" fill="#f3d1d2"/>
<rect x="189.18" y="1355.24" width="19.92" height="28.33" fill="#f3d1d2"/>
<rect x="209.10" y="1355.24" width="19.92" height="28.33" fill="#e6e6ff"/>
<rect x="229.02" y="1355.24" width="19.92" height="28.33" fill="#f8e8e8"/>
<rect x="248.93" y="1355.24" width="19.92" height="28.33" fill="#bfbfff"/>
<rect x="268.85" y="1355.24" width="19.92" height="28.33" fill="#f8e8e8"/>
<rect x="288.77" y="1355.24" width="19.92" height="28.33" fill="#fcf8f8"/>
<rect x="308.68" y="1355.24" width="19.92" height="28.33" fill="#f3d1d2"/>
<rect x="328.60" y="1355.24" width="19.92" height="28.33" fill="#e4696b"/>
<rect x="348.52" y="1355.24" width="19.92" height="28.33" fill="#e88c8e"/>
<rect x="368.43" y="1355.24" width="19.92" height="28.33" fill="#d9d9ff"/>
<rect x="398.85" y="1355.24" width="19.92" height="28.33" fill="#a6a6ff"/>
<rect x="418.77" y="1355.24" width="19.92" height="28.33" fill="#bfbfff"/>
<rect x="438.68" y="1355.24" width="19.92" height="28.33" fill="#7373ff"/>
<rect x="458.60" y="1355.24" width="19.92" height="28.33" fill="#efbabb"/>
<rect x="478.52" y="1355.24" width="19.92" height="28.33" fill="#e6e6ff"/>
<rect x="498.43" y="1355.24" width="19.92" height="28.33" fill="#6666ff"/>
<rect x="518.35" y="1355.24" width="19.92" height="28.33" fill="#f2f2ff"/>
<rect x="538.27" y="1355.24" width="19.92" height="28.33" fill="#f8e8e8"/>
<rect x="558.18" y="1355.24" width="19.92" height="28.33" fill="#f2f2ff"/>
<rect x="578.10" y="1355.24" width="19.92" height="28.33" fill="#fdfafa"/>
<rect x="598.02" y="1355.24" width="19.92" height="28.33" fill="#ffffff"/>
<rect x="617.93" y="1355.24" width="19.92" height="28.33" fill="#ffffff"/>
<rect x="648.15" y="1355.24" width="19.92" height="28.33" fill="#fdfafa"/>
<rect x="668.07" y="1355.24" width="19.92" height="28.33" fill="#ccccff"/>
<rect x="687.98" y="1355.24" width="19.92" height="28.33" fill="#7373ff"/>
<rect x="707.90" y="1355.24" width="19.92" height="28.33" fill="#f5dcdd"/>
<rect x="727.82" y="1355.24" width="19.92" height="28.33" fill="#a6a6ff"/>
<rect x="747.73" y="1355.24" width="19.92" height="28.33" fill="#eca3a4"/>
<rect x="767.65" y="1355.24" width="19.92" height="28.33" fill="#a6a6ff"/>
<rect x="787.57" y="1355.24" width="19.92" height="28.33" fill="#f8e8e8"/>
<rect x="807.48" y="1355.24" width="19.92" height="28.33" fill="#bfbfff"/>
<rect x="827.40" y="1355.24" width="19.92" height="28.33" fill="#d9d9ff"/>
<rect x="847.32" y="1355.24" width="19.92" height="28.33" fill="#ffffff"/>
<rect x="867.23" y="1355.24" width="19.92" height="28.33" fill="#b2b2ff"/>
<rect x="897.50" y="1355.24" width="19.98" height="28.33" fill="#f8e8e8"/>
<rect x="917.48" y="1355.24" width="19.98" height="28.33" fill="#ffffff"/>
<rect x="937.46" y="1355.24" width="19.98" height="28.33" fill="#e88c8e"/>
<rect x="957.44" y="1355.24" width="19.98" height="28.33" fill="#f8e8e8"/>
<rect x="977.42" y="1355.24" width="19.98" height="28.33" fill="#edaeb0"/>
<rect x="149.35" y="1383.57" width="19.92" height="28.33" fill="#d9d9ff"/>
<rect x="169.27" y="1383.57" width="19.92" height="28.33" fill="#f8e8e8"/>
<rect x="189.18" y="1383.57" width="19.92" height="28.33" fill="#f8e8e8"/>
<rect x="209.10" y="1383.57" width="19.92" height="28.33" fill="#ccccff"/>
<rect x="229.02" y="1383.57" width="19.92" height="28.33" fill="#ffffff"/>
<rect x="248.93" y="1383.57" width="19.92" height="28.33" fill="#9999ff"/>
<rect x="268.85" y="1383.57" width="19.92" height="28.33" fill="#ffffff"/>
<rect x="288.77" y="1383.57" width="19.92" height="28.33" fill="#f1c5c6"/>
<rect x="308.68" y="1383.57" width="19.92" height="28.33" fill="#f5dcdd"/>
<rect x="328.60" y="1383.57" width="19.92" height="28.33" fill="#e4696b"/>
<rect x="348.52" y="1383.57" width="19.92" height="28.33" fill="#e88c8e"/>
<rect x="368.43" y="1383.57" width="19.92" height="28.33" fill="#ccccff"/>
<rect x="398.85" y="1383.57" width="19.92" height="28.33" fill="#8080ff"/>
<rect x="418.77" y="1383.57" width="19.92" height="28.33" fill="#faf3f4"/>
<rect x="438.68" y="1383.57" width="19.92" height="28.33" fill="#d9d9ff"/>
<rect x="458.60" y="1383.57" width="19.92" height="28.33" fill="#f8e8e8"/>
<rect x="478.52" y="1383.57" width="19.92" height="28.33" fill="#8080ff"/>
<rect x="498.43" y="1383.57" width="19.92" height="28.33" fill="#d9d9ff"/>
<rect x="518.35" y="1383.57" width="19.92" height="28.33" fill="#e6e6ff"/>
<rect x="538.27" y="1383.57" width="19.92" height="28.33" fill="#e6e6ff"/>
<rect x="558.18" y="1383.57" width="19.92" height="28.33" fill="#ccccff"/>
<rect x="578.10" y="1383.57" width="19.92" height="28.33" fill="#b2b2ff"/>
<rect x="598.02" y="1383.57" width="19.92" height="28.33" fill="#e6e6ff"/>
<rect x="617.93" y="1383.57" width="19.92" height="28.33" fill="#f3d1d2"/>
<rect x="648.15" y="1383.57" width="19.92" height="28.33" fill="#f8e8e8"/>
<rect x="668.07" y="1383.57" width="19.92" height="28.33" fill="#e6e6ff"/>
<rect x="687.98" y="1383.57" width="19.92" height="28.33" fill="#8c8cff"/>
<rect x="707.90" y="1383.57" width="19.92" height="28.33" fill="#f1c5c6"/>
<rect x="727.82" y="1383.57" width="19.92" height="28.33" fill="#f2f2ff"/>
<rect x="747.73" y="1383.57" width="19.92" height="28.33" fill="#f5dcdd"/>
<rect x="767.65" y="1383.57" width="19.92" height="28.33" fill="#ccccff"/>
<rect x="787.57" y="1383.57" width="19.92" height="28.33" fill="#ccccff"/>
<rect x="807.48" y="1383.57" width="19.92" height="28.33" fill="#ccccff"/>
<rect x="827.40" y="1383.57" width="19.92" height="28.33" fill="#faf3f4"/>
<rect x="847.32" y="1383.57" width="19.92" height="28.33" fill="#b2b2ff"/>
<rect x="867.23" y="1383.57" width="19.92" height="28.33" fill="#b2b2ff"/>
<rect x="897.50" y="1383.57" width="19.98" height="28.33" fill="#f3d1d2"/>
<rect x="917.48" y="1383.57" width="19.98" height="28.33" fill="#efbabb"/>
<rect x="937.46" y="1383.57" width="19.98" height="28.33" fill="#e15255"/>
<rect x="957.44" y="1383.57" width="19.98" height="28.33" fill="#fcf8f8"/>
<rect x="977.42" y="1383.57" width="19.98" height="28.33" fill="#eca3a4"/>
<rect x="149.35" y="1411.90" width="19.92" height="28.33" fill="#d9d9ff"/>
<rect x="169.27" y="1411.90" width="19.92" height="28.33" fill="#d9d9ff"/>
<rect x="189.18" y="1411.90" width="19.92" height="28.33" fill="#f8e8e8"/>
<rect x="209.10" y="1411.90" width="19.92" height="28.33" fill="#e6e6ff"/>
<rect x="229.02" y="1411.90" width="19.92" height="28.33" fill="#9999ff"/>
<rect x="248.93" y="1411.90" width="19.92" height="28.33" fill="#f8e8e8"/>
<rect x="268.85" y="1411.90" width="19.92" height="28.33" fill="#e6e6ff"/>
<rect x="288.77" y="1411.90" width="19.92" height="28.33" fill="#f3d1d2"/>
<rect x="308.68" y="1411.90" width="19.92" height="28.33" fill="#ea9799"/>
<rect x="328.60" y="1411.90" width="19.92" height="28.33" fill="#ea9799"/>
<rect x="348.52" y="1411.90" width="19.92" height="28.33" fill="#edaeb0"/>
<rect x="368.43" y="1411.90" width="19.92" height="28.33" fill="#f8e8e8"/>
<rect x="398.85" y="1411.90" width="19.92" height="28.33" fill="#bfbfff"/>
<rect x="418.77" y="1411.90" width="19.92" height="28.33" fill="#ccccff"/>
<rect x="438.68" y="1411.90" width="19.92" height="28.33" fill="#bfbfff"/>
<rect x="458.60" y="1411.90" width="19.92" height="28.33" fill="#ffffff"/>
<rect x="478.52" y="1411.90" width="19.92" height="28.33" fill="#bfbfff"/>
<rect x="498.43" y="1411.90" width="19.92" height="28.33" fill="#8c8cff"/>
<rect x="518.35" y="1411.90" width="19.92" height="28.33" fill="#d9d9ff"/>
<rect x="538.27" y="1411.90" width="19.92" height="28.33" fill="#ccccff"/>
<rect x="558.18" y="1411.90" width="19.92" height="28.33" fill="#f1c5c6"/>
<rect x="578.10" y="1411.90" width="19.92" height="28.33" fill="#e6e6ff"/>
<rect x="598.02" y="1411.90" width="19.92" height="28.33" fill="#ffffff"/>
<rect x="617.93" y="1411.90" width="19.92" height="28.33" fill="#f8e8e8"/>
<rect x="648.15" y="1411.90" width="19.92" height="28.33" fill="#f8e8e8"/>
<rect x="668.07" y="1411.90" width="19.92" height="28.33" fill="#e6e6ff"/>
<rect x="687.98" y="1411.90" width="19.92" height="28.33" fill="#8080ff"/>
<rect x="707.90" y="1411.90" width="19.92" height="28.33" fill="#ffffff"/>
<rect x="727.82" y="1411.90" width="19.92" height="28.33" fill="#8c8cff"/>
<rect x="747.73" y="1411.90" width="19.92" height="28.33" fill="#e6e6ff"/>
<rect x="767.65" y="1411.90" width="19.92" height="28.33" fill="#ccccff"/>
<rect x="787.57" y="1411.90" width="19.92" height="28.33" fill="#fdfafa"/>
<rect x="807.48" y="1411.90" width="19.92" height="28.33" fill="#bfbfff"/>
<rect x="827.40" y="1411.90" width="19.92" height="28.33" fill="#fcf8f8"/>
<rect x="847.32" y="1411.90" width="19.92" height="28.33" fill="#f8e8e8"/>
<rect x="867.23" y="1411.90" width="19.92" height="28.33" fill="#bfbfff"/>
<rect x="897.50" y="1411.90" width="19.98" height="28.33" fill="#f8e8e8"/>
<rect x="917.48" y="1411.90" width="19.98" height="28.33" fill="#f8e8e8"/>
<rect x="937.46" y="1411.90" width="19.98" height="28.33" fill="#e78082"/>
<rect x="957.44" y="1411.90" width="19.98" height="28.33" fill="#f3d1d2"/>
<rect x="977.42" y="1411.90" width="19.98" height="28.33" fill="#df4649"/>
<rect x="149.35" y="1440.23" width="19.92" height="28.33" fill="#ffffff"/>
<rect x="169.27" y="1440.23" width="19.92" height="28.33" fill="#f2f2ff"/>
<rect x="189.18" y="1440.23" width="19.92" height="28.33" fill="#efbabb"/>
<rect x="209.10" y="1440.23" width="19.92" height="28.33" fill="#b2b2ff"/>
<rect x="229.02" y="1440.23" width="19.92" height="28.33" fill="#b2b2ff"/>
<rect x="248.93" y="1440.23" width="19.92" height="28.33" fill="#ffffff"/>
<rect x="268.85" y="1440.23" width="19.92" height="28.33" fill="#edaeb0"/>
<rect x="288.77" y="1440.23" width="19.92" height="28.33" fill="#ffffff"/>
<rect x="308.68" y="1440.23" width="19.92" height="28.33" fill="#fcf8f8"/>
<rect x="328.60" y="1440.23" width="19.92" height="28.33" fill="#da181c"/>
<rect x="348.52" y="1440.23" width="19.92" height="28.33" fill="#e78082"/>
<rect x="368.43" y="1440.23" width="19.92" height="28.33" fill="#f2f2ff"/>
<rect x="398.85" y="1440.23" width="19.92" height="28.33" fill="#d9d9ff"/>
<rect x="418.77" y="1440.23" width="19.92" height="28.33" fill="#ffffff"/>
<rect x="438.68" y="1440.23" width="19.92" height="28.33" fill="#bfbfff"/>
<rect x="458.60" y="1440.23" width="19.92" height="28.33" fill="#ffffff"/>
<rect x="478.52" y="1440.23" width="19.92" height="28.33" fill="#ccccff"/>
<rect x="498.43" y="1440.23" width="19.92" height="28.33" fill="#9999ff"/>
<rect x="518.35" y="1440.23" width="19.92" height="28.33" fill="#f2f2ff"/>
<rect x="538.27" y="1440.23" width="19.92" height="28.33" fill="#d9d9ff"/>
<rect x="558.18" y="1440.23" width="19.92" height="28.33" fill="#f8e8e8"/>
<rect x="578.10" y="1440.23" width="19.92" height="28.33" fill="#ffffff"/>
<rect x="598.02" y="1440.23" width="19.92" height="28.33" fill="#f5dcdd"/>
<rect x="617.93" y="1440.23" width="19.92" height="28.33" fill="#f2f2ff"/>
<rect x="648.15" y="1440.23" width="19.92" height="28.33" fill="#f1c5c6"/>
<rect x="668.07" y="1440.23" width="19.92" height="28.33" fill="#b2b2ff"/>
<rect x="687.98" y="1440.23" width="19.92" height="28.33" fill="#9999ff"/>
<rect x="707.90" y="1440.23" width="19.92" height="28.33" fill="#ffffff"/>
<rect x="727.82" y="1440.23" width="19.92" height="28.33" fill="#a6a6ff"/>
<rect x="747.73" y="1440.23" width="19.92" height="28.33" fill="#d9d9ff"/>
<rect x="767.65" y="1440.23" width="19.92" height="28.33" fill="#a6a6ff"/>
<rect x="787.57" y="1440.23" width="19.92" height="28.33" fill="#f8e8e8"/>
<rect x="807.48" y="1440.23" width="19.92" height="28.33" fill="#ccccff"/>
<rect x="827.40" y="1440.23" width="19.92" height="28.33" fill="#ccccff"/>
<rect x="847.32" y="1440.23" width="19.92" height="28.33" fill="#b2b2ff"/>
<rect x="867.23" y="1440.23" width="19.92" height="28.33" fill="#e6e6ff"/>
<rect x="897.50" y="1440.23" width="19.98" height="28.33" fill="#f5dcdd"/>
<rect x="917.48" y="1440.23" width="19.98" height="28.33" fill="#faf3f4"/>
<rect x="937.46" y="1440.23" width="19.98" height="28.33" fill="#eca3a4"/>
<rect x="957.44" y="1440.23" width="19.98" height="28.33" fill="#f3d1d2"/>
<rect x="977.42" y="1440.23" width="19.98" height="28.33" fill="#ea9799"/>
<rect x="149.35" y="1468.56" width="19.92" height="28.33" fill="#d9d9ff"/>
<rect x="169.27" y="1468.56" width="19.92" height="28.33" fill="#f2f2ff"/>
<rect x="189.18" y="1468.56" width="19.92" height="28.33" fill="#e6e6ff"/>
<rect x="209.10" y="1468.56" width="19.92" height="28.33" fill="#f2f2ff"/>
<rect x="229.02" y="1468.56" width="19.92" height="28.33" fill="#8080ff"/>
<rect x="248.93" y="1468.56" width="19.92" height="28.33" fill="#d9d9ff"/>
<rect x="268.85" y="1468.56" width="19.92" height="28.33" fill="#f1c5c6"/>
<rect x="288.77" y="1468.56" width="19.92" height="28.33" fill="#ffffff"/>
<rect x="308.68" y="1468.56" width="19.92" height="28.33" fill="#efbabb"/>
<rect x="328.60" y="1468.56" width="19.92" height="28.33" fill="#de3b3e"/>
<rect x="348.52" y="1468.56" width="19.92" height="28.33" fill="#f8e8e8"/>
<rect x="368.43" y="1468.56" width="19.92" height="28.33" fill="#d9d9ff"/>
<rect x="398.85" y="1468.56" width="19.92" height="28.33" fill="#bfbfff"/>
<rect x="418.77" y="1468.56" width="19.92" height="28.33" fill="#f2f2ff"/>
<rect x="438.68" y="1468.56" width="19.92" height="28.33" fill="#bfbfff"/>
<rect x="458.60" y="1468.56" width="19.92" height="28.33" fill="#ffffff"/>
<rect x="478.52" y="1468.56" width="19.92" height="28.33" fill="#b2b2ff"/>
<rect x="498.43" y="1468.56" width="19.92" height="28.33" fill="#b2b2ff"/>
<rect x="518.35" y="1468.56" width="19.92" height="28.33" fill="#f8e8e8"/>
<rect x="538.27" y="1468.56" width="19.92" height="28.33" fill="#ccccff"/>
<rect x="558.18" y="1468.56" width="19.92" height="28.33" fill="#f2f2ff"/>
<rect x="578.10" y="1468.56" width="19.92" height="28.33" fill="#bfbfff"/>
<rect x="598.02" y="1468.56" width="19.92" height="28.33" fill="#f8e8e8"/>
<rect x="617.93" y="1468.56" width="19.92" height="28.33" fill="#eca3a4"/>
<rect x="648.15" y="1468.56" width="19.92" height="28.33" fill="#efbabb"/>
<rect x="668.07" y="1468.56" width="19.92" height="28.33" fill="#d9d9ff"/>
<rect x="687.98" y="1468.56" width="19.92" height="28.33" fill="#d9d9ff"/>
<rect x="707.90" y="1468.56" width="19.92" height="28.33" fill="#faf3f4"/>
<rect x="727.82" y="1468.56" width="19.92" height="28.33" fill="#8c8cff"/>
<rect x="747.73" y="1468.56" width="19.92" height="28.33" fill="#f3d1d2"/>
<rect x="767.65" y="1468.56" width="19.92" height="28.33" fill="#7373ff"/>
<rect x="787.57" y="1468.56" width="19.92" height="28.33" fill="#d9d9ff"/>
<rect x="807.48" y="1468.56" width="19.92" height="28.33" fill="#f2f2ff"/>
<rect x="827.40" y="1468.56" width="19.92" height="28.33" fill="#d9d9ff"/>
<rect x="847.32" y="1468.56" width="19.92" height="28.33" fill="#ffffff"/>
<rect x="867.23" y="1468.56" width="19.92" height="28.33" fill="#b2b2ff"/>
<rect x="897.50" y="1468.56" width="19.98" height="28.33" fill="#f8e8e8"/>
<rect x="917.48" y="1468.56" width="19.98" height="28.33" fill="#faf3f4"/>
<rect x="937.46" y="1468.56" width="19.98" height="28.33" fill="#e78082"/>
<rect x="957.44" y="1468.56" width="19.98" height="28.33" fill="#ea9799"/>
<rect x="977.42" y="1468.56" width="19.98" height="28.33" fill="#ea9799"/>
<rect x="149.35" y="1496.89" width="19.92" height="28.33" fill="#f3d1d2"/>
<rect x="169.27" y="1496.89" width="19.92" height="28.33" fill="#f8e8e8"/>
<rect x="189.18" y="1496.89" width="19.92" height="28.33" fill="#f8e8e8"/>
<rect x="209.10" y="1496.89" width="19.92" height="28.33" fill="#ffffff"/>
<rect x="229.02" y="1496.89" width="19.92" height="28.33" fill="#d9d9ff"/>
<rect x="248.93" y="1496.89" width="19.92" height="28.33" fill="#fdfafa"/>
<rect x="268.85" y="1496.89" width="19.92" height="28.33" fill="#8c8cff"/>
<rect x="288.77" y="1496.89" width="19.92" height="28.33" fill="#edaeb0"/>
<rect x="308.68" y="1496.89" width="19.92" height="28.33" fill="#ffffff"/>
<rect x="328.60" y="1496.89" width="19.92" height="28.33" fill="#e78082"/>
<rect x="348.52" y="1496.89" width="19.92" height="28.33" fill="#f5dcdd"/>
<rect x="368.43" y="1496.89" width="19.92" height="28.33" fill="#f5dcdd"/>
<rect x="398.85" y="1496.89" width="19.92" height="28.33" fill="#ffffff"/>
<rect x="418.77" y="1496.89" width="19.92" height="28.33" fill="#f8e8e8"/>
<rect x="438.68" y="1496.89" width="19.92" height="28.33" fill="#ffffff"/>
<rect x="458.60" y="1496.89" width="19.92" height="28.33" fill="#f2f2ff"/>
<rect x="478.52" y="1496.89" width="19.92" height="28.33" fill="#9999ff"/>
<rect x="498.43" y="1496.89" width="19.92" height="28.33" fill="#8c8cff"/>
<rect x="518.35" y="1496.89" width="19.92" height="28.33" fill="#f1c5c6"/>
<rect x="538.27" y="1496.89" width="19.92" height="28.33" fill="#f3d1d2"/>
<rect x="558.18" y="1496.89" width="19.92" height="28.33" fill="#a6a6ff"/>
<rect x="578.10" y="1496.89" width="19.92" height="28.33" fill="#f1c5c6"/>
<rect x="598.02" y="1496.89" width="19.92" height="28.33" fill="#faf3f4"/>
<rect x="617.93" y="1496.89" width="19.92" height="28.33" fill="#faf3f4"/>
<rect x="648.15" y="1496.89" width="19.92" height="28.33" fill="#f1c5c6"/>
<rect x="668.07" y="1496.89" width="19.92" height="28.33" fill="#f8e8e8"/>
<rect x="687.98" y="1496.89" width="19.92" height="28.33" fill="#8c8cff"/>
<rect x="707.90" y="1496.89" width="19.92" height="28.33" fill="#e6e6ff"/>
<rect x="727.82" y="1496.89" width="19.92" height="28.33" fill="#d9d9ff"/>
<rect x="747.73" y="1496.89" width="19.92" height="28.33" fill="#ccccff"/>
<rect x="767.65" y="1496.89" width="19.92" height="28.33" fill="#8c8cff"/>
<rect x="787.57" y="1496.89" width="19.92" height="28.33" fill="#bfbfff"/>
<rect x="807.48" y="1496.89" width="19.92" height="28.33" fill="#d9d9ff"/>
<rect x="827.40" y="1496.89" width="19.92" height="28.33" fill="#b2b2ff"/>
<rect x="847.32" y="1496.89" width="19.92" height="28.33" fill="#ffffff"/>
<rect x="867.23" y="1496.89" width="19.92" height="28.33" fill="#5959ff"/>
<rect x="897.50" y="1496.89" width="19.98" height="28.33" fill="#e78082"/>
<rect x="917.48" y="1496.89" width="19.98" height="28.33" fill="#efbabb"/>
<rect x="937.46" y="1496.89" width="19.98" height="28.33" fill="#f1c5c6"/>
<rect x="957.44" y="1496.89" width="19.98" height="28.33" fill="#f8e8e8"/>
<rect x="977.42" y="1496.89" width="19.98" height="28.33" fill="#f2f2ff"/>
<rect x="149.35" y="1525.22" width="19.92" height="28.33" fill="#b2b2ff"/>
<rect x="169.27" y="1525.22" width="19.92" height="28.33" fill="#edaeb0"/>
<rect x="189.18" y="1525.22" width="19.92" height="28.33" fill="#ffffff"/>
<rect x="209.10" y="1525.22" width="19.92" height="28.33" fill="#ffffff"/>
<rect x="229.02" y="1525.22" width="19.92" height="28.33" fill="#f1c5c6"/>
<rect x="248.93" y="1525.22" width="19.92" height="28.33" fill="#f3d1d2"/>
<rect x="268.85" y="1525.22" width="19.92" height="28.33" fill="#9999ff"/>
<rect x="288.77" y="1525.22" width="19.92" height="28.33" fill="#efbabb"/>
<rect x="308.68" y="1525.22" width="19.92" height="28.33" fill="#f1c5c6"/>
<rect x="328.60" y="1525.22" width="19.92" height="28.33" fill="#e4696b"/>
<rect x="348.52" y="1525.22" width="19.92" height="28.33" fill="#ccccff"/>
<rect x="368.43" y="1525.22" width="19.92" height="28.33" fill="#f2f2ff"/>
<rect x="398.85" y="1525.22" width="19.92" height="28.33" fill="#ffffff"/>
<rect x="418.77" y="1525.22" width="19.92" height="28.33" fill="#f3d1d2"/>
<rect x="438.68" y="1525.22" width="19.92" height="28.33" fill="#b2b2ff"/>
<rect x="458.60" y="1525.22" width="19.92" height="28.33" fill="#f5dcdd"/>
<rect x="478.52" y="1525.22" width="19.92" height="28.33" fill="#d9d9ff"/>
<rect x="498.43" y="1525.22" width="19.92" height="28.33" fill="#4c4cff"/>
<rect x="518.35" y="1525.22" width="19.92" height="28.33" fill="#d9d9ff"/>
<rect x="538.27" y="1525.22" width="19.92" height="28.33" fill="#d9d9ff"/>
<rect x="558.18" y="1525.22" width="19.92" height="28.33" fill="#efbabb"/>
<rect x="578.10" y="1525.22" width="19.92" height="28.33" fill="#f3d1d2"/>
<rect x="598.02" y="1525.22" width="19.92" height="28.33" fill="#f1c5c6"/>
<rect x="617.93" y="1525.22" width="19.92" height="28.33" fill="#faf3f4"/>
<rect x="648.15" y="1525.22" width="19.92" height="28.33" fill="#f2f2ff"/>
<rect x="668.07" y="1525.22" width="19.92" height="28.33" fill="#bfbfff"/>
<rect x="687.98" y="1525.22" width="19.92" height="28.33" fill="#ccccff"/>
<rect x="707.90" y="1525.22" width="19.92" height="28.33" fill="#f1c5c6"/>
<rect x="727.82" y="1525.22" width="19.92" height="28.33" fill="#efbabb"/>
<rect x="747.73" y="1525.22" width="19.92" height="28.33" fill="#f8e8e8"/>
<rect x="767.65" y="1525.22" width="19.92" height="28.33" fill="#8c8cff"/>
<rect x="787.57" y="1525.22" width="19.92" height="28.33" fill="#d9d9ff"/>
<rect x="807.48" y="1525.22" width="19.92" height="28.33" fill="#bfbfff"/>
<rect x="827.40" y="1525.22" width="19.92" height="28.33" fill="#b2b2ff"/>
<rect x="847.32" y="1525.22" width="19.92" height="28.33" fill="#bfbfff"/>
<rect x="867.23" y="1525.22" width="19.92" height="28.33" fill="#ccccff"/>
<rect x="897.50" y="1525.22" width="19.98" height="28.33" fill="#f8e8e8"/>
<rect x="917.48" y="1525.22" width="19.98" height="28.33" fill="#f2f2ff"/>
<rect x="937.46" y="1525.22" width="19.98" height="28.33" fill="#edaeb0"/>
<rect x="957.44" y="1525.22" width="19.98" height="28.33" fill="#ccccff"/>
<rect x="977.42" y="1525.22" width="19.98" height="28.33" fill="#f3d1d2"/>
<rect x="149.35" y="1553.55" width="19.92" height="28.33" fill="#fdfafa"/>
<rect x="169.27" y="1553.55" width="19.92" height="28.33" fill="#a6a6ff"/>
<rect x="189.18" y="1553.55" width="19.92" height="28.33" fill="#ffffff"/>
<rect x="209.10" y="1553.55" width="19.92" height="28.33" fill="#ffffff"/>
<rect x="229.02" y="1553.55" width="19.92" height="28.33" fill="#b2b2ff"/>
<rect x="248.93" y="1553.55" width="19.92" height="28.33" fill="#9999ff"/>
<rect x="268.85" y="1553.55" width="19.92" height="28.33" fill="#e6e6ff"/>
<rect x="288.77" y="1553.55" width="19.92" height="28.33" fill="#f1c5c6"/>
<rect x="308.68" y="1553.55" width="19.92" height="28.33" fill="#efbabb"/>
<rect x="328.60" y="1553.55" width="19.92" height="28.33" fill="#edaeb0"/>
<rect x="348.52" y="1553.55" width="19.92" height="28.33" fill="#f8e8e8"/>
<rect x="368.43" y="1553.55" width="19.92" height="28.33" fill="#e6e6ff"/>
<rect x="398.85" y="1553.55" width="19.92" height="28.33" fill="#bfbfff"/>
<rect x="418.77" y="1553.55" width="19.92" height="28.33" fill="#fcf8f8"/>
<rect x="438.68" y="1553.55" width="19.92" height="28.33" fill="#ccccff"/>
<rect x="458.60" y="1553.55" width="19.92" height="28.33" fill="#bfbfff"/>
<rect x="478.52" y="1553.55" width="19.92" height="28.33" fill="#b2b2ff"/>
<rect x="498.43" y="1553.55" width="19.92" height="28.33" fill="#b2b2ff"/>
<rect x="518.35" y="1553.55" width="19.92" height="28.33" fill="#f5dcdd"/>
<rect x="538.27" y="1553.55" width="19.92" height="28.33" fill="#7373ff"/>
<rect x="558.18" y="1553.55" width="19.92" height="28.33" fill="#f3d1d2"/>
<rect x="578.10" y="1553.55" width="19.92" height="28.33" fill="#f8e8e8"/>
<rect x="598.02" y="1553.55" width="19.92" height="28.33" fill="#f8e8e8"/>
<rect x="617.93" y="1553.55" width="19.92" height="28.33" fill="#b2b2ff"/>
<rect x="648.15" y="1553.55" width="19.92" height="28.33" fill="#e78082"/>
<rect x="668.07" y="1553.55" width="19.92" height="28.33" fill="#b2b2ff"/>
<rect x="687.98" y="1553.55" width="19.92" height="28.33" fill="#bfbfff"/>
<rect x="707.90" y="1553.55" width="19.92" height="28.33" fill="#f8e8e8"/>
<rect x="727.82" y="1553.55" width="19.92" height="28.33" fill="#bfbfff"/>
<rect x="747.73" y="1553.55" width="19.92" height="28.33" fill="#d9d9ff"/>
<rect x="767.65" y="1553.55" width="19.92" height="28.33" fill="#e6e6ff"/>
<rect x="787.57" y="1553.55" width="19.92" height="28.33" fill="#fdfafa"/>
<rect x="807.48" y="1553.55" width="19.92" height="28.33" fill="#e6e6ff"/>
<rect x="827.40" y="1553.55" width="19.92" height="28.33" fill="#ffffff"/>
<rect x="847.32" y="1553.55" width="19.92" height="28.33" fill="#f1c5c6"/>
<rect x="867.23" y="1553.55" width="19.92" height="28.33" fill="#8c8cff"/>
<rect x="897.50" y="1553.55" width="19.98" height="28.33" fill="#f3d1d2"/>
<rect x="917.48" y="1553.55" width="19.98" height="28.33" fill="#e78082"/>
<rect x="937.46" y="1553.55" width="19.98" height="28.33" fill="#e88c8e"/>
<rect x="957.44" y="1553.55" width="19.98" height="28.33" fill="#e88c8e"/>
<rect x="977.42" y="1553.55" width="19.98" height="28.33" fill="#efbabb"/>
<rect x="149.35" y="1581.88" width="19.92" height="28.33" fill="#f2f2ff"/>
<rect x="169.27" y="1581.88" width="19.92" height="28.33" fill="#f2f2ff"/>
<rect x="189.18" y="1581.88" width="19.92" height="28.33" fill="#f3d1d2"/>
<rect x="209.10" y="1581.88" width="19.92" height="28.33" fill="#f2f2ff"/>
<rect x="229.02" y="1581.88" width="19.92" height="28.33" fill="#ffffff"/>
<rect x="248.93" y="1581.88" width="19.92" height="28.33" fill="#e6e6ff"/>
<rect x="268.85" y="1581.88" width="19.92" height="28.33" fill="#ffffff"/>
<rect x="288.77" y="1581.88" width="19.92" height="28.33" fill="#f3d1d2"/>
<rect x="308.68" y="1581.88" width="19.92" height="28.33" fill="#f3d1d2"/>
<rect x="328.60" y="1581.88" width="19.92" height="28.33" fill="#e4696b"/>
<rect x="348.52" y="1581.88" width="19.92" height="28.33" fill="#ea9799"/>
<rect x="368.43" y="1581.88" width="19.92" height="28.33" fill="#ccccff"/>
<rect x="398.85" y="1581.88" width="19.92" height="28.33" fill="#bfbfff"/>
<rect x="418.77" y="1581.88" width="19.92" height="28.33" fill="#faf3f4"/>
<rect x="438.68" y="1581.88" width="19.92" height="28.33" fill="#7373ff"/>
<rect x="458.60" y="1581.88" width="19.92" height="28.33" fill="#e6e6ff"/>
<rect x="478.52" y="1581.88" width="19.92" height="28.33" fill="#b2b2ff"/>
<rect x="498.43" y="1581.88" width="19.92" height="28.33" fill="#8080ff"/>
<rect x="518.35" y="1581.88" width="19.92" height="28.33" fill="#fcf8f8"/>
<rect x="538.27" y="1581.88" width="19.92" height="28.33" fill="#bfbfff"/>
<rect x="558.18" y="1581.88" width="19.92" height="28.33" fill="#f2f2ff"/>
<rect x="578.10" y="1581.88" width="19.92" height="28.33" fill="#f3d1d2"/>
<rect x="598.02" y="1581.88" width="19.92" height="28.33" fill="#f3d1d2"/>
<rect x="617.93" y="1581.88" width="19.92" height="28.33" fill="#ccccff"/>
<rect x="648.15" y="1581.88" width="19.92" height="28.33" fill="#e57477"/>
<rect x="668.07" y="1581.88" width="19.92" height="28.33" fill="#a6a6ff"/>
<rect x="687.98" y="1581.88" width="19.92" height="28.33" fill="#e6e6ff"/>
<rect x="707.90" y="1581.88" width="19.92" height="28.33" fill="#faf3f4"/>
<rect x="727.82" y="1581.88" width="19.92" height="28.33" fill="#a6a6ff"/>
<rect x="747.73" y="1581.88" width="19.92" height="28.33" fill="#b2b2ff"/>
<rect x="767.65" y="1581.88" width="19.92" height="28.33" fill="#ffffff"/>
<rect x="787.57" y="1581.88" width="19.92" height="28.33" fill="#fdfafa"/>
<rect x="807.48" y="1581.88" width="19.92" height="28.33" fill="#ccccff"/>
<rect x="827.40" y="1581.88" width="19.92" height="28.33" fill="#bfbfff"/>
<rect x="847.32" y="1581.88" width="19.92" height="28.33" fill="#f5dcdd"/>
<rect x="867.23" y="1581.88" width="19.92" height="28.33" fill="#8c8cff"/>
<rect x="897.50" y="1581.88" width="19.98" height="28.33" fill="#f3d1d2"/>
<rect x="917.48" y="1581.88" width="19.98" height="28.33" fill="#efbabb"/>
<rect x="937.46" y="1581.88" width="19.98" height="28.33" fill="#eca3a4"/>
<rect x="957.44" y="1581.88" width="19.98" height="28.33" fill="#e88c8e"/>
<rect x="977.42" y="1581.88" width="19.98" height="28.33" fill="#efbabb"/>
<rect x="149.35" y="1610.21" width="19.92" height="28.33" fill="#ccccff"/>
<rect x="169.27" y="1610.21" width="19.92" height="28.33" fill="#ffffff"/>
<rect x="189.18" y="1610.21" width="19.92" height="28.33" fill="#f5dcdd"/>
<rect x="209.10" y="1610.21" width="19.92" height="28.33" fill="#f2f2ff"/>
<rect x="229.02" y="1610.21" width="19.92" height="28.33" fill="#9999ff"/>
<rect x="248.93" y="1610.21" width="19.92" height="28.33" fill="#bfbfff"/>
<rect x="268.85" y="1610.21" width="19.92" height="28.33" fill="#f8e8e8"/>
<rect x="288.77" y="1610.21" width="19.92" height="28.33" fill="#f3d1d2"/>
<rect x="308.68" y="1610.21" width="19.92" height="28.33" fill="#f1c5c6"/>
<rect x="328.60" y="1610.21" width="19.92" height="28.33" fill="#e78082"/>
<rect x="348.52" y="1610.21" width="19.92" height="28.33" fill="#edaeb0"/>
<rect x="368.43" y="1610.21" width="19.92" height="28.33" fill="#f8e8e8"/>
<rect x="398.85" y="1610.21" width="19.92" height="28.33" fill="#f8e8e8"/>
<rect x="418.77" y="1610.21" width="19.92" height="28.33" fill="#fcf8f8"/>
<rect x="438.68" y="1610.21" width="19.92" height="28.33" fill="#b2b2ff"/>
<rect x="458.60" y="1610.21" width="19.92" height="28.33" fill="#faf3f4"/>
<rect x="478.52" y="1610.21" width="19.92" height="28.33" fill="#b2b2ff"/>
<rect x="498.43" y="1610.21" width="19.92" height="28.33" fill="#8080ff"/>
<rect x="518.35" y="1610.21" width="19.92" height="28.33" fill="#ffffff"/>
<rect x="538.27" y="1610.21" width="19.92" height="28.33" fill="#b2b2ff"/>
<rect x="558.18" y="1610.21" width="19.92" height="28.33" fill="#f8e8e8"/>
<rect x="578.10" y="1610.21" width="19.92" height="28.33" fill="#f8e8e8"/>
<rect x="598.02" y="1610.21" width="19.92" height="28.33" fill="#fcf8f8"/>
<rect x="617.93" y="1610.21" width="19.92" height="28.33" fill="#7373ff"/>
<rect x="648.15" y="1610.21" width="19.92" height="28.33" fill="#e4696b"/>
<rect x="668.07" y="1610.21" width="19.92" height="28.33" fill="#8c8cff"/>
<rect x="687.98" y="1610.21" width="19.92" height="28.33" fill="#d9d9ff"/>
<rect x="707.90" y="1610.21" width="19.92" height="28.33" fill="#ffffff"/>
<rect x="727.82" y="1610.21" width="19.92" height="28.33" fill="#e6e6ff"/>
<rect x="747.73" y="1610.21" width="19.92" height="28.33" fill="#b2b2ff"/>
<rect x="767.65" y="1610.21" width="19.92" height="28.33" fill="#bfbfff"/>
<rect x="787.57" y="1610.21" width="19.92" height="28.33" fill="#ffffff"/>
<rect x="807.48" y="1610.21" width="19.92" height="28.33" fill="#f2f2ff"/>
<rect x="827.40" y="1610.21" width="19.92" height="28.33" fill="#e6e6ff"/>
<rect x="847.32" y="1610.21" width="19.92" height="28.33" fill="#f8e8e8"/>
<rect x="867.23" y="1610.21" width="19.92" height="28.33" fill="#a6a6ff"/>
<rect x="897.50" y="1610.21" width="19.98" height="28.33" fill="#f2f2ff"/>
<rect x="917.48" y="1610.21" width="19.98" height="28.33" fill="#f1c5c6"/>
<rect x="937.46" y="1610.21" width="19.98" height="28.33" fill="#efbabb"/>
<rect x="957.44" y="1610.21" width="19.98" height="28.33" fill="#e88c8e"/>
<rect x="977.42" y="1610.21" width="19.98" height="28.33" fill="#ea9799"/>
<rect x="149.35" y="1638.54" width="19.92" height="28.33" fill="#fdfafa"/>
<rect x="169.27" y="1638.54" width="19.92" height="28.33" fill="#ccccff"/>
<rect x="189.18" y="1638.54" width="19.92" height="28.33" fill="#f1c5c6"/>
<rect x="209.10" y="1638.54" width="19.92" height="28.33" fill="#f2f2ff"/>
<rect x="229.02" y="1638.54" width="19.92" height="28.33" fill="#b2b2ff"/>
<rect x="248.93" y="1638.54" width="19.92" height="28.33" fill="#8c8cff"/>
<rect x="268.85" y="1638.54" width="19.92" height="28.33" fill="#d9d9ff"/>
<rect x="288.77" y="1638.54" width="19.92" height="28.33" fill="#f8e8e8"/>
<rect x="308.68" y="1638.54" width="19.92" height="28.33" fill="#ea9799"/>
<rect x="328.60" y="1638.54" width="19.92" height="28.33" fill="#ea9799"/>
<rect x="348.52" y="1638.54" width="19.92" height="28.33" fill="#efbabb"/>
<rect x="368.43" y="1638.54" width="19.92" height="28.33" fill="#f8e8e8"/>
<rect x="398.85" y="1638.54" width="19.92" height="28.33" fill="#ffffff"/>
<rect x="418.77" y="1638.54" width="19.92" height="28.33" fill="#f3d1d2"/>
<rect x="438.68" y="1638.54" width="19.92" height="28.33" fill="#a6a6ff"/>
<rect x="458.60" y="1638.54" width="19.92" height="28.33" fill="#f2f2ff"/>
<rect x="478.52" y="1638.54" width="19.92" height="28.33" fill="#bfbfff"/>
<rect x="498.43" y="1638.54" width="19.92" height="28.33" fill="#7373ff"/>
<rect x="518.35" y="1638.54" width="19.92" height="28.33" fill="#ffffff"/>
<rect x="538.27" y="1638.54" width="19.92" height="28.33" fill="#9999ff"/>
<rect x="558.18" y="1638.54" width="19.92" height="28.33" fill="#d9d9ff"/>
<rect x="578.10" y="1638.54" width="19.92" height="28.33" fill="#f5dcdd"/>
<rect x="598.02" y="1638.54" width="19.92" height="28.33" fill="#fcf8f8"/>
<rect x="617.93" y="1638.54" width="19.92" height="28.33" fill="#bfbfff"/>
<rect x="648.15" y="1638.54" width="19.92" height="28.33" fill="#e57477"/>
<rect x="668.07" y="1638.54" width="19.92" height="28.33" fill="#8c8cff"/>
<rect x="687.98" y="1638.54" width="19.92" height="28.33" fill="#ccccff"/>
<rect x="707.90" y="1638.54" width="19.92" height="28.33" fill="#e6e6ff"/>
<rect x="727.82" y="1638.54" width="19.92" height="28.33" fill="#ccccff"/>
<rect x="747.73" y="1638.54" width="19.92" height="28.33" fill="#bfbfff"/>
<rect x="767.65" y="1638.54" width="19.92" height="28.33" fill="#e6e6ff"/>
<rect x="787.57" y="1638.54" width="19.92" height="28.33" fill="#d9d9ff"/>
<rect x="807.48" y="1638.54" width="19.92" height="28.33" fill="#ccccff"/>
<rect x="827.40" y="1638.54" width="19.92" height="28.33" fill="#f2f2ff"/>
<rect x="847.32" y="1638.54" width="19.92" height="28.33" fill="#f3d1d2"/>
<rect x="867.23" y="1638.54" width="19.92" height="28.33" fill="#a6a6ff"/>
<rect x="897.50" y="1638.54" width="19.98" height="28.33" fill="#ffffff"/>
<rect x="917.48" y="1638.54" width="19.98" height="28.33" fill="#efbabb"/>
<rect x="937.46" y="1638.54" width="19.98" height="28.33" fill="#e88c8e"/>
<rect x="957.44" y="1638.54" width="19.98" height="28.33" fill="#e57477"/>
<rect x="977.42" y="1638.54" width="19.98" height="28.33" fill="#e88c8e"/>
<rect x="149.35" y="1666.87" width="19.92" height="28.33" fill="#f2f2ff"/>
<rect x="169.27" y="1666.87" width="19.92" height="28.33" fill="#f2f2ff"/>
<rect x="189.18" y="1666.87" width="19.92" height="28.33" fill="#e78082"/>
<rect x="209.10" y="1666.87" width="19.92" height="28.33" fill="#f3d1d2"/>
<rect x="229.02" y="1666.87" width="19.92" height="28.33" fill="#f5dcdd"/>
<rect x="248.93" y="1666.87" width="19.92" height="28.33" fill="#e6e6ff"/>
<rect x="268.85" y="1666.87" width="19.92" height="28.33" fill="#f2f2ff"/>
<rect x="288.77" y="1666.87" width="19.92" height="28.33" fill="#ffffff"/>
<rect x="308.68" y="1666.87" width="19.92" height="28.33" fill="#e88c8e"/>
<rect x="328.60" y="1666.87" width="19.92" height="28.33" fill="#edaeb0"/>
<rect x="348.52" y="1666.87" width="19.92" height="28.33" fill="#efbabb"/>
<rect x="368.43" y="1666.87" width="19.92" height="28.33" fill="#f8e8e8"/>
<rect x="398.85" y="1666.87" width="19.92" height="28.33" fill="#b2b2ff"/>
<rect x="418.77" y="1666.87" width="19.92" height="28.33" fill="#d9d9ff"/>
<rect x="438.68" y="1666.87" width="19.92" height="28.33" fill="#b2b2ff"/>
<rect x="458.60" y="1666.87" width="19.92" height="28.33" fill="#f3d1d2"/>
<rect x="478.52" y="1666.87" width="19.92" height="28.33" fill="#a6a6ff"/>
<rect x="498.43" y="1666.87" width="19.92" height="28.33" fill="#8080ff"/>
<rect x="518.35" y="1666.87" width="19.92" height="28.33" fill="#e6e6ff"/>
<rect x="538.27" y="1666.87" width="19.92" height="28.33" fill="#e6e6ff"/>
<rect x="558.18" y="1666.87" width="19.92" height="28.33" fill="#f8e8e8"/>
<rect x="578.10" y="1666.87" width="19.92" height="28.33" fill="#f2f2ff"/>
<rect x="598.02" y="1666.87" width="19.92" height="28.33" fill="#d9d9ff"/>
<rect x="617.93" y="1666.87" width="19.92" height="28.33" fill="#fdfafa"/>
<rect x="648.15" y="1666.87" width="19.92" height="28.33" fill="#f5dcdd"/>
<rect x="668.07" y="1666.87" width="19.92" height="28.33" fill="#e6e6ff"/>
<rect x="687.98" y="1666.87" width="19.92" height="28.33" fill="#e6e6ff"/>
<rect x="707.90" y="1666.87" width="19.92" height="28.33" fill="#f8e8e8"/>
<rect x="727.82" y="1666.87" width="19.92" height="28.33" fill="#9999ff"/>
<rect x="747.73" y="1666.87" width="19.92" height="28.33" fill="#f8e8e8"/>
<rect x="767.65" y="1666.87" width="19.92" height="28.33" fill="#8c8cff"/>
<rect x="787.57" y="1666.87" width="19.92" height="28.33" fill="#d9d9ff"/>
<rect x="807.48" y="1666.87" width="19.92" height="28.33" fill="#ccccff"/>
<rect x="827.40" y="1666.87" width="19.92" height="28.33" fill="#8080ff"/>
<rect x="847.32" y="1666.87" width="19.92" height="28.33" fill="#d9d9ff"/>
<rect x="867.23" y="1666.87" width="19.92" height="28.33" fill="#5959ff"/>
<rect x="897.50" y="1666.87" width="19.98" height="28.33" fill="#f8e8e8"/>
<rect x="917.48" y="1666.87" width="19.98" height="28.33" fill="#e78082"/>
<rect x="937.46" y="1666.87" width="19.98" height="28.33" fill="#efbabb"/>
<rect x="957.44" y="1666.87" width="19.98" height="28.33" fill="#efbabb"/>
<rect x="977.42" y="1666.87" width="19.98" height="28.33" fill="#efbabb"/>
<rect x="149.35" y="1695.20" width="19.92" height="28.33" fill="#ccccff"/>
<rect x="169.27" y="1695.20" width="19.92" height="28.33" fill="#f8e8e8"/>
<rect x="189.18" y="1695.20" width="19.92" height="28.33" fill="#f3d1d2"/>
<rect x="209.10" y="1695.20" width="19.92" height="28.33" fill="#f8e8e8"/>
<rect x="229.02" y="1695.20" width="19.92" height="28.33" fill="#ffffff"/>
<rect x="248.93" y="1695.20" width="19.92" height="28.33" fill="#a6a6ff"/>
<rect x="268.85" y="1695.20" width="19.92" height="28.33" fill="#e6e6ff"/>
<rect x="288.77" y="1695.20" width="19.92" height="28.33" fill="#edaeb0"/>
<rect x="308.68" y="1695.20" width="19.92" height="28.33" fill="#e25d60"/>
<rect x="328.60" y="1695.20" width="19.92" height="28.33" fill="#e4696b"/>
<rect x="348.52" y="1695.20" width="19.92" height="28.33" fill="#e78082"/>
<rect x="368.43" y="1695.20" width="19.92" height="28.33" fill="#f3d1d2"/>
<rect x="398.85" y="1695.20" width="19.92" height="28.33" fill="#bfbfff"/>
<rect x="418.77" y="1695.20" width="19.92" height="28.33" fill="#bfbfff"/>
<rect x="438.68" y="1695.20" width="19.92" height="28.33" fill="#a6a6ff"/>
<rect x="458.60" y="1695.20" width="19.92" height="28.33" fill="#ffffff"/>
<rect x="478.52" y="1695.20" width="19.92" height="28.33" fill="#bfbfff"/>
<rect x="498.43" y="1695.20" width="19.92" height="28.33" fill="#a6a6ff"/>
<rect x="518.35" y="1695.20" width="19.92" height="28.33" fill="#e6e6ff"/>
<rect x="538.27" y="1695.20" width="19.92" height="28.33" fill="#ccccff"/>
<rect x="558.18" y="1695.20" width="19.92" height="28.33" fill="#fdfafa"/>
<rect x="578.10" y="1695.20" width="19.92" height="28.33" fill="#d9d9ff"/>
<rect x="598.02" y="1695.20" width="19.92" height="28.33" fill="#f1c5c6"/>
<rect x="617.93" y="1695.20" width="19.92" height="28.33" fill="#ccccff"/>
<rect x="648.15" y="1695.20" width="19.92" height="28.33" fill="#efbabb"/>
<rect x="668.07" y="1695.20" width="19.92" height="28.33" fill="#f3d1d2"/>
<rect x="687.98" y="1695.20" width="19.92" height="28.33" fill="#ffffff"/>
<rect x="707.90" y="1695.20" width="19.92" height="28.33" fill="#ffffff"/>
<rect x="727.82" y="1695.20" width="19.92" height="28.33" fill="#ccccff"/>
<rect x="747.73" y="1695.20" width="19.92" height="28.33" fill="#b2b2ff"/>
<rect x="767.65" y="1695.20" width="19.92" height="28.33" fill="#8c8cff"/>
<rect x="787.57" y="1695.20" width="19.92" height="28.33" fill="#e6e6ff"/>
<rect x="807.48" y="1695.20" width="19.92" height="28.33" fill="#a6a6ff"/>
<rect x="827.40" y="1695.20" width="19.92" height="28.33" fill="#bfbfff"/>
<rect x="847.32" y="1695.20" width="19.92" height="28.33" fill="#e6e6ff"/>
<rect x="867.23" y="1695.20" width="19.92" height="28.33" fill="#b2b2ff"/>
<rect x="897.50" y="1695.20" width="19.98" height="28.33" fill="#faf3f4"/>
<rect x="917.48" y="1695.20" width="19.98" height="28.33" fill="#efbabb"/>
<rect x="937.46" y="1695.20" width="19.98" height="28.33" fill="#efbabb"/>
<rect x="957.44" y="1695.20" width="19.98" height="28.33" fill="#f2f2ff"/>
<rect x="977.42" y="1695.20" width="19.98" height="28.33" fill="#ffffff"/>
<rect x="149.35" y="1723.53" width="19.92" height="28.33" fill="#f5dcdd"/>
<rect x="169.27" y="1723.53" width="19.92" height="28.33" fill="#f5dcdd"/>
<rect x="189.18" y="1723.53" width="19.92" height="28.33" fill="#f2f2ff"/>
<rect x="209.10" y="1723.53" width="19.92" height="28.33" fill="#efbabb"/>
<rect x="229.02" y="1723.53" width="19.92" height="28.33" fill="#f1c5c6"/>
<rect x="248.93" y="1723.53" width="19.92" height="28.33" fill="#a6a6ff"/>
<rect x="268.85" y="1723.53" width="19.92" height="28.33" fill="#f2f2ff"/>
<rect x="288.77" y="1723.53" width="19.92" height="28.33" fill="#f8e8e8"/>
<rect x="308.68" y="1723.53" width="19.92" height="28.33" fill="#edaeb0"/>
<rect x="328.60" y="1723.53" width="19.92" height="28.33" fill="#f5dcdd"/>
<rect x="348.52" y="1723.53" width="19.92" height="28.33" fill="#efbabb"/>
<rect x="368.43" y="1723.53" width="19.92" height="28.33" fill="#efbabb"/>
<rect x="398.85" y="1723.53" width="19.92" height="28.33" fill="#f2f2ff"/>
<rect x="418.77" y="1723.53" width="19.92" height="28.33" fill="#eca3a4"/>
<rect x="438.68" y="1723.53" width="19.92" height="28.33" fill="#fdfafa"/>
<rect x="458.60" y="1723.53" width="19.92" height="28.33" fill="#ffffff"/>
<rect x="478.52" y="1723.53" width="19.92" height="28.33" fill="#ccccff"/>
<rect x="498.43" y="1723.53" width="19.92" height="28.33" fill="#9999ff"/>
<rect x="518.35" y="1723.53" width="19.92" height="28.33" fill="#f2f2ff"/>
<rect x="538.27" y="1723.53" width="19.92" height="28.33" fill="#d9d9ff"/>
<rect x="558.18" y="1723.53" width="19.92" height="28.33" fill="#ffffff"/>
<rect x="578.10" y="1723.53" width="19.92" height="28.33" fill="#d9d9ff"/>
<rect x="598.02" y="1723.53" width="19.92" height="28.33" fill="#bfbfff"/>
<rect x="617.93" y="1723.53" width="19.92" height="28.33" fill="#bfbfff"/>
<rect x="648.15" y="1723.53" width="19.92" height="28.33" fill="#f1c5c6"/>
<rect x="668.07" y="1723.53" width="19.92" height="28.33" fill="#9999ff"/>
<rect x="687.98" y="1723.53" width="19.92" height="28.33" fill="#4c4cff"/>
<rect x="707.90" y="1723.53" width="19.92" height="28.33" fill="#ccccff"/>
<rect x="727.82" y="1723.53" width="19.92" height="28.33" fill="#f3d1d2"/>
<rect x="747.73" y="1723.53" width="19.92" height="28.33" fill="#a6a6ff"/>
<rect x="767.65" y="1723.53" width="19.92" height="28.33" fill="#a6a6ff"/>
<rect x="787.57" y="1723.53" width="19.92" height="28.33" fill="#fcf8f8"/>
<rect x="807.48" y="1723.53" width="19.92" height="28.33" fill="#6666ff"/>
<rect x="827.40" y="1723.53" width="19.92" height="28.33" fill="#f1c5c6"/>
<rect x="847.32" y="1723.53" width="19.92" height="28.33" fill="#ffffff"/>
<rect x="867.23" y="1723.53" width="19.92" height="28.33" fill="#d9d9ff"/>
<rect x="897.50" y="1723.53" width="19.98" height="28.33" fill="#efbabb"/>
<rect x="917.48" y="1723.53" width="19.98" height="28.33" fill="#f2f2ff"/>
<rect x="937.46" y="1723.53" width="19.98" height="28.33" fill="#eca3a4"/>
<rect x="957.44" y="1723.53" width="19.98" height="28.33" fill="#efbabb"/>
<rect x="977.42" y="1723.53" width="19.98" height="28.33" fill="#efbabb"/>
<rect x="149.35" y="1751.86" width="19.92" height="28.33" fill="#ccccff"/>
<rect x="169.27" y="1751.86" width="19.92" height="28.33" fill="#ffffff"/>
<rect x="189.18" y="1751.86" width="19.92" height="28.33" fill="#e6e6ff"/>
<rect x="209.10" y="1751.86" width="19.92" height="28.33" fill="#ffffff"/>
<rect x="229.02" y="1751.86" width="19.92" height="28.33" fill="#b2b2ff"/>
<rect x="248.93" y="1751.86" width="19.92" height="28.33" fill="#e6e6ff"/>
<rect x="268.85" y="1751.86" width="19.92" height="28.33" fill="#fdfafa"/>
<rect x="288.77" y="1751.86" width="19.92" height="28.33" fill="#e6e6ff"/>
<rect x="308.68" y="1751.86" width="19.92" height="28.33" fill="#d9d9ff"/>
<rect x="328.60" y="1751.86" width="19.92" height="28.33" fill="#efbabb"/>
<rect x="348.52" y="1751.86" width="19.92" height="28.33" fill="#ea9799"/>
<rect x="368.43" y="1751.86" width="19.92" height="28.33" fill="#edaeb0"/>
<rect x="398.85" y="1751.86" width="19.92" height="28.33" fill="#fcf8f8"/>
<rect x="418.77" y="1751.86" width="19.92" height="28.33" fill="#f5dcdd"/>
<rect x="438.68" y="1751.86" width="19.92" height="28.33" fill="#ccccff"/>
<rect x="458.60" y="1751.86" width="19.92" height="28.33" fill="#ffffff"/>
<rect x="478.52" y="1751.86" width="19.92" height="28.33" fill="#f5dcdd"/>
<rect x="498.43" y="1751.86" width="19.92" height="28.33" fill="#a6a6ff"/>
<rect x="518.35" y="1751.86" width="19.92" height="28.33" fill="#a6a6ff"/>
<rect x="538.27" y="1751.86" width="19.92" height="28.33" fill="#d9d9ff"/>
<rect x="558.18" y="1751.86" width="19.92" height="28.33" fill="#f1c5c6"/>
<rect x="578.10" y="1751.86" width="19.92" height="28.33" fill="#ffffff"/>
<rect x="598.02" y="1751.86" width="19.92" height="28.33" fill="#b2b2ff"/>
<rect x="617.93" y="1751.86" width="19.92" height="28.33" fill="#d9d9ff"/>
<rect x="648.15" y="1751.86" width="19.92" height="28.33" fill="#f5dcdd"/>
<rect x="668.07" y="1751.86" width="19.92" height="28.33" fill="#ffffff"/>
<rect x="687.98" y="1751.86" width="19.92" height="28.33" fill="#ccccff"/>
<rect x="707.90" y="1751.86" width="19.92" height="28.33" fill="#f8e8e8"/>
<rect x="727.82" y="1751.86" width="19.92" height="28.33" fill="#ccccff"/>
<rect x="747.73" y="1751.86" width="19.92" height="28.33" fill="#bfbfff"/>
<rect x="767.65" y="1751.86" width="19.92" height="28.33" fill="#d9d9ff"/>
<rect x="787.57" y="1751.86" width="19.92" height="28.33" fill="#ffffff"/>
<rect x="807.48" y="1751.86" width="19.92" height="28.33" fill="#a6a6ff"/>
<rect x="827.40" y="1751.86" width="19.92" height="28.33" fill="#ea9799"/>
<rect x="847.32" y="1751.86" width="19.92" height="28.33" fill="#a6a6ff"/>
<rect x="867.23" y="1751.86" width="19.92" height="28.33" fill="#4c4cff"/>
<rect x="897.50" y="1751.86" width="19.98" height="28.33" fill="#ea9799"/>
<rect x="917.48" y="1751.86" width="19.98" height="28.33" fill="#f5dcdd"/>
<rect x="937.46" y="1751.86" width="19.98" height="28.33" fill="#e4696b"/>
<rect x="957.44" y="1751.86" width="19.98" height="28.33" fill="#f8e8e8"/>
<rect x="977.42" y="1751.86" width="19.98" height="28.33" fill="#ea9799"/>
<rect x="149.35" y="1780.19" width="19.92" height="28.33" fill="#ffffff"/>
<rect x="169.27" y="1780.19" width="19.92" height="28.33" fill="#f2f2ff"/>
<rect x="189.18" y="1780.19" width="19.92" height="28.33" fill="#d9d9ff"/>
<rect x="209.10" y="1780.19" width="19.92" height="28.33" fill="#ffffff"/>
<rect x="229.02" y="1780.19" width="19.92" height="28.33" fill="#d9d9ff"/>
<rect x="248.93" y="1780.19" width="19.92" height="28.33" fill="#ccccff"/>
<rect x="268.85" y="1780.19" width="19.92" height="28.33" fill="#f3d1d2"/>
<rect x="288.77" y="1780.19" width="19.92" height="28.33" fill="#f2f2ff"/>
<rect x="308.68" y="1780.19" width="19.92" height="28.33" fill="#eca3a4"/>
<rect x="328.60" y="1780.19" width="19.92" height="28.33" fill="#ea9799"/>
<rect x="348.52" y="1780.19" width="19.92" height="28.33" fill="#f3d1d2"/>
<rect x="368.43" y="1780.19" width="19.92" height="28.33" fill="#d9d9ff"/>
<rect x="398.85" y="1780.19" width="19.92" height="28.33" fill="#fdfafa"/>
<rect x="418.77" y="1780.19" width="19.92" height="28.33" fill="#fdfafa"/>
<rect x="438.68" y="1780.19" width="19.92" height="28.33" fill="#b2b2ff"/>
<rect x="458.60" y="1780.19" width="19.92" height="28.33" fill="#ffffff"/>
<rect x="478.52" y="1780.19" width="19.92" height="28.33" fill="#bfbfff"/>
<rect x="498.43" y="1780.19" width="19.92" height="28.33" fill="#5959ff"/>
<rect x="518.35" y="1780.19" width="19.92" height="28.33" fill="#faf3f4"/>
<rect x="538.27" y="1780.19" width="19.92" height="28.33" fill="#b2b2ff"/>
<rect x="558.18" y="1780.19" width="19.92" height="28.33" fill="#f3d1d2"/>
<rect x="578.10" y="1780.19" width="19.92" height="28.33" fill="#f1c5c6"/>
<rect x="598.02" y="1780.19" width="19.92" height="28.33" fill="#ffffff"/>
<rect x="617.93" y="1780.19" width="19.92" height="28.33" fill="#a6a6ff"/>
<rect x="648.15" y="1780.19" width="19.92" height="28.33" fill="#eca3a4"/>
<rect x="668.07" y="1780.19" width="19.92" height="28.33" fill="#e6e6ff"/>
<rect x="687.98" y="1780.19" width="19.92" height="28.33" fill="#a6a6ff"/>
<rect x="707.90" y="1780.19" width="19.92" height="28.33" fill="#f8e8e8"/>
<rect x="727.82" y="1780.19" width="19.92" height="28.33" fill="#bfbfff"/>
<rect x="747.73" y="1780.19" width="19.92" height="28.33" fill="#a6a6ff"/>
<rect x="767.65" y="1780.19" width="19.92" height="28.33" fill="#a6a6ff"/>
<rect x="787.57" y="1780.19" width="19.92" height="28.33" fill="#f8e8e8"/>
<rect x="807.48" y="1780.19" width="19.92" height="28.33" fill="#e6e6ff"/>
<rect x="827.40" y="1780.19" width="19.92" height="28.33" fill="#f8e8e8"/>
<rect x="847.32" y="1780.19" width="19.92" height="28.33" fill="#a6a6ff"/>
<rect x="867.23" y="1780.19" width="19.92" height="28.33" fill="#a6a6ff"/>
<rect x="897.50" y="1780.19" width="19.98" height="28.33" fill="#ea9799"/>
<rect x="917.48" y="1780.19" width="19.98" height="28.33" fill="#efbabb"/>
<rect x="937.46" y="1780.19" width="19.98" height="28.33" fill="#e78082"/>
<rect x="957.44" y="1780.19" width="19.98" height="28.33" fill="#f5dcdd"/>
<rect x="977.42" y="1780.19" width="19.98" height="28.33" fill="#e88c8e"/>
<rect x="149.35" y="1808.52" width="19.92" height="28.33" fill="#e6e6ff"/>
<rect x="169.27" y="1808.52" width="19.92" height="28.33" fill="#f8e8e8"/>
<rect x="189.18" y="1808.52" width="19.92" height="28.33" fill="#ffffff"/>
<rect x="209.10" y="1808.52" width="19.92" height="28.33" fill="#faf3f4"/>
<rect x="229.02" y="1808.52" width="19.92" height="28.33" fill="#ffffff"/>
<rect x="248.93" y="1808.52" width="19.92" height="28.33" fill="#f2f2ff"/>
<rect x="268.85" y="1808.52" width="19.92" height="28.33" fill="#ffffff"/>
<rect x="288.77" y="1808.52" width="19.92" height="28.33" fill="#d9d9ff"/>
<rect x="308.68" y="1808.52" width="19.92" height="28.33" fill="#f8e8e8"/>
<rect x="328.60" y="1808.52" width="19.92" height="28.33" fill="#f8e8e8"/>
<rect x="348.52" y="1808.52" width="19.92" height="28.33" fill="#eca3a4"/>
<rect x="368.43" y="1808.52" width="19.92" height="28.33" fill="#f3d1d2"/>
<rect x="398.85" y="1808.52" width="19.92" height="28.33" fill="#f3d1d2"/>
<rect x="418.77" y="1808.52" width="19.92" height="28.33" fill="#ffffff"/>
<rect x="438.68" y="1808.52" width="19.92" height="28.33" fill="#ccccff"/>
<rect x="458.60" y="1808.52" width="19.92" height="28.33" fill="#ffffff"/>
<rect x="478.52" y="1808.52" width="19.92" height="28.33" fill="#ffffff"/>
<rect x="498.43" y="1808.52" width="19.92" height="28.33" fill="#5959ff"/>
<rect x="518.35" y="1808.52" width="19.92" height="28.33" fill="#f1c5c6"/>
<rect x="538.27" y="1808.52" width="19.92" height="28.33" fill="#9999ff"/>
<rect x="558.18" y="1808.52" width="19.92" height="28.33" fill="#f5dcdd"/>
<rect x="578.10" y="1808.52" width="19.92" height="28.33" fill="#ccccff"/>
<rect x="598.02" y="1808.52" width="19.92" height="28.33" fill="#a6a6ff"/>
<rect x="617.93" y="1808.52" width="19.92" height="28.33" fill="#9999ff"/>
<rect x="648.15" y="1808.52" width="19.92" height="28.33" fill="#f1c5c6"/>
<rect x="668.07" y="1808.52" width="19.92" height="28.33" fill="#d9d9ff"/>
<rect x="687.98" y="1808.52" width="19.92" height="28.33" fill="#bfbfff"/>
<rect x="707.90" y="1808.52" width="19.92" height="28.33" fill="#f2f2ff"/>
<rect x="727.82" y="1808.52" width="19.92" height="28.33" fill="#8c8cff"/>
<rect x="747.73" y="1808.52" width="19.92" height="28.33" fill="#bfbfff"/>
<rect x="767.65" y="1808.52" width="19.92" height="28.33" fill="#b2b2ff"/>
<rect x="787.57" y="1808.52" width="19.92" height="28.33" fill="#ffffff"/>
<rect x="807.48" y="1808.52" width="19.92" height="28.33" fill="#f8e8e8"/>
<rect x="827.40" y="1808.52" width="19.92" height="28.33" fill="#e6e6ff"/>
<rect x="847.32" y="1808.52" width="19.92" height="28.33" fill="#ffffff"/>
<rect x="867.23" y="1808.52" width="19.92" height="28.33" fill="#8080ff"/>
<rect x="897.50" y="1808.52" width="19.98" height="28.33" fill="#f3d1d2"/>
<rect x="917.48" y="1808.52" width="19.98" height="28.33" fill="#efbabb"/>
<rect x="937.46" y="1808.52" width="19.98" height="28.33" fill="#e4696b"/>
<rect x="957.44" y="1808.52" width="19.98" height="28.33" fill="#edaeb0"/>
<rect x="977.42" y="1808.52" width="19.98" height="28.33" fill="#e25d60"/>
<rect x="149.35" y="1836.85" width="19.92" height="28.33" fill="#d9d9ff"/>
<rect x="169.27" y="1836.85" width="19.92" height="28.33" fill="#f5dcdd"/>
<rect x="189.18" y="1836.85" width="19.92" height="28.33" fill="#f5dcdd"/>
<rect x="209.10" y="1836.85" width="19.92" height="28.33" fill="#f2f2ff"/>
<rect x="229.02" y="1836.85" width="19.92" height="28.33" fill="#b2b2ff"/>
<rect x="248.93" y="1836.85" width="19.92" height="28.33" fill="#7373ff"/>
<rect x="268.85" y="1836.85" width="19.92" height="28.33" fill="#ffffff"/>
<rect x="288.77" y="1836.85" width="19.92" height="28.33" fill="#e88c8e"/>
<rect x="308.68" y="1836.85" width="19.92" height="28.33" fill="#fdfafa"/>
<rect x="328.60" y="1836.85" width="19.92" height="28.33" fill="#eca3a4"/>
<rect x="348.52" y="1836.85" width="19.92" height="28.33" fill="#efbabb"/>
<rect x="368.43" y="1836.85" width="19.92" height="28.33" fill="#faf3f4"/>
<rect x="398.85" y="1836.85" width="19.92" height="28.33" fill="#f8e8e8"/>
<rect x="418.77" y="1836.85" width="19.92" height="28.33" fill="#f8e8e8"/>
<rect x="438.68" y="1836.85" width="19.92" height="28.33" fill="#d9d9ff"/>
<rect x="458.60" y="1836.85" width="19.92" height="28.33" fill="#ffffff"/>
<rect x="478.52" y="1836.85" width="19.92" height="28.33" fill="#ffffff"/>
<rect x="498.43" y="1836.85" width="19.92" height="28.33" fill="#0000ff"/>
<rect x="518.35" y="1836.85" width="19.92" height="28.33" fill="#8c8cff"/>
<rect x="538.27" y="1836.85" width="19.92" height="28.33" fill="#ffffff"/>
<rect x="558.18" y="1836.85" width="19.92" height="28.33" fill="#f8e8e8"/>
<rect x="578.10" y="1836.85" width="19.92" height="28.33" fill="#ffffff"/>
<rect x="598.02" y="1836.85" width="19.92" height="28.33" fill="#d9d9ff"/>
<rect x="617.93" y="1836.85" width="19.92" height="28.33" fill="#faf3f4"/>
<rect x="648.15" y="1836.85" width="19.92" height="28.33" fill="#edaeb0"/>
<rect x="668.07" y="1836.85" width="19.92" height="28.33" fill="#b2b2ff"/>
<rect x="687.98" y="1836.85" width="19.92" height="28.33" fill="#a6a6ff"/>
<rect x="707.90" y="1836.85" width="19.92" height="28.33" fill="#f8e8e8"/>
<rect x="727.82" y="1836.85" width="19.92" height="28.33" fill="#f8e8e8"/>
<rect x="747.73" y="1836.85" width="19.92" height="28.33" fill="#bfbfff"/>
<rect x="767.65" y="1836.85" width="19.92" height="28.33" fill="#ccccff"/>
<rect x="787.57" y="1836.85" width="19.92" height="28.33" fill="#f5dcdd"/>
<rect x="807.48" y="1836.85" width="19.92" height="28.33" fill="#d9d9ff"/>
<rect x="827.40" y="1836.85" width="19.92" height="28.33" fill="#f8e8e8"/>
<rect x="847.32" y="1836.85" width="19.92" height="28.33" fill="#f3d1d2"/>
<rect x="867.23" y="1836.85" width="19.92" height="28.33" fill="#b2b2ff"/>
<rect x="897.50" y="1836.85" width="19.98" height="28.33" fill="#f3d1d2"/>
<rect x="917.48" y="1836.85" width="19.98" height="28.33" fill="#f3d1d2"/>
<rect x="937.46" y="1836.85" width="19.98" height="28.33" fill="#f3d1d2"/>
<rect x="957.44" y="1836.85" width="19.98" height="28.33" fill="#f3d1d2"/>
<rect x="977.42" y="1836.85" width="19.98" height="28.33" fill="#f1c5c6"/>
<rect x="149.35" y="1865.18" width="19.92" height="28.33" fill="#a6a6ff"/>
<rect x="169.27" y="1865.18" width="19.92" height="28.33" fill="#f5dcdd"/>
<rect x="189.18" y="1865.18" width="19.92" height="28.33" fill="#efbabb"/>
<rect x="209.10" y="1865.18" width="19.92" height="28.33" fill="#f1c5c6"/>
<rect x="229.02" y="1865.18" width="19.92" height="28.33" fill="#fdfafa"/>
<rect x="248.93" y="1865.18" width="19.92" height="28.33" fill="#a6a6ff"/>
<rect x="268.85" y="1865.18" width="19.92" height="28.33" fill="#f8e8e8"/>
<rect x="288.77" y="1865.18" width="19.92" height="28.33" fill="#f8e8e8"/>
<rect x="308.68" y="1865.18" width="19.92" height="28.33" fill="#ffffff"/>
<rect x="328.60" y="1865.18" width="19.92" height="28.33" fill="#f3d1d2"/>
<rect x="348.52" y="1865.18" width="19.92" height="28.33" fill="#f1c5c6"/>
<rect x="368.43" y="1865.18" width="19.92" height="28.33" fill="#f3d1d2"/>
<rect x="398.85" y="1865.18" width="19.92" height="28.33" fill="#f3d1d2"/>
<rect x="418.77" y="1865.18" width="19.92" height="28.33" fill="#ffffff"/>
<rect x="438.68" y="1865.18" width="19.92" height="28.33" fill="#a6a6ff"/>
<rect x="458.60" y="1865.18" width="19.92" height="28.33" fill="#f5dcdd"/>
<rect x="478.52" y="1865.18" width="19.92" height="28.33" fill="#ffffff"/>
<rect x="498.43" y="1865.18" width="19.92" height="28.33" fill="#0000ff"/>
<rect x="518.35" y="1865.18" width="19.92" height="28.33" fill="#e6e6ff"/>
<rect x="538.27" y="1865.18" width="19.92" height="28.33" fill="#f8e8e8"/>
<rect x="558.18" y="1865.18" width="19.92" height="28.33" fill="#ffffff"/>
<rect x="578.10" y="1865.18" width="19.92" height="28.33" fill="#f2f2ff"/>
<rect x="598.02" y="1865.18" width="19.92" height="28.33" fill="#f3d1d2"/>
<rect x="617.93" y="1865.18" width="19.92" height="28.33" fill="#f5dcdd"/>
<rect x="648.15" y="1865.18" width="19.92" height="28.33" fill="#e4696b"/>
<rect x="668.07" y="1865.18" width="19.92" height="28.33" fill="#ccccff"/>
<rect x="687.98" y="1865.18" width="19.92" height="28.33" fill="#ffffff"/>
<rect x="707.90" y="1865.18" width="19.92" height="28.33" fill="#bfbfff"/>
<rect x="727.82" y="1865.18" width="19.92" height="28.33" fill="#ffffff"/>
<rect x="747.73" y="1865.18" width="19.92" height="28.33" fill="#bfbfff"/>
<rect x="767.65" y="1865.18" width="19.92" height="28.33" fill="#d9d9ff"/>
<rect x="787.57" y="1865.18" width="19.92" height="28.33" fill="#f5dcdd"/>
<rect x="807.48" y="1865.18" width="19.92" height="28.33" fill="#b2b2ff"/>
<rect x="827.40" y="1865.18" width="19.92" height="28.33" fill="#ccccff"/>
<rect x="847.32" y="1865.18" width="19.92" height="28.33" fill="#e88c8e"/>
<rect x="867.23" y="1865.18" width="19.92" height="28.33" fill="#8080ff"/>
<rect x="897.50" y="1865.18" width="19.98" height="28.33" fill="#f8e8e8"/>
<rect x="917.48" y="1865.18" width="19.98" height="28.33" fill="#d9d9ff"/>
<rect x="937.46" y="1865.18" width="19.98" height="28.33" fill="#f8e8e8"/>
<rect x="957.44" y="1865.18" width="19.98" height="28.33" fill="#e6e6ff"/>
<rect x="977.42" y="1865.18" width="19.98" height="28.33" fill="#e6e6ff"/>
<rect x="149.35" y="1893.51" width="19.92" height="28.33" fill="#b2b2ff"/>
<rect x="169.27" y="1893.51" width="19.92" height="28.33" fill="#ffffff"/>
<rect x="189.18" y="1893.51" width="19.92" height="28.33" fill="#b2b2ff"/>
<rect x="209.10" y="1893.51" width="19.92" height="28.33" fill="#bfbfff"/>
<rect x="229.02" y="1893.51" width="19.92" height="28.33" fill="#9999ff"/>
<rect x="248.93" y="1893.51" width="19.92" height="28.33" fill="#f3d1d2"/>
<rect x="268.85" y="1893.51" width="19.92" height="28.33" fill="#f1c5c6"/>
<rect x="288.77" y="1893.51" width="19.92" height="28.33" fill="#bfbfff"/>
<rect x="308.68" y="1893.51" width="19.92" height="28.33" fill="#ffffff"/>
<rect x="328.60" y="1893.51" width="19.92" height="28.33" fill="#ea9799"/>
<rect x="348.52" y="1893.51" width="19.92" height="28.33" fill="#f1c5c6"/>
<rect x="368.43" y="1893.51" width="19.92" height="28.33" fill="#ffffff"/>
<rect x="398.85" y="1893.51" width="19.92" height="28.33" fill="#ffffff"/>
<rect x="418.77" y="1893.51" width="19.92" height="28.33" fill="#f3d1d2"/>
<rect x="438.68" y="1893.51" width="19.92" height="28.33" fill="#d9d9ff"/>
<rect x="458.60" y="1893.51" width="19.92" height="28.33" fill="#ccccff"/>
<rect x="478.52" y="1893.51" width="19.92" height="28.33" fill="#f2f2ff"/>
<rect x="498.43" y="1893.51" width="19.92" height="28.33" fill="#4040ff"/>
<rect x="518.35" y="1893.51" width="19.92" height="28.33" fill="#f2f2ff"/>
<rect x="538.27" y="1893.51" width="19.92" height="28.33" fill="#edaeb0"/>
<rect x="558.18" y="1893.51" width="19.92" height="28.33" fill="#bfbfff"/>
<rect x="578.10" y="1893.51" width="19.92" height="28.33" fill="#ccccff"/>
<rect x="598.02" y="1893.51" width="19.92" height="28.33" fill="#bfbfff"/>
<rect x="617.93" y="1893.51" width="19.92" height="28.33" fill="#e88c8e"/>
<rect x="648.15" y="1893.51" width="19.92" height="28.33" fill="#e57477"/>
<rect x="668.07" y="1893.51" width="19.92" height="28.33" fill="#f8e8e8"/>
<rect x="687.98" y="1893.51" width="19.92" height="28.33" fill="#bfbfff"/>
<rect x="707.90" y="1893.51" width="19.92" height="28.33" fill="#faf3f4"/>
<rect x="727.82" y="1893.51" width="19.92" height="28.33" fill="#b2b2ff"/>
<rect x="747.73" y="1893.51" width="19.92" height="28.33" fill="#f2f2ff"/>
<rect x="767.65" y="1893.51" width="19.92" height="28.33" fill="#ffffff"/>
<rect x="787.57" y="1893.51" width="19.92" height="28.33" fill="#ffffff"/>
<rect x="807.48" y="1893.51" width="19.92" height="28.33" fill="#9999ff"/>
<rect x="827.40" y="1893.51" width="19.92" height="28.33" fill="#ffffff"/>
<rect x="847.32" y="1893.51" width="19.92" height="28.33" fill="#f2f2ff"/>
<rect x="867.23" y="1893.51" width="19.92" height="28.33" fill="#b2b2ff"/>
<rect x="897.50" y="1893.51" width="19.98" height="28.33" fill="#ea9799"/>
<rect x="917.48" y="1893.51" width="19.98" height="28.33" fill="#fcf8f8"/>
<rect x="937.46" y="1893.51" width="19.98" height="28.33" fill="#edaeb0"/>
<rect x="957.44" y="1893.51" width="19.98" height="28.33" fill="#f3d1d2"/>
<rect x="977.42" y="1893.51" width="19.98" height="28.33" fill="#efbabb"/>
<rect x="149.35" y="1921.84" width="19.92" height="28.33" fill="#e6e6ff"/>
<rect x="169.27" y="1921.84" width="19.92" height="28.33" fill="#efbabb"/>
<rect x="189.18" y="1921.84" width="19.92" height="28.33" fill="#ffffff"/>
<rect x="209.10" y="1921.84" width="19.92" height="28.33" fill="#8080ff"/>
<rect x="229.02" y="1921.84" width="19.92" height="28.33" fill="#d9d9ff"/>
<rect x="248.93" y="1921.84" width="19.92" height="28.33" fill="#ffffff"/>
<rect x="268.85" y="1921.84" width="19.92" height="28.33" fill="#efbabb"/>
<rect x="288.77" y="1921.84" width="19.92" height="28.33" fill="#8c8cff"/>
<rect x="308.68" y="1921.84" width="19.92" height="28.33" fill="#eca3a4"/>
<rect x="328.60" y="1921.84" width="19.92" height="28.33" fill="#ea9799"/>
<rect x="348.52" y="1921.84" width="19.92" height="28.33" fill="#f3d1d2"/>
<rect x="368.43" y="1921.84" width="19.92" height="28.33" fill="#f3d1d2"/>
<rect x="398.85" y="1921.84" width="19.92" height="28.33" fill="#eca3a4"/>
<rect x="418.77" y="1921.84" width="19.92" height="28.33" fill="#f5dcdd"/>
<rect x="438.68" y="1921.84" width="19.92" height="28.33" fill="#b2b2ff"/>
<rect x="458.60" y="1921.84" width="19.92" height="28.33" fill="#e6e6ff"/>
<rect x="478.52" y="1921.84" width="19.92" height="28.33" fill="#f8e8e8"/>
<rect x="498.43" y="1921.84" width="19.92" height="28.33" fill="#3333ff"/>
<rect x="518.35" y="1921.84" width="19.92" height="28.33" fill="#fdfafa"/>
<rect x="538.27" y="1921.84" width="19.92" height="28.33" fill="#ffffff"/>
<rect x="558.18" y="1921.84" width="19.92" height="28.33" fill="#e6e6ff"/>
<rect x="578.10" y="1921.84" width="19.92" height="28.33" fill="#f1c5c6"/>
<rect x="598.02" y="1921.84" width="19.92" height="28.33" fill="#b2b2ff"/>
<rect x="617.93" y="1921.84" width="19.92" height="28.33" fill="#f8e8e8"/>
<rect x="648.15" y="1921.84" width="19.92" height="28.33" fill="#efbabb"/>
<rect x="668.07" y="1921.84" width="19.92" height="28.33" fill="#a6a6ff"/>
<rect x="687.98" y="1921.84" width="19.92" height="28.33" fill="#bfbfff"/>
<rect x="707.90" y="1921.84" width="19.92" height="28.33" fill="#f1c5c6"/>
<rect x="727.82" y="1921.84" width="19.92" height="28.33" fill="#f8e8e8"/>
<rect x="747.73" y="1921.84" width="19.92" height="28.33" fill="#ffffff"/>
<rect x="767.65" y="1921.84" width="19.92" height="28.33" fill="#ccccff"/>
<rect x="787.57" y="1921.84" width="19.92" height="28.33" fill="#a6a6ff"/>
<rect x="807.48" y="1921.84" width="19.92" height="28.33" fill="#faf3f4"/>
<rect x="827.40" y="1921.84" width="19.92" height="28.33" fill="#faf3f4"/>
<rect x="847.32" y="1921.84" width="19.92" height="28.33" fill="#f8e8e8"/>
<rect x="867.23" y="1921.84" width="19.92" height="28.33" fill="#8c8cff"/>
<rect x="897.50" y="1921.84" width="19.98" height="28.33" fill="#fdfafa"/>
<rect x="917.48" y="1921.84" width="19.98" height="28.33" fill="#ffffff"/>
<rect x="937.46" y="1921.84" width="19.98" height="28.33" fill="#fdfafa"/>
<rect x="957.44" y="1921.84" width="19.98" height="28.33" fill="#ea9799"/>
<rect x="977.42" y="1921.84" width="19.98" height="28.33" fill="#d9d9ff"/>
<rect x="149.35" y="1950.17" width="19.92" height="28.33" fill="#a6a6ff"/>
<rect x="169.27" y="1950.17" width="19.92" height="28.33" fill="#f8e8e8"/>
<rect x="189.18" y="1950.17" width="19.92" height="28.33" fill="#f2f2ff"/>
<rect x="209.10" y="1950.17" width="19.92" height="28.33" fill="#ffffff"/>
<rect x="229.02" y="1950.17" width="19.92" height="28.33" fill="#efbabb"/>
<rect x="248.93" y="1950.17" width="19.92" height="28.33" fill="#ffffff"/>
<rect x="268.85" y="1950.17" width="19.92" height="28.33" fill="#d9d9ff"/>
<rect x="288.77" y="1950.17" width="19.92" height="28.33" fill="#ccccff"/>
<rect x="308.68" y="1950.17" width="19.92" height="28.33" fill="#e25d60"/>
<rect x="328.60" y="1950.17" width="19.92" height="28.33" fill="#efbabb"/>
<rect x="348.52" y="1950.17" width="19.92" height="28.33" fill="#ffffff"/>
<rect x="368.43" y="1950.17" width="19.92" height="28.33" fill="#fdfafa"/>
<rect x="398.85" y="1950.17" width="19.92" height="28.33" fill="#b2b2ff"/>
<rect x="418.77" y="1950.17" width="19.92" height="28.33" fill="#ccccff"/>
<rect x="438.68" y="1950.17" width="19.92" height="28.33" fill="#f5dcdd"/>
<rect x="458.60" y="1950.17" width="19.92" height="28.33" fill="#efbabb"/>
<rect x="478.52" y="1950.17" width="19.92" height="28.33" fill="#d9d9ff"/>
<rect x="498.43" y="1950.17" width="19.92" height="28.33" fill="#4c4cff"/>
<rect x="518.35" y="1950.17" width="19.92" height="28.33" fill="#e6e6ff"/>
<rect x="538.27" y="1950.17" width="19.92" height="28.33" fill="#ffffff"/>
<rect x="558.18" y="1950.17" width="19.92" height="28.33" fill="#edaeb0"/>
<rect x="578.10" y="1950.17" width="19.92" height="28.33" fill="#9999ff"/>
<rect x="598.02" y="1950.17" width="19.92" height="28.33" fill="#a6a6ff"/>
<rect x="617.93" y="1950.17" width="19.92" height="28.33" fill="#efbabb"/>
<rect x="648.15" y="1950.17" width="19.92" height="28.33" fill="#f2f2ff"/>
<rect x="668.07" y="1950.17" width="19.92" height="28.33" fill="#f2f2ff"/>
<rect x="687.98" y="1950.17" width="19.92" height="28.33" fill="#d9d9ff"/>
<rect x="707.90" y="1950.17" width="19.92" height="28.33" fill="#bfbfff"/>
<rect x="727.82" y="1950.17" width="19.92" height="28.33" fill="#ccccff"/>
<rect x="747.73" y="1950.17" width="19.92" height="28.33" fill="#ffffff"/>
<rect x="767.65" y="1950.17" width="19.92" height="28.33" fill="#a6a6ff"/>
<rect x="787.57" y="1950.17" width="19.92" height="28.33" fill="#f5dcdd"/>
<rect x="807.48" y="1950.17" width="19.92" height="28.33" fill="#f8e8e8"/>
<rect x="827.40" y="1950.17" width="19.92" height="28.33" fill="#f5dcdd"/>
<rect x="847.32" y="1950.17" width="19.92" height="28.33" fill="#bfbfff"/>
<rect x="867.23" y="1950.17" width="19.92" height="28.33" fill="#b2b2ff"/>
<rect x="897.50" y="1950.17" width="19.98" height="28.33" fill="#f8e8e8"/>
<rect x="917.48" y="1950.17" width="19.98" height="28.33" fill="#ffffff"/>
<rect x="937.46" y="1950.17" width="19.98" height="28.33" fill="#ea9799"/>
<rect x="957.44" y="1950.17" width="19.98" height="28.33" fill="#f3d1d2"/>
<rect x="977.42" y="1950.17" width="19.98" height="28.33" fill="#e88c8e"/>
<rect x="149.35" y="1978.50" width="19.92" height="28.33" fill="#b2b2ff"/>
<rect x="169.27" y="1978.50" width="19.92" height="28.33" fill="#f3d1d2"/>
<rect x="189.18" y="1978.50" width="19.92" height="28.33" fill="#f3d1d2"/>
<rect x="209.10" y="1978.50" width="19.92" height="28.33" fill="#bfbfff"/>
<rect x="229.02" y="1978.50" width="19.92" height="28.33" fill="#e88c8e"/>
<rect x="248.93" y="1978.50" width="19.92" height="28.33" fill="#b2b2ff"/>
<rect x="268.85" y="1978.50" width="19.92" height="28.33" fill="#ffffff"/>
<rect x="288.77" y="1978.50" width="19.92" height="28.33" fill="#ffffff"/>
<rect x="308.68" y="1978.50" width="19.92" height="28.33" fill="#faf3f4"/>
<rect x="328.60" y="1978.50" width="19.92" height="28.33" fill="#f1c5c6"/>
<rect x="348.52" y="1978.50" width="19.92" height="28.33" fill="#f3d1d2"/>
<rect x="368.43" y="1978.50" width="19.92" height="28.33" fill="#f1c5c6"/>
<rect x="398.85" y="1978.50" width="19.92" height="28.33" fill="#8080ff"/>
<rect x="418.77" y="1978.50" width="19.92" height="28.33" fill="#f3d1d2"/>
<rect x="438.68" y="1978.50" width="19.92" height="28.33" fill="#b2b2ff"/>
<rect x="458.60" y="1978.50" width="19.92" height="28.33" fill="#f3d1d2"/>
<rect x="478.52" y="1978.50" width="19.92" height="28.33" fill="#b2b2ff"/>
<rect x="498.43" y="1978.50" width="19.92" height="28.33" fill="#5959ff"/>
<rect x="518.35" y="1978.50" width="19.92" height="28.33" fill="#ffffff"/>
<rect x="538.27" y="1978.50" width="19.92" height="28.33" fill="#f3d1d2"/>
<rect x="558.18" y="1978.50" width="19.92" height="28.33" fill="#f3d1d2"/>
<rect x="578.10" y="1978.50" width="19.92" height="28.33" fill="#ccccff"/>
<rect x="598.02" y="1978.50" width="19.92" height="28.33" fill="#b2b2ff"/>
<rect x="617.93" y="1978.50" width="19.92" height="28.33" fill="#efbabb"/>
<rect x="648.15" y="1978.50" width="19.92" height="28.33" fill="#ffffff"/>
<rect x="668.07" y="1978.50" width="19.92" height="28.33" fill="#bfbfff"/>
<rect x="687.98" y="1978.50" width="19.92" height="28.33" fill="#a6a6ff"/>
<rect x="707.90" y="1978.50" width="19.92" height="28.33" fill="#faf3f4"/>
<rect x="727.82" y="1978.50" width="19.92" height="28.33" fill="#b2b2ff"/>
<rect x="747.73" y="1978.50" width="19.92" height="28.33" fill="#e6e6ff"/>
<rect x="767.65" y="1978.50" width="19.92" height="28.33" fill="#ffffff"/>
<rect x="787.57" y="1978.50" width="19.92" height="28.33" fill="#f8e8e8"/>
<rect x="807.48" y="1978.50" width="19.92" height="28.33" fill="#8c8cff"/>
<rect x="827.40" y="1978.50" width="19.92" height="28.33" fill="#e6e6ff"/>
<rect x="847.32" y="1978.50" width="19.92" height="28.33" fill="#e6e6ff"/>
<rect x="867.23" y="1978.50" width="19.92" height="28.33" fill="#f5dcdd"/>
<rect x="897.50" y="1978.50" width="19.98" height="28.33" fill="#edaeb0"/>
<rect x="917.48" y="1978.50" width="19.98" height="28.33" fill="#f3d1d2"/>
<rect x="937.46" y="1978.50" width="19.98" height="28.33" fill="#f5dcdd"/>
<rect x="957.44" y="1978.50" width="19.98" height="28.33" fill="#ea9799"/>
<rect x="977.42" y="1978.50" width="19.98" height="28.33" fill="#f1c5c6"/>
<rect x="149.35" y="2006.83" width="19.92" height="28.33" fill="#d9d9ff"/>
<rect x="169.27" y="2006.83" width="19.92" height="28.33" fill="#f2f2ff"/>
<rect x="189.18" y="2006.83" width="19.92" height="28.33" fill="#e78082"/>
<rect x="209.10" y="2006.83" width="19.92" height="28.33" fill="#faf3f4"/>
<rect x="229.02" y="2006.83" width="19.92" height="28.33" fill="#f8e8e8"/>
<rect x="248.93" y="2006.83" width="19.92" height="28.33" fill="#fdfafa"/>
<rect x="268.85" y="2006.83" width="19.92" height="28.33" fill="#ffffff"/>
<rect x="288.77" y="2006.83" width="19.92" height="28.33" fill="#f3d1d2"/>
<rect x="308.68" y="2006.83" width="19.92" height="28.33" fill="#edaeb0"/>
<rect x="328.60" y="2006.83" width="19.92" height="28.33" fill="#eca3a4"/>
<rect x="348.52" y="2006.83" width="19.92" height="28.33" fill="#ffffff"/>
<rect x="368.43" y="2006.83" width="19.92" height="28.33" fill="#ffffff"/>
<rect x="398.85" y="2006.83" width="19.92" height="28.33" fill="#f8e8e8"/>
<rect x="418.77" y="2006.83" width="19.92" height="28.33" fill="#f3d1d2"/>
<rect x="438.68" y="2006.83" width="19.92" height="28.33" fill="#a6a6ff"/>
<rect x="458.60" y="2006.83" width="19.92" height="28.33" fill="#f3d1d2"/>
<rect x="478.52" y="2006.83" width="19.92" height="28.33" fill="#ccccff"/>
<rect x="498.43" y="2006.83" width="19.92" height="28.33" fill="#5959ff"/>
<rect x="518.35" y="2006.83" width="19.92" height="28.33" fill="#e6e6ff"/>
<rect x="538.27" y="2006.83" width="19.92" height="28.33" fill="#a6a6ff"/>
<rect x="558.18" y="2006.83" width="19.92" height="28.33" fill="#f2f2ff"/>
<rect x="578.10" y="2006.83" width="19.92" height="28.33" fill="#f2f2ff"/>
<rect x="598.02" y="2006.83" width="19.92" height="28.33" fill="#e6e6ff"/>
<rect x="617.93" y="2006.83" width="19.92" height="28.33" fill="#bfbfff"/>
<rect x="648.15" y="2006.83" width="19.92" height="28.33" fill="#e57477"/>
<rect x="668.07" y="2006.83" width="19.92" height="28.33" fill="#b2b2ff"/>
<rect x="687.98" y="2006.83" width="19.92" height="28.33" fill="#b2b2ff"/>
<rect x="707.90" y="2006.83" width="19.92" height="28.33" fill="#faf3f4"/>
<rect x="727.82" y="2006.83" width="19.92" height="28.33" fill="#ffffff"/>
<rect x="747.73" y="2006.83" width="19.92" height="28.33" fill="#9999ff"/>
<rect x="767.65" y="2006.83" width="19.92" height="28.33" fill="#9999ff"/>
<rect x="787.57" y="2006.83" width="19.92" height="28.33" fill="#d9d9ff"/>
<rect x="807.48" y="2006.83" width="19.92" height="28.33" fill="#f8e8e8"/>
<rect x="827.40" y="2006.83" width="19.92" height="28.33" fill="#bfbfff"/>
<rect x="847.32" y="2006.83" width="19.92" height="28.33" fill="#f2f2ff"/>
<rect x="867.23" y="2006.83" width="19.92" height="28.33" fill="#bfbfff"/>
<rect x="897.50" y="2006.83" width="19.98" height="28.33" fill="#f8e8e8"/>
<rect x="917.48" y="2006.83" width="19.98" height="28.33" fill="#f5dcdd"/>
<rect x="937.46" y="2006.83" width="19.98" height="28.33" fill="#edaeb0"/>
<rect x="957.44" y="2006.83" width="19.98" height="28.33" fill="#f3d1d2"/>
<rect x="977.42" y="2006.83" width="19.98" height="28.33" fill="#e78082"/>
<rect x="149.35" y="2035.16" width="19.92" height="28.33" fill="#a6a6ff"/>
<rect x="169.27" y="2035.16" width="19.92" height="28.33" fill="#f2f2ff"/>
<rect x="189.18" y="2035.16" width="19.92" height="28.33" fill="#efbabb"/>
<rect x="209.10" y="2035.16" width="19.92" height="28.33" fill="#ffffff"/>
<rect x="229.02" y="2035.16" width="19.92" height="28.33" fill="#f2f2ff"/>
<rect x="248.93" y="2035.16" width="19.92" height="28.33" fill="#f1c5c6"/>
<rect x="268.85" y="2035.16" width="19.92" height="28.33" fill="#a6a6ff"/>
<rect x="288.77" y="2035.16" width="19.92" height="28.33" fill="#efbabb"/>
<rect x="308.68" y="2035.16" width="19.92" height="28.33" fill="#edaeb0"/>
<rect x="328.60" y="2035.16" width="19.92" height="28.33" fill="#e25d60"/>
<rect x="348.52" y="2035.16" width="19.92" height="28.33" fill="#ea9799"/>
<rect x="368.43" y="2035.16" width="19.92" height="28.33" fill="#ffffff"/>
<rect x="398.85" y="2035.16" width="19.92" height="28.33" fill="#ccccff"/>
<rect x="418.77" y="2035.16" width="19.92" height="28.33" fill="#f5dcdd"/>
<rect x="438.68" y="2035.16" width="19.92" height="28.33" fill="#8c8cff"/>
<rect x="458.60" y="2035.16" width="19.92" height="28.33" fill="#ffffff"/>
<rect x="478.52" y="2035.16" width="19.92" height="28.33" fill="#d9d9ff"/>
<rect x="498.43" y="2035.16" width="19.92" height="28.33" fill="#8c8cff"/>
<rect x="518.35" y="2035.16" width="19.92" height="28.33" fill="#e6e6ff"/>
<rect x="538.27" y="2035.16" width="19.92" height="28.33" fill="#8080ff"/>
<rect x="558.18" y="2035.16" width="19.92" height="28.33" fill="#e6e6ff"/>
<rect x="578.10" y="2035.16" width="19.92" height="28.33" fill="#f2f2ff"/>
<rect x="598.02" y="2035.16" width="19.92" height="28.33" fill="#ffffff"/>
<rect x="617.93" y="2035.16" width="19.92" height="28.33" fill="#ffffff"/>
<rect x="648.15" y="2035.16" width="19.92" height="28.33" fill="#efbabb"/>
<rect x="668.07" y="2035.16" width="19.92" height="28.33" fill="#bfbfff"/>
<rect x="687.98" y="2035.16" width="19.92" height="28.33" fill="#e6e6ff"/>
<rect x="707.90" y="2035.16" width="19.92" height="28.33" fill="#f8e8e8"/>
<rect x="727.82" y="2035.16" width="19.92" height="28.33" fill="#bfbfff"/>
<rect x="747.73" y="2035.16" width="19.92" height="28.33" fill="#a6a6ff"/>
<rect x="767.65" y="2035.16" width="19.92" height="28.33" fill="#ccccff"/>
<rect x="787.57" y="2035.16" width="19.92" height="28.33" fill="#ccccff"/>
<rect x="807.48" y="2035.16" width="19.92" height="28.33" fill="#fdfafa"/>
<rect x="827.40" y="2035.16" width="19.92" height="28.33" fill="#ffffff"/>
<rect x="847.32" y="2035.16" width="19.92" height="28.33" fill="#ccccff"/>
<rect x="867.23" y="2035.16" width="19.92" height="28.33" fill="#a6a6ff"/>
<rect x="897.50" y="2035.16" width="19.98" height="28.33" fill="#ffffff"/>
<rect x="917.48" y="2035.16" width="19.98" height="28.33" fill="#f3d1d2"/>
<rect x="937.46" y="2035.16" width="19.98" height="28.33" fill="#e57477"/>
<rect x="957.44" y="2035.16" width="19.98" height="28.33" fill="#f5dcdd"/>
<rect x="977.42" y="2035.16" width="19.98" height="28.33" fill="#eca3a4"/>
<rect x="149.35" y="2063.49" width="19.92" height="28.33" fill="#b2b2ff"/>
<rect x="169.27" y="2063.49" width="19.92" height="28.33" fill="#bfbfff"/>
<rect x="189.18" y="2063.49" width="19.92" height="28.33" fill="#edaeb0"/>
<rect x="209.10" y="2063.49" width="19.92" height="28.33" fill="#b2b2ff"/>
<rect x="229.02" y="2063.49" width="19.92" height="28.33" fill="#ffffff"/>
<rect x="248.93" y="2063.49" width="19.92" height="28.33" fill="#edaeb0"/>
<rect x="268.85" y="2063.49" width="19.92" height="28.33" fill="#d9d9ff"/>
<rect x="288.77" y="2063.49" width="19.92" height="28.33" fill="#efbabb"/>
<rect x="308.68" y="2063.49" width="19.92" height="28.33" fill="#edaeb0"/>
<rect x="328.60" y="2063.49" width="19.92" height="28.33" fill="#e78082"/>
<rect x="348.52" y="2063.49" width="19.92" height="28.33" fill="#efbabb"/>
<rect x="368.43" y="2063.49" width="19.92" height="28.33" fill="#faf3f4"/>
<rect x="398.85" y="2063.49" width="19.92" height="28.33" fill="#d9d9ff"/>
<rect x="418.77" y="2063.49" width="19.92" height="28.33" fill="#f3d1d2"/>
<rect x="438.68" y="2063.49" width="19.92" height="28.33" fill="#ccccff"/>
<rect x="458.60" y="2063.49" width="19.92" height="28.33" fill="#e6e6ff"/>
<rect x="478.52" y="2063.49" width="19.92" height="28.33" fill="#e6e6ff"/>
<rect x="498.43" y="2063.49" width="19.92" height="28.33" fill="#8080ff"/>
<rect x="518.35" y="2063.49" width="19.92" height="28.33" fill="#8080ff"/>
<rect x="538.27" y="2063.49" width="19.92" height="28.33" fill="#fdfafa"/>
<rect x="558.18" y="2063.49" width="19.92" height="28.33" fill="#f8e8e8"/>
<rect x="578.10" y="2063.49" width="19.92" height="28.33" fill="#f8e8e8"/>
<rect x="598.02" y="2063.49" width="19.92" height="28.33" fill="#ccccff"/>
<rect x="617.93" y="2063.49" width="19.92" height="28.33" fill="#d9d9ff"/>
<rect x="648.15" y="2063.49" width="19.92" height="28.33" fill="#f5dcdd"/>
<rect x="668.07" y="2063.49" width="19.92" height="28.33" fill="#a6a6ff"/>
<rect x="687.98" y="2063.49" width="19.92" height="28.33" fill="#bfbfff"/>
<rect x="707.90" y="2063.49" width="19.92" height="28.33" fill="#f8e8e8"/>
<rect x="727.82" y="2063.49" width="19.92" height="28.33" fill="#faf3f4"/>
<rect x="747.73" y="2063.49" width="19.92" height="28.33" fill="#d9d9ff"/>
<rect x="767.65" y="2063.49" width="19.92" height="28.33" fill="#a6a6ff"/>
<rect x="787.57" y="2063.49" width="19.92" height="28.33" fill="#ffffff"/>
<rect x="807.48" y="2063.49" width="19.92" height="28.33" fill="#ccccff"/>
<rect x="827.40" y="2063.49" width="19.92" height="28.33" fill="#9999ff"/>
<rect x="847.32" y="2063.49" width="19.92" height="28.33" fill="#f2f2ff"/>
<rect x="867.23" y="2063.49" width="19.92" height="28.33" fill="#bfbfff"/>
<rect x="897.50" y="2063.49" width="19.98" height="28.33" fill="#efbabb"/>
<rect x="917.48" y="2063.49" width="19.98" height="28.33" fill="#ffffff"/>
<rect x="937.46" y="2063.49" width="19.98" height="28.33" fill="#eca3a4"/>
<rect x="957.44" y="2063.49" width="19.98" height="28.33" fill="#e78082"/>
<rect x="977.42" y="2063.49" width="19.98" height="28.33" fill="#f3d1d2"/>
<rect x="149.35" y="2091.82" width="19.92" height="28.33" fill="#b2b2ff"/>
<rect x="169.27" y="2091.82" width="19.92" height="28.33" fill="#f8e8e8"/>
<rect x="189.18" y="2091.82" width="19.92" height="28.33" fill="#eca3a4"/>
<rect x="209.10" y="2091.82" width="19.92" height="28.33" fill="#d9d9ff"/>
<rect x="229.02" y="2091.82" width="19.92" height="28.33" fill="#ffffff"/>
<rect x="248.93" y="2091.82" width="19.92" height="28.33" fill="#e15255"/>
<rect x="268.85" y="2091.82" width="19.92" height="28.33" fill="#ffffff"/>
<rect x="288.77" y="2091.82" width="19.92" height="28.33" fill="#f2f2ff"/>
<rect x="308.68" y="2091.82" width="19.92" height="28.33" fill="#eca3a4"/>
<rect x="328.60" y="2091.82" width="19.92" height="28.33" fill="#e88c8e"/>
<rect x="348.52" y="2091.82" width="19.92" height="28.33" fill="#f3d1d2"/>
<rect x="368.43" y="2091.82" width="19.92" height="28.33" fill="#d9d9ff"/>
<rect x="398.85" y="2091.82" width="19.92" height="28.33" fill="#f2f2ff"/>
<rect x="418.77" y="2091.82" width="19.92" height="28.33" fill="#ffffff"/>
<rect x="438.68" y="2091.82" width="19.92" height="28.33" fill="#b2b2ff"/>
<rect x="458.60" y="2091.82" width="19.92" height="28.33" fill="#e6e6ff"/>
<rect x="478.52" y="2091.82" width="19.92" height="28.33" fill="#d9d9ff"/>
<rect x="498.43" y="2091.82" width="19.92" height="28.33" fill="#7373ff"/>
<rect x="518.35" y="2091.82" width="19.92" height="28.33" fill="#bfbfff"/>
<rect x="538.27" y="2091.82" width="19.92" height="28.33" fill="#fdfafa"/>
<rect x="558.18" y="2091.82" width="19.92" height="28.33" fill="#f5dcdd"/>
<rect x="578.10" y="2091.82" width="19.92" height="28.33" fill="#9999ff"/>
<rect x="598.02" y="2091.82" width="19.92" height="28.33" fill="#d9d9ff"/>
<rect x="617.93" y="2091.82" width="19.92" height="28.33" fill="#bfbfff"/>
<rect x="648.15" y="2091.82" width="19.92" height="28.33" fill="#efbabb"/>
<rect x="668.07" y="2091.82" width="19.92" height="28.33" fill="#f2f2ff"/>
<rect x="687.98" y="2091.82" width="19.92" height="28.33" fill="#9999ff"/>
<rect x="707.90" y="2091.82" width="19.92" height="28.33" fill="#ffffff"/>
<rect x="727.82" y="2091.82" width="19.92" height="28.33" fill="#bfbfff"/>
<rect x="747.73" y="2091.82" width="19.92" height="28.33" fill="#ccccff"/>
<rect x="767.65" y="2091.82" width="19.92" height="28.33" fill="#bfbfff"/>
<rect x="787.57" y="2091.82" width="19.92" height="28.33" fill="#ccccff"/>
<rect x="807.48" y="2091.82" width="19.92" height="28.33" fill="#d9d9ff"/>
<rect x="827.40" y="2091.82" width="19.92" height="28.33" fill="#ffffff"/>
<rect x="847.32" y="2091.82" width="19.92" height="28.33" fill="#ccccff"/>
<rect x="867.23" y="2091.82" width="19.92" height="28.33" fill="#bfbfff"/>
<rect x="897.50" y="2091.82" width="19.98" height="28.33" fill="#f1c5c6"/>
<rect x="917.48" y="2091.82" width="19.98" height="28.33" fill="#f8e8e8"/>
<rect x="937.46" y="2091.82" width="19.98" height="28.33" fill="#e25d60"/>
<rect x="957.44" y="2091.82" width="19.98" height="28.33" fill="#efbabb"/>
<rect x="977.42" y="2091.82" width="19.98" height="28.33" fill="#f1c5c6"/>
<rect x="149.35" y="2120.15" width="19.92" height="28.33" fill="#9999ff"/>
<rect x="169.27" y="2120.15" width="19.92" height="28.33" fill="#ffffff"/>
<rect x="189.18" y="2120.15" width="19.92" height="28.33" fill="#ea9799"/>
<rect x="209.10" y="2120.15" width="19.92" height="28.33" fill="#d9d9ff"/>
<rect x="229.02" y="2120.15" width="19.92" height="28.33" fill="#e6e6ff"/>
<rect x="248.93" y="2120.15" width="19.92" height="28.33" fill="#e78082"/>
<rect x="268.85" y="2120.15" width="19.92" height="28.33" fill="#f8e8e8"/>
<rect x="288.77" y="2120.15" width="19.92" height="28.33" fill="#f2f2ff"/>
<rect x="308.68" y="2120.15" width="19.92" height="28.33" fill="#f3d1d2"/>
<rect x="328.60" y="2120.15" width="19.92" height="28.33" fill="#ea9799"/>
<rect x="348.52" y="2120.15" width="19.92" height="28.33" fill="#f5dcdd"/>
<rect x="368.43" y="2120.15" width="19.92" height="28.33" fill="#f5dcdd"/>
<rect x="398.85" y="2120.15" width="19.92" height="28.33" fill="#a6a6ff"/>
<rect x="418.77" y="2120.15" width="19.92" height="28.33" fill="#ffffff"/>
<rect x="438.68" y="2120.15" width="19.92" height="28.33" fill="#8c8cff"/>
<rect x="458.60" y="2120.15" width="19.92" height="28.33" fill="#faf3f4"/>
<rect x="478.52" y="2120.15" width="19.92" height="28.33" fill="#b2b2ff"/>
<rect x="498.43" y="2120.15" width="19.92" height="28.33" fill="#4040ff"/>
<rect x="518.35" y="2120.15" width="19.92" height="28.33" fill="#8c8cff"/>
<rect x="538.27" y="2120.15" width="19.92" height="28.33" fill="#ffffff"/>
<rect x="558.18" y="2120.15" width="19.92" height="28.33" fill="#f2f2ff"/>
<rect x="578.10" y="2120.15" width="19.92" height="28.33" fill="#f2f2ff"/>
<rect x="598.02" y="2120.15" width="19.92" height="28.33" fill="#d9d9ff"/>
<rect x="617.93" y="2120.15" width="19.92" height="28.33" fill="#f1c5c6"/>
<rect x="648.15" y="2120.15" width="19.92" height="28.33" fill="#f1c5c6"/>
<rect x="668.07" y="2120.15" width="19.92" height="28.33" fill="#e6e6ff"/>
<rect x="687.98" y="2120.15" width="19.92" height="28.33" fill="#ccccff"/>
<rect x="707.90" y="2120.15" width="19.92" height="28.33" fill="#ffffff"/>
<rect x="727.82" y="2120.15" width="19.92" height="28.33" fill="#e6e6ff"/>
<rect x="747.73" y="2120.15" width="19.92" height="28.33" fill="#ccccff"/>
<rect x="767.65" y="2120.15" width="19.92" height="28.33" fill="#e6e6ff"/>
<rect x="787.57" y="2120.15" width="19.92" height="28.33" fill="#f2f2ff"/>
<rect x="807.48" y="2120.15" width="19.92" height="28.33" fill="#ccccff"/>
<rect x="827.40" y="2120.15" width="19.92" height="28.33" fill="#ffffff"/>
<rect x="847.32" y="2120.15" width="19.92" height="28.33" fill="#ccccff"/>
<rect x="867.23" y="2120.15" width="19.92" height="28.33" fill="#bfbfff"/>
<rect x="897.50" y="2120.15" width="19.98" height="28.33" fill="#f8e8e8"/>
<rect x="917.48" y="2120.15" width="19.98" height="28.33" fill="#f8e8e8"/>
<rect x="937.46" y="2120.15" width="19.98" height="28.33" fill="#e78082"/>
<rect x="957.44" y="2120.15" width="19.98" height="28.33" fill="#efbabb"/>
<rect x="977.42" y="2120.15" width="19.98" height="28.33" fill="#e78082"/>
<rect x="149.35" y="2148.48" width="19.92" height="28.33" fill="#ccccff"/>
<rect x="169.27" y="2148.48" width="19.92" height="28.33" fill="#efbabb"/>
<rect x="189.18" y="2148.48" width="19.92" height="28.33" fill="#edaeb0"/>
<rect x="209.10" y="2148.48" width="19.92" height="28.33" fill="#d9d9ff"/>
<rect x="229.02" y="2148.48" width="19.92" height="28.33" fill="#efbabb"/>
<rect x="248.93" y="2148.48" width="19.92" height="28.33" fill="#f3d1d2"/>
<rect x="268.85" y="2148.48" width="19.92" height="28.33" fill="#a6a6ff"/>
<rect x="288.77" y="2148.48" width="19.92" height="28.33" fill="#f1c5c6"/>
<rect x="308.68" y="2148.48" width="19.92" height="28.33" fill="#f1c5c6"/>
<rect x="328.60" y="2148.48" width="19.92" height="28.33" fill="#edaeb0"/>
<rect x="348.52" y="2148.48" width="19.92" height="28.33" fill="#f8e8e8"/>
<rect x="368.43" y="2148.48" width="19.92" height="28.33" fill="#d9d9ff"/>
<rect x="398.85" y="2148.48" width="19.92" height="28.33" fill="#b2b2ff"/>
<rect x="418.77" y="2148.48" width="19.92" height="28.33" fill="#fdfafa"/>
<rect x="438.68" y="2148.48" width="19.92" height="28.33" fill="#e6e6ff"/>
<rect x="458.60" y="2148.48" width="19.92" height="28.33" fill="#ccccff"/>
<rect x="478.52" y="2148.48" width="19.92" height="28.33" fill="#ffffff"/>
<rect x="498.43" y="2148.48" width="19.92" height="28.33" fill="#4c4cff"/>
<rect x="518.35" y="2148.48" width="19.92" height="28.33" fill="#efbabb"/>
<rect x="538.27" y="2148.48" width="19.92" height="28.33" fill="#8080ff"/>
<rect x="558.18" y="2148.48" width="19.92" height="28.33" fill="#f3d1d2"/>
<rect x="578.10" y="2148.48" width="19.92" height="28.33" fill="#e6e6ff"/>
<rect x="598.02" y="2148.48" width="19.92" height="28.33" fill="#efbabb"/>
<rect x="617.93" y="2148.48" width="19.92" height="28.33" fill="#f5dcdd"/>
<rect x="648.15" y="2148.48" width="19.92" height="28.33" fill="#fcf8f8"/>
<rect x="668.07" y="2148.48" width="19.92" height="28.33" fill="#bfbfff"/>
<rect x="687.98" y="2148.48" width="19.92" height="28.33" fill="#5959ff"/>
<rect x="707.90" y="2148.48" width="19.92" height="28.33" fill="#ccccff"/>
<rect x="727.82" y="2148.48" width="19.92" height="28.33" fill="#ccccff"/>
<rect x="747.73" y="2148.48" width="19.92" height="28.33" fill="#a6a6ff"/>
<rect x="767.65" y="2148.48" width="19.92" height="28.33" fill="#e6e6ff"/>
<rect x="787.57" y="2148.48" width="19.92" height="28.33" fill="#e6e6ff"/>
<rect x="807.48" y="2148.48" width="19.92" height="28.33" fill="#ffffff"/>
<rect x="827.40" y="2148.48" width="19.92" height="28.33" fill="#faf3f4"/>
<rect x="847.32" y="2148.48" width="19.92" height="28.33" fill="#ffffff"/>
<rect x="867.23" y="2148.48" width="19.92" height="28.33" fill="#bfbfff"/>
<rect x="897.50" y="2148.48" width="19.98" height="28.33" fill="#efbabb"/>
<rect x="917.48" y="2148.48" width="19.98" height="28.33" fill="#f1c5c6"/>
<rect x="937.46" y="2148.48" width="19.98" height="28.33" fill="#ea9799"/>
<rect x="957.44" y="2148.48" width="19.98" height="28.33" fill="#efbabb"/>
<rect x="977.42" y="2148.48" width="19.98" height="28.33" fill="#f5dcdd"/>
<rect x="149.35" y="2176.81" width="19.92" height="28.33" fill="#ccccff"/>
<rect x="169.27" y="2176.81" width="19.92" height="28.33" fill="#f2f2ff"/>
<rect x="189.18" y="2176.81" width="19.92" height="28.33" fill="#eca3a4"/>
<rect x="209.10" y="2176.81" width="19.92" height="28.33" fill="#ffffff"/>
<rect x="229.02" y="2176.81" width="19.92" height="28.33" fill="#f1c5c6"/>
<rect x="248.93" y="2176.81" width="19.92" height="28.33" fill="#eca3a4"/>
<rect x="268.85" y="2176.81" width="19.92" height="28.33" fill="#f5dcdd"/>
<rect x="288.77" y="2176.81" width="19.92" height="28.33" fill="#f2f2ff"/>
<rect x="308.68" y="2176.81" width="19.92" height="28.33" fill="#f1c5c6"/>
<rect x="328.60" y="2176.81" width="19.92" height="28.33" fill="#f1c5c6"/>
<rect x="348.52" y="2176.81" width="19.92" height="28.33" fill="#e88c8e"/>
<rect x="368.43" y="2176.81" width="19.92" height="28.33" fill="#faf3f4"/>
<rect x="398.85" y="2176.81" width="19.92" height="28.33" fill="#a6a6ff"/>
<rect x="418.77" y="2176.81" width="19.92" height="28.33" fill="#e6e6ff"/>
<rect x="438.68" y="2176.81" width="19.92" height="28.33" fill="#5959ff"/>
<rect x="458.60" y="2176.81" width="19.92" height="28.33" fill="#e6e6ff"/>
<rect x="478.52" y="2176.81" width="19.92" height="28.33" fill="#8c8cff"/>
<rect x="498.43" y="2176.81" width="19.92" height="28.33" fill="#6666ff"/>
<rect x="518.35" y="2176.81" width="19.92" height="28.33" fill="#f3d1d2"/>
<rect x="538.27" y="2176.81" width="19.92" height="28.33" fill="#bfbfff"/>
<rect x="558.18" y="2176.81" width="19.92" height="28.33" fill="#f3d1d2"/>
<rect x="578.10" y="2176.81" width="19.92" height="28.33" fill="#ccccff"/>
<rect x="598.02" y="2176.81" width="19.92" height="28.33" fill="#bfbfff"/>
<rect x="617.93" y="2176.81" width="19.92" height="28.33" fill="#f3d1d2"/>
<rect x="648.15" y="2176.81" width="19.92" height="28.33" fill="#f8e8e8"/>
<rect x="668.07" y="2176.81" width="19.92" height="28.33" fill="#bfbfff"/>
<rect x="687.98" y="2176.81" width="19.92" height="28.33" fill="#8c8cff"/>
<rect x="707.90" y="2176.81" width="19.92" height="28.33" fill="#ffffff"/>
<rect x="727.82" y="2176.81" width="19.92" height="28.33" fill="#faf3f4"/>
<rect x="747.73" y="2176.81" width="19.92" height="28.33" fill="#d9d9ff"/>
<rect x="767.65" y="2176.81" width="19.92" height="28.33" fill="#b2b2ff"/>
<rect x="787.57" y="2176.81" width="19.92" height="28.33" fill="#edaeb0"/>
<rect x="807.48" y="2176.81" width="19.92" height="28.33" fill="#e6e6ff"/>
<rect x="827.40" y="2176.81" width="19.92" height="28.33" fill="#f8e8e8"/>
<rect x="847.32" y="2176.81" width="19.92" height="28.33" fill="#ffffff"/>
<rect x="867.23" y="2176.81" width="19.92" height="28.33" fill="#b2b2ff"/>
<rect x="897.50" y="2176.81" width="19.98" height="28.33" fill="#f1c5c6"/>
<rect x="917.48" y="2176.81" width="19.98" height="28.33" fill="#f8e8e8"/>
<rect x="937.46" y="2176.81" width="19.98" height="28.33" fill="#f8e8e8"/>
<rect x="957.44" y="2176.81" width="19.98" height="28.33" fill="#e88c8e"/>
<rect x="977.42" y="2176.81" width="19.98" height="28.33" fill="#ffffff"/>
<rect x="149.35" y="2205.14" width="19.92" height="28.33" fill="#ffffff"/>
<rect x="169.27" y="2205.14" width="19.92" height="28.33" fill="#efbabb"/>
<rect x="189.18" y="2205.14" width="19.92" height="28.33" fill="#f3d1d2"/>
<rect x="209.10" y="2205.14" width="19.92" height="28.33" fill="#faf3f4"/>
<rect x="229.02" y="2205.14" width="19.92" height="28.33" fill="#ffffff"/>
<rect x="248.93" y="2205.14" width="19.92" height="28.33" fill="#e6e6ff"/>
<rect x="268.85" y="2205.14" width="19.92" height="28.33" fill="#f8e8e8"/>
<rect x="288.77" y="2205.14" width="19.92" height="28.33" fill="#f8e8e8"/>
<rect x="308.68" y="2205.14" width="19.92" height="28.33" fill="#f1c5c6"/>
<rect x="328.60" y="2205.14" width="19.92" height="28.33" fill="#efbabb"/>
<rect x="348.52" y="2205.14" width="19.92" height="28.33" fill="#e78082"/>
<rect x="368.43" y="2205.14" width="19.92" height="28.33" fill="#e6e6ff"/>
<rect x="398.85" y="2205.14" width="19.92" height="28.33" fill="#8c8cff"/>
<rect x="418.77" y="2205.14" width="19.92" height="28.33" fill="#f2f2ff"/>
<rect x="438.68" y="2205.14" width="19.92" height="28.33" fill="#a6a6ff"/>
<rect x="458.60" y="2205.14" width="19.92" height="28.33" fill="#f8e8e8"/>
<rect x="478.52" y="2205.14" width="19.92" height="28.33" fill="#e6e6ff"/>
<rect x="498.43" y="2205.14" width="19.92" height="28.33" fill="#7373ff"/>
<rect x="518.35" y="2205.14" width="19.92" height="28.33" fill="#f3d1d2"/>
<rect x="538.27" y="2205.14" width="19.92" height="28.33" fill="#e6e6ff"/>
<rect x="558.18" y="2205.14" width="19.92" height="28.33" fill="#f8e8e8"/>
<rect x="578.10" y="2205.14" width="19.92" height="28.33" fill="#9999ff"/>
<rect x="598.02" y="2205.14" width="19.92" height="28.33" fill="#b2b2ff"/>
<rect x="617.93" y="2205.14" width="19.92" height="28.33" fill="#fdfafa"/>
<rect x="648.15" y="2205.14" width="19.92" height="28.33" fill="#efbabb"/>
<rect x="668.07" y="2205.14" width="19.92" height="28.33" fill="#f2f2ff"/>
<rect x="687.98" y="2205.14" width="19.92" height="28.33" fill="#5959ff"/>
<rect x="707.90" y="2205.14" width="19.92" height="28.33" fill="#ffffff"/>
<rect x="727.82" y="2205.14" width="19.92" height="28.33" fill="#bfbfff"/>
<rect x="747.73" y="2205.14" width="19.92" height="28.33" fill="#bfbfff"/>
<rect x="767.65" y="2205.14" width="19.92" height="28.33" fill="#bfbfff"/>
<rect x="787.57" y="2205.14" width="19.92" height="28.33" fill="#f3d1d2"/>
<rect x="807.48" y="2205.14" width="19.92" height="28.33" fill="#7373ff"/>
<rect x="827.40" y="2205.14" width="19.92" height="28.33" fill="#ffffff"/>
<rect x="847.32" y="2205.14" width="19.92" height="28.33" fill="#f2f2ff"/>
<rect x="867.23" y="2205.14" width="19.92" height="28.33" fill="#bfbfff"/>
<rect x="897.50" y="2205.14" width="19.98" height="28.33" fill="#f1c5c6"/>
<rect x="917.48" y="2205.14" width="19.98" height="28.33" fill="#f1c5c6"/>
<rect x="937.46" y="2205.14" width="19.98" height="28.33" fill="#edaeb0"/>
<rect x="957.44" y="2205.14" width="19.98" height="28.33" fill="#efbabb"/>
<rect x="977.42" y="2205.14" width="19.98" height="28.33" fill="#f3d1d2"/>
<rect x="149.35" y="2233.47" width="19.92" height="28.33" fill="#ffffff"/>
<rect x="169.27" y="2233.47" width="19.92" height="28.33" fill="#f3d1d2"/>
<rect x="189.18" y="2233.47" width="19.92" height="28.33" fill="#ffffff"/>
<rect x="209.10" y="2233.47" width="19.92" height="28.33" fill="#f8e8e8"/>
<rect x="229.02" y="2233.47" width="19.92" height="28.33" fill="#ccccff"/>
<rect x="248.93" y="2233.47" width="19.92" height="28.33" fill="#bfbfff"/>
<rect x="268.85" y="2233.47" width="19.92" height="28.33" fill="#f1c5c6"/>
<rect x="288.77" y="2233.47" width="19.92" height="28.33" fill="#efbabb"/>
<rect x="308.68" y="2233.47" width="19.92" height="28.33" fill="#efbabb"/>
<rect x="328.60" y="2233.47" width="19.92" height="28.33" fill="#e78082"/>
<rect x="348.52" y="2233.47" width="19.92" height="28.33" fill="#e4696b"/>
<rect x="368.43" y="2233.47" width="19.92" height="28.33" fill="#ffffff"/>
<rect x="398.85" y="2233.47" width="19.92" height="28.33" fill="#8c8cff"/>
<rect x="418.77" y="2233.47" width="19.92" height="28.33" fill="#f2f2ff"/>
<rect x="438.68" y="2233.47" width="19.92" height="28.33" fill="#8c8cff"/>
<rect x="458.60" y="2233.47" width="19.92" height="28.33" fill="#ffffff"/>
<rect x="478.52" y="2233.47" width="19.92" height="28.33" fill="#bfbfff"/>
<rect x="498.43" y="2233.47" width="19.92" height="28.33" fill="#9999ff"/>
<rect x="518.35" y="2233.47" width="19.92" height="28.33" fill="#f8e8e8"/>
<rect x="538.27" y="2233.47" width="19.92" height="28.33" fill="#a6a6ff"/>
<rect x="558.18" y="2233.47" width="19.92" height="28.33" fill="#fdfafa"/>
<rect x="578.10" y="2233.47" width="19.92" height="28.33" fill="#a6a6ff"/>
<rect x="598.02" y="2233.47" width="19.92" height="28.33" fill="#d9d9ff"/>
<rect x="617.93" y="2233.47" width="19.92" height="28.33" fill="#f2f2ff"/>
<rect x="648.15" y="2233.47" width="19.92" height="28.33" fill="#f8e8e8"/>
<rect x="668.07" y="2233.47" width="19.92" height="28.33" fill="#b2b2ff"/>
<rect x="687.98" y="2233.47" width="19.92" height="28.33" fill="#bfbfff"/>
<rect x="707.90" y="2233.47" width="19.92" height="28.33" fill="#ccccff"/>
<rect x="727.82" y="2233.47" width="19.92" height="28.33" fill="#ffffff"/>
<rect x="747.73" y="2233.47" width="19.92" height="28.33" fill="#ccccff"/>
<rect x="767.65" y="2233.47" width="19.92" height="28.33" fill="#9999ff"/>
<rect x="787.57" y="2233.47" width="19.92" height="28.33" fill="#f3d1d2"/>
<rect x="807.48" y="2233.47" width="19.92" height="28.33" fill="#f5dcdd"/>
<rect x="827.40" y="2233.47" width="19.92" height="28.33" fill="#f2f2ff"/>
<rect x="847.32" y="2233.47" width="19.92" height="28.33" fill="#ffffff"/>
<rect x="867.23" y="2233.47" width="19.92" height="28.33" fill="#bfbfff"/>
<rect x="897.50" y="2233.47" width="19.98" height="28.33" fill="#f3d1d2"/>
<rect x="917.48" y="2233.47" width="19.98" height="28.33" fill="#efbabb"/>
<rect x="937.46" y="2233.47" width="19.98" height="28.33" fill="#ea9799"/>
<rect x="957.44" y="2233.47" width="19.98" height="28.33" fill="#ea9799"/>
<rect x="977.42" y="2233.47" width="19.98" height="28.33" fill="#f3d1d2"/>
</g>
<text x="1005.5" y="798.5" font-size="28.4" font-weight="bold">Sex</text>
<text x="1005.5" y="833" font-size="28.4" font-weight="bold">Cohort</text>
<g font-size="28.4">
<text x="1005.5" y="869.3">TNFRSF25</text>
<text x="1005.5" y="897.6">FXYD6</text>
<text x="1005.5" y="925.9">SDC3</text>
<text x="1005.5" y="954.3">GNB1</text>
<text x="1005.5" y="982.6">PRCP</text>
<text x="1005.5" y="1010.9">EPS8</text>
<text x="1005.5" y="1039.2">ATP2B4</text>
<text x="1005.5" y="1067.6">COL5A3</text>
<text x="1005.5" y="1095.9">PLXND1</text>
<text x="1005.5" y="1124.2">PDGFRB</text>
<text x="1005.5" y="1152.6">GNG11</text>
<text x="1005.5" y="1180.9">SPTBN1</text>
<text x="1005.5" y="1209.2">FAM198B</text>
<text x="1005.5" y="1237.6">SPARC</text>
<text x="1005.5" y="1265.9">COL4A2</text>
<text x="1005.5" y="1294.2">COL4A1</text>
<text x="1005.5" y="1322.5">MAML2</text>
<text x="1005.5" y="1350.9">EPB41L1</text>
<text x="1005.5" y="1379.2">SASH1</text>
<text x="1005.5" y="1407.5">DOCK9</text>
<text x="1005.5" y="1435.9">MYO1B</text>
<text x="1005.5" y="1464.2">EPB41L2</text>
<text x="1005.5" y="1492.5">DOCK1</text>
<text x="1005.5" y="1520.9">CTTNBP2NL</text>
<text x="1005.5" y="1549.2">NUMB</text>
<text x="1005.5" y="1577.5">BTNL9</text>
<text x="1005.5" y="1605.8">SHANK3</text>
<text x="1005.5" y="1634.2">ARAP3</text>
<text x="1005.5" y="1662.5">NOTCH4</text>
<text x="1005.5" y="1690.8">DOCK6</text>
<text x="1005.5" y="1719.2" textLength="184.3" lengthAdjust="spacing">CSGALNACT1</text>
<text x="1005.5" y="1747.5">MAP4K2</text>
<text x="1005.5" y="1775.8">TEK</text>
<text x="1005.5" y="1804.2">TSPAN18</text>
<text x="1005.5" y="1832.5">FABP5</text>
<text x="1005.5" y="1860.8">DTX3</text>
<text x="1005.5" y="1889.1">CBL</text>
<text x="1005.5" y="1917.5">LPAR6</text>
<text x="1005.5" y="1945.8">KCNQ1</text>
<text x="1005.5" y="1974.1">NRP1</text>
<text x="1005.5" y="2002.5">ITGA6</text>
<text x="1005.5" y="2030.8">ESAM</text>
<text x="1005.5" y="2059.1">ARHGAP31</text>
<text x="1005.5" y="2087.5">SIPA1</text>
<text x="1005.5" y="2115.8">CD93</text>
<text x="1005.5" y="2144.1">DLC1</text>
<text x="1005.5" y="2172.4">RASGRF2</text>
<text x="1005.5" y="2200.8">FLT1</text>
<text x="1005.5" y="2229.1">ITGA1</text>
<text x="1005.5" y="2257.4">PTPRB</text>
</g>
<g>
<rect x="1213.4" y="771.90" width="28.0" height="3.97" fill="#da1a1e"/>
<rect x="1213.4" y="776.15" width="28.0" height="3.97" fill="#db1f23"/>
<rect x="1213.4" y="780.39" width="28.0" height="3.97" fill="#db2427"/>
<rect x="1213.4" y="784.64" width="28.0" height="3.97" fill="#dc282c"/>
<rect x="1213.4" y="788.88" width="28.0" height="3.97" fill="#dc2d30"/>
<rect x="1213.4" y="793.13" width="28.0" height="3.97" fill="#dd3135"/>
<rect x="1213.4" y="797.38" width="28.0" height="3.97" fill="#dd363a"/>
<rect x="1213.4" y="801.62" width="28.0" height="3.97" fill="#de3b3e"/>
<rect x="1213.4" y="805.87" width="28.0" height="3.97" fill="#df3f43"/>
<rect x="1213.4" y="810.11" width="28.0" height="3.97" fill="#df4447"/>
<rect x="1213.4" y="814.36" width="28.0" height="3.97" fill="#e0494c"/>
<rect x="1213.4" y="818.61" width="28.0" height="3.97" fill="#e04d50"/>
<rect x="1213.4" y="822.85" width="28.0" height="3.97" fill="#e15255"/>
<rect x="1213.4" y="827.10" width="28.0" height="3.97" fill="#e15659"/>
<rect x="1213.4" y="831.34" width="28.0" height="3.97" fill="#e25b5e"/>
<rect x="1213.4" y="835.59" width="28.0" height="3.97" fill="#e26062"/>
<rect x="1213.4" y="839.84" width="28.0" height="3.97" fill="#e36467"/>
<rect x="1213.4" y="844.08" width="28.0" height="3.97" fill="#e4696b"/>
<rect x="1213.4" y="848.33" width="28.0" height="3.97" fill="#e46d70"/>
<rect x="1213.4" y="852.57" width="28.0" height="3.97" fill="#e57275"/>
<rect x="1213.4" y="856.82" width="28.0" height="3.97" fill="#e57779"/>
<rect x="1213.4" y="861.07" width="28.0" height="3.97" fill="#e67b7e"/>
<rect x="1213.4" y="865.31" width="28.0" height="3.97" fill="#e78082"/>
<rect x="1213.4" y="869.56" width="28.0" height="3.97" fill="#e78587"/>
<rect x="1213.4" y="873.80" width="28.0" height="3.97" fill="#e8898b"/>
<rect x="1213.4" y="878.05" width="28.0" height="3.97" fill="#e98e90"/>
<rect x="1213.4" y="882.30" width="28.0" height="3.97" fill="#e99294"/>
<rect x="1213.4" y="886.54" width="28.0" height="3.97" fill="#ea9799"/>
<rect x="1213.4" y="890.79" width="28.0" height="3.97" fill="#eb9c9d"/>
<rect x="1213.4" y="895.03" width="28.0" height="3.97" fill="#eba0a2"/>
<rect x="1213.4" y="899.28" width="28.0" height="3.97" fill="#eca5a6"/>
<rect x="1213.4" y="903.53" width="28.0" height="3.97" fill="#edaaab"/>
<rect x="1213.4" y="907.77" width="28.0" height="3.97" fill="#edaeb0"/>
<rect x="1213.4" y="912.02" width="28.0" height="3.97" fill="#eeb3b4"/>
<rect x="1213.4" y="916.26" width="28.0" height="3.97" fill="#efb7b9"/>
<rect x="1213.4" y="920.51" width="28.0" height="3.97" fill="#efbcbd"/>
<rect x="1213.4" y="924.76" width="28.0" height="3.97" fill="#f0c1c2"/>
<rect x="1213.4" y="929.00" width="28.0" height="3.97" fill="#f1c5c6"/>
<rect x="1213.4" y="933.25" width="28.0" height="3.97" fill="#f2cacb"/>
<rect x="1213.4" y="937.49" width="28.0" height="3.97" fill="#f3cecf"/>
<rect x="1213.4" y="941.74" width="28.0" height="3.97" fill="#f3d3d4"/>
<rect x="1213.4" y="945.99" width="28.0" height="3.97" fill="#f4d8d8"/>
<rect x="1213.4" y="950.23" width="28.0" height="3.97" fill="#f5dcdd"/>
<rect x="1213.4" y="954.48" width="28.0" height="3.97" fill="#f6e1e1"/>
<rect x="1213.4" y="958.72" width="28.0" height="3.97" fill="#f7e6e6"/>
<rect x="1213.4" y="962.97" width="28.0" height="3.97" fill="#f8eaeb"/>
<rect x="1213.4" y="967.22" width="28.0" height="3.97" fill="#f9efef"/>
<rect x="1213.4" y="971.46" width="28.0" height="3.97" fill="#faf3f4"/>
<rect x="1213.4" y="975.71" width="28.0" height="3.97" fill="#fcf8f8"/>
<rect x="1213.4" y="979.95" width="28.0" height="3.97" fill="#fefdfd"/>
<rect x="1213.4" y="984.20" width="28.0" height="3.97" fill="#fcfcff"/>
<rect x="1213.4" y="988.45" width="28.0" height="3.97" fill="#f7f7ff"/>
<rect x="1213.4" y="992.69" width="28.0" height="3.97" fill="#f2f2ff"/>
<rect x="1213.4" y="996.94" width="28.0" height="3.97" fill="#ededff"/>
<rect x="1213.4" y="1001.18" width="28.0" height="3.97" fill="#e8e8ff"/>
<rect x="1213.4" y="1005.43" width="28.0" height="3.97" fill="#e3e3ff"/>
<rect x="1213.4" y="1009.68" width="28.0" height="3.97" fill="#dedeff"/>
<rect x="1213.4" y="1013.92" width="28.0" height="3.97" fill="#d9d9ff"/>
<rect x="1213.4" y="1018.17" width="28.0" height="3.97" fill="#d4d4ff"/>
<rect x="1213.4" y="1022.41" width="28.0" height="3.97" fill="#cfcfff"/>
<rect x="1213.4" y="1026.66" width="28.0" height="3.97" fill="#c9c9ff"/>
<rect x="1213.4" y="1030.91" width="28.0" height="3.97" fill="#c4c4ff"/>
<rect x="1213.4" y="1035.15" width="28.0" height="3.97" fill="#bfbfff"/>
<rect x="1213.4" y="1039.40" width="28.0" height="3.97" fill="#babaff"/>
<rect x="1213.4" y="1043.64" width="28.0" height="3.97" fill="#b5b5ff"/>
<rect x="1213.4" y="1047.89" width="28.0" height="3.97" fill="#b0b0ff"/>
<rect x="1213.4" y="1052.14" width="28.0" height="3.97" fill="#ababff"/>
<rect x="1213.4" y="1056.38" width="28.0" height="3.97" fill="#a6a6ff"/>
<rect x="1213.4" y="1060.63" width="28.0" height="3.97" fill="#a1a1ff"/>
<rect x="1213.4" y="1064.87" width="28.0" height="3.97" fill="#9c9cff"/>
<rect x="1213.4" y="1069.12" width="28.0" height="3.97" fill="#9696ff"/>
<rect x="1213.4" y="1073.37" width="28.0" height="3.97" fill="#9191ff"/>
<rect x="1213.4" y="1077.61" width="28.0" height="3.97" fill="#8c8cff"/>
<rect x="1213.4" y="1081.86" width="28.0" height="3.97" fill="#8787ff"/>
<rect x="1213.4" y="1086.10" width="28.0" height="3.97" fill="#8282ff"/>
<rect x="1213.4" y="1090.35" width="28.0" height="3.97" fill="#7d7dff"/>
<rect x="1213.4" y="1094.60" width="28.0" height="3.97" fill="#7878ff"/>
<rect x="1213.4" y="1098.84" width="28.0" height="3.97" fill="#7373ff"/>
<rect x="1213.4" y="1103.09" width="28.0" height="3.97" fill="#6e6eff"/>
<rect x="1213.4" y="1107.33" width="28.0" height="3.97" fill="#6969ff"/>
<rect x="1213.4" y="1111.58" width="28.0" height="3.97" fill="#6363ff"/>
<rect x="1213.4" y="1115.83" width="28.0" height="3.97" fill="#5e5eff"/>
<rect x="1213.4" y="1120.07" width="28.0" height="3.97" fill="#5959ff"/>
<rect x="1213.4" y="1124.32" width="28.0" height="3.97" fill="#5454ff"/>
<rect x="1213.4" y="1128.56" width="28.0" height="3.97" fill="#4f4fff"/>
<rect x="1213.4" y="1132.81" width="28.0" height="3.97" fill="#4a4aff"/>
<rect x="1213.4" y="1137.06" width="28.0" height="3.97" fill="#4545ff"/>
<rect x="1213.4" y="1141.30" width="28.0" height="3.97" fill="#4040ff"/>
<rect x="1213.4" y="1145.55" width="28.0" height="3.97" fill="#3b3bff"/>
<rect x="1213.4" y="1149.79" width="28.0" height="3.97" fill="#3636ff"/>
<rect x="1213.4" y="1154.04" width="28.0" height="3.97" fill="#3030ff"/>
<rect x="1213.4" y="1158.29" width="28.0" height="3.97" fill="#2b2bff"/>
<rect x="1213.4" y="1162.53" width="28.0" height="3.97" fill="#2626ff"/>
<rect x="1213.4" y="1166.78" width="28.0" height="3.97" fill="#2121ff"/>
<rect x="1213.4" y="1171.02" width="28.0" height="3.97" fill="#1c1cff"/>
<rect x="1213.4" y="1175.27" width="28.0" height="3.97" fill="#1717ff"/>
<rect x="1213.4" y="1179.52" width="28.0" height="3.97" fill="#1212ff"/>
<rect x="1213.4" y="1183.76" width="28.0" height="3.97" fill="#0d0dff"/>
<rect x="1213.4" y="1188.01" width="28.0" height="3.97" fill="#0808ff"/>
<rect x="1213.4" y="1192.25" width="28.0" height="3.97" fill="#0303ff"/>
</g>
<g font-size="28.4">
<text x="1252.5" y="824.9">3</text>
<text x="1252.5" y="881.8">2</text>
<text x="1252.5" y="938.6">1</text>
<text x="1252.5" y="995.5">0</text>
<text x="1252.5" y="1052.4">−1</text>
<text x="1252.5" y="1109.2">−2</text>
<text x="1252.5" y="1166.1">−3</text>
</g>
<text x="1294.5" y="792" font-size="28.4" font-weight="bold">Sex</text>
<text x="1294.5" y="934.8" font-size="28.4" font-weight="bold">Cohort</text>
<rect x="1294.7" y="801.9" width="40.8" height="40.6" fill="#a3d4c7" stroke="#8f8f8f" stroke-width="1.5"/>
<text x="1343.7" y="833.1" font-size="28.4">M</text>
<rect x="1294.7" y="842.7" width="40.8" height="40.6" fill="#ffffb3" stroke="#8f8f8f" stroke-width="1.5"/>
<text x="1343.7" y="873.9" font-size="28.4">F</text>
<rect x="1294.7" y="945.1" width="40.8" height="40.6" fill="#ffffff" stroke="#8f8f8f" stroke-width="1.5"/>
<text x="1343.7" y="975.9" font-size="28.4">Basal YA</text>
<rect x="1294.7" y="985.7" width="40.8" height="40.6" fill="#bebebe" stroke="#8f8f8f" stroke-width="1.5"/>
<text x="1343.7" y="1016.5" font-size="28.4">Basal OA</text>
<rect x="1294.7" y="1026.3" width="40.8" height="40.6" fill="#555555" stroke="#8f8f8f" stroke-width="1.5"/>
<text x="1343.7" y="1057.1" font-size="28.4">Basal PD</text>
<rect x="1294.7" y="1066.9" width="40.8" height="40.6" fill="#8a25e6" stroke="#8f8f8f" stroke-width="1.5"/>
<text x="1343.7" y="1097.7" font-size="28.4">PD pre−RT</text>
<rect x="1294.7" y="1107.5" width="40.8" height="40.6" fill="#dc0000" stroke="#8f8f8f" stroke-width="1.5"/>
<text x="1343.7" y="1138.3" font-size="28.4">PD post−RT</text>
</g>
</svg></body></html>
